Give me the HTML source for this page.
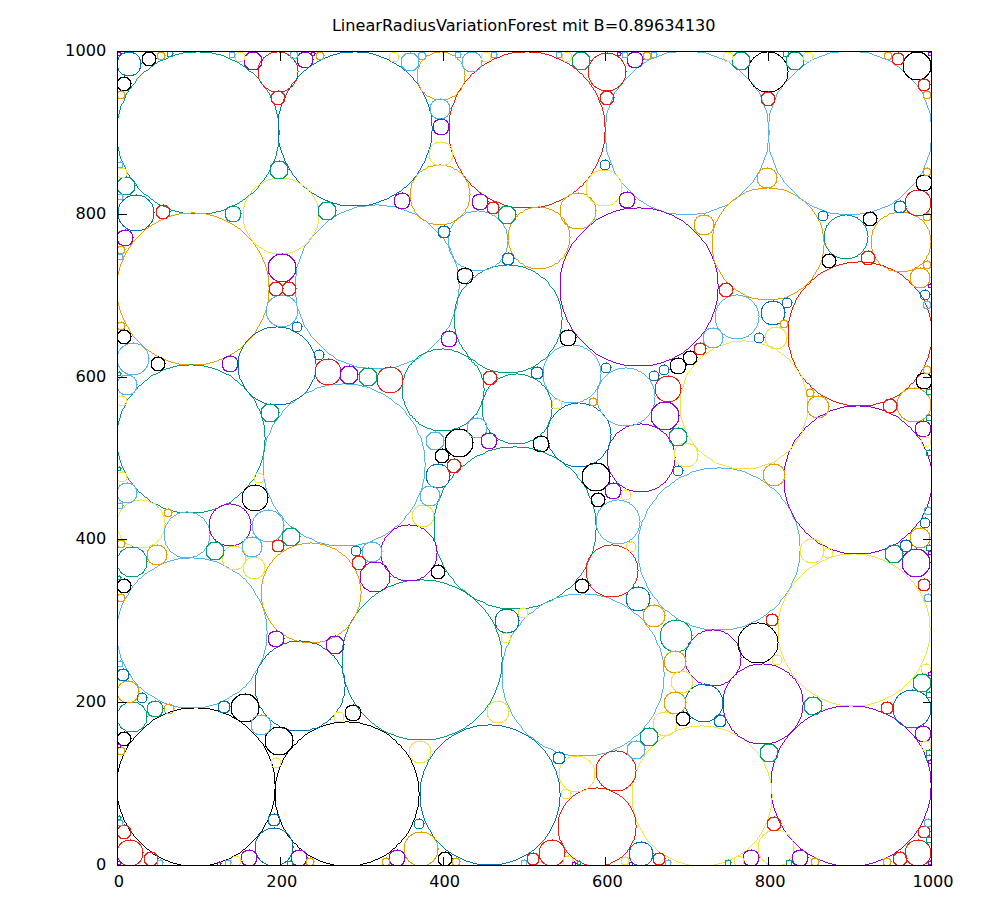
<!DOCTYPE html>
<html lang="de"><head><meta charset="utf-8"><title>LinearRadiusVariationForest</title>
<style>html,body{margin:0;padding:0;background:#fff}body{width:1000px;height:900px;overflow:hidden}svg{display:block}text{font-family:"DejaVu Sans","Liberation Sans",sans-serif;font-size:16.2px;fill:#000}.c{fill:none;stroke-width:1}</style></head><body>
<svg width="1000" height="900" viewBox="0 0 1000 900">
<rect width="1000" height="900" fill="#fff"/>
<g class="c" shape-rendering="crispEdges">
<path stroke="#56b4e9" d="m667 52.5h9m21 0h9m-42 1h3m39 0h3m-47 1h2m45 0h2m-52 1h3m49 0h3m-58 1h3m55 0h3m-63 1h2m61 0h2m-68 1h3m65 0h3m-73 1h2m71 0h3m-78 1h2m76 0h2m-80.5 0.5v1m80.5-0.5h2m0.5 0.5v1m-85.5-0.5h2m-2.5 0.5v1m87-1v1m1 0v1m-90.5-0.5h2m-4 1h2m91 0h2m-95.5 0.5v1m95.5-0.5h2m-98.5 0.5v1m99-1v1m-100 0v1m101-1v1m-102 0v1m103-1v1m-104 0v1m105-1v1m-106 0v1m107-1v1m-108 0v1m109-1v1m-110 0v1m111-1v1m-112 0v1m113-1v1m-114 0v1m115-1v1m-116 0v1m117-1v1m-118 0v1m119-1v1m-120 0v1m121-1v1m-122 0v1m123-1v1m-124 0v1m125-1v1m-126 0v1m127-1v1m-128 0v1m129-1v1m-130 0v1m131-1v1m-132 0v1m133-1v1m-134 0v2m135-2v2m-136 0v2m137-2v2m-138 0v1m139-1v1m-140 0v1m141-1v1m-142 0v1m143-1v1m-144 0v2m145-2v2m-146 0v3m147-3v3m-148 0v3m149-3v3m-150 0v2m151-2v2m-152 0v3m153-3v3m-154 0v3m155-3v3m-156 0v2m157-2v2m-158 0v3m159-3v3m-160 0v9m161-9v9m-162 0v21m163-21v8m1 0v5m-1 0v8m-162 0v9m161-9v9m-160 0v3m159-3v3m-158 0v2m157-2v2m-156 0v3m155-3v3m-154 0v3m153-3v3m-152 0v2m151-2v2m-150 0v3m149-3v3m-148 0v3m147-3v3m-146 0v2m145-2v2m-144 0v1m143-1v1m-142 0v1m141-1v1m-140 0v2m139-2v2m-138 0v1m137-1v1m-136 0v2m135-2v2m-134 0v2m133-2v2m-132 0v1m131-1v1m-130 0v1m129-1v1m-128 0v1m127-1v1m-126 0v1m125-1v1m-124 0v1m123-1v1m-122 0v1m121-1v1m-120 0v1m119-1v1m-118 0v1m117-1v1m-116 0v1m115-1v1m-114 0v1m113-1v1m-112 0v1m111-1v1m-110 0v1m109-1v1m-108 0v1m107-1v1m-106 0v1m105-1v1m-104 0v1m103-1v1m-102 0v1m101-1v1m-100 0v1m99-1v1m-98 0v1m95.5-0.5h2m-97 1h2m91 0h2m-2.5 0.5v1m-90.5-0.5h2m0.5 0.5v1m87-1v1m-1 0v1m-85.5-0.5h2m0.5 0.5v1m80.5-0.5h2m-82 1h2m76 0h2m-78 1h2m71 0h3m-74 1h3m65 0h3m-68 1h2m61 0h2m-63 1h3m55 0h3m-58 1h3m49 0h3m-52 1h2m45 0h2m-47 1h3m39 0h3m-42 1h9m21 0h9m-30 1h21"/>
<path stroke="#56b4e9" d="m830 52.5h9m21 0h9m-42 1h3m39 0h3m-47 1h2m45 0h2m-52 1h3m49 0h3m-58 1h3m55 0h3m-63 1h2m61 0h2m-68 1h3m65 0h3m-73 1h2m71 0h3m-78 1h2m76 0h2m-80.5 0.5v1m80.5-0.5h2m0.5 0.5v1m-85.5-0.5h2m-2.5 0.5v1m87-1v1m1 0v1m-90.5-0.5h2m-4 1h2m91 0h2m-95.5 0.5v1m95.5-0.5h2m-98.5 0.5v1m99-1v1m-100 0v1m101-1v1m-102 0v1m103-1v1m-104 0v1m105-1v1m-106 0v1m107-1v1m-108 0v1m109-1v1m-110 0v1m111-1v1m-112 0v1m113-1v1m-114 0v1m115-1v1m-116 0v1m117-1v1m-118 0v1m119-1v1m-120 0v1m121-1v1m-122 0v1m123-1v1m-124 0v1m125-1v1m-126 0v1m127-1v1m-128 0v1m129-1v1m-130 0v1m131-1v1m-132 0v1m133-1v1m-134 0v2m135-2v2m-136 0v2m137-2v2m-138 0v1m139-1v1m-140 0v1m141-1v1m-142 0v1m143-1v1m-144 0v2m145-2v2m-146 0v3m147-3v3m-148 0v3m149-3v3m-150 0v2m151-2v2m-152 0v3m153-3v3m-154 0v3m155-3v3m-156 0v2m157-2v2m-158 0v3m159-3v3m-160 0v9m161-9v9m-162 0v21m1 0v9m161-9v9m-160 0v3m159-3v3m-158 0v2m157-2v2m-156 0v3m155-3v3m-154 0v3m153-3v3m-152 0v2m151-2v2m-150 0v3m149-3v3m-148 0v3m147-3v3m-146 0v2m145-2v2m-144 0v1m143-1v1m-142 0v1m141-1v1m-140 0v2m139-2v2m-138 0v1m137-1v1m-136 0v2m135-2v2m-134 0v2m133-2v2m-132 0v1m131-1v1m-130 0v1m129-1v1m-128 0v1m127-1v1m-126 0v1m125-1v1m-124 0v1m123-1v1m-122 0v1m121-1v1m-120 0v1m119-1v1m-118 0v1m117-1v1m-116 0v1m115-1v1m-114 0v1m113-1v1m-112 0v1m111-1v1m-110 0v1m109-1v1m-108 0v1m107-1v1m-106 0v1m105-1v1m-104 0v1m103-1v1m-102 0v1m101-1v1m-100 0v1m99-1v1m-98 0v1m95.5-0.5h2m-97 1h2m91 0h2m-2.5 0.5v1m-90.5-0.5h2m0.5 0.5v1m87-1v1m-1 0v1m-85.5-0.5h2m0.5 0.5v1m80.5-0.5h2m-82 1h2m76 0h2m-78 1h2m71 0h3m-74 1h3m65 0h3m-68 1h2m61 0h2m-63 1h3m55 0h3m-58 1h3m49 0h3m-52 1h2m45 0h2m-47 1h3m39 0h3m-42 1h9m21 0h9m-30 1h21"/>
<path stroke="#56b4e9" d="m375 204.5h4m-13 1h9m4 0h8m-30 1h9m21 0h9m-42 1h3m39 0h3m-47 1h2m45 0h2m-52 1h3m49 0h3m-58 1h3m55 0h3m-63 1h2m61 0h2m-68 1h3m65 0h3m-73 1h2m71 0h3m-78 1h2m76 0h2m-80.5 0.5v1m80.5-0.5h2m0.5 0.5v1m-85.5-0.5h2m-2.5 0.5v1m87-1v1m1 0v1m-90.5-0.5h2m-4 1h2m91 0h2m-95.5 0.5v1m95.5-0.5h2m-98.5 0.5v1m99-1v1m-100 0v1m101-1v1m-102 0v1m103-1v1m-104 0v1m105-1v1m-106 0v1m107-1v1m-108 0v1m109-1v1m-110 0v1m111-1v1m-112 0v1m113-1v1m-114 0v1m115-1v1m-116 0v1m117-1v1m-118 0v1m119-1v1m-120 0v1m121-1v1m-122 0v1m123-1v1m-124 0v1m125-1v1m-126 0v1m127-1v1m-128 0v1m129-1v1m-130 0v1m131-1v1m-132 0v1m133-1v1m-134 0v2m135-2v2m-136 0v2m137-2v2m-138 0v1m139-1v1m-140 0v1m141-1v1m-142 0v1m143-1v1m-144 0v2m145-2v2m-146 0v3m147-3v3m-148 0v3m149-3v3m-150 0v2m151-2v2m-152 0v3m153-3v3m-154 0v3m155-3v3m-156 0v2m157-2v2m-158 0v3m159-3v3m-160 0v9m161-9v9m-162 0v21m163-21v8m1 0v5m-1 0v8m-162 0v9m161-9v9m-160 0v3m159-3v3m-158 0v2m157-2v2m-156 0v3m155-3v3m-154 0v3m153-3v3m-152 0v2m151-2v2m-150 0v3m149-3v3m-148 0v3m147-3v3m-146 0v2m145-2v2m-144 0v1m143-1v1m-142 0v1m141-1v1m-140 0v2m139-2v2m-138 0v1m137-1v1m-136 0v2m135-2v2m-134 0v2m133-2v2m-132 0v1m131-1v1m-130 0v1m129-1v1m-128 0v1m127-1v1m-126 0v1m125-1v1m-124 0v1m123-1v1m-122 0v1m121-1v1m-120 0v1m119-1v1m-118 0v1m117-1v1m-116 0v1m115-1v1m-114 0v1m113-1v1m-112 0v1m111-1v1m-110 0v1m109-1v1m-108 0v1m107-1v1m-106 0v1m105-1v1m-104 0v1m103-1v1m-102 0v1m101-1v1m-100 0v1m99-1v1m-98 0v1m95.5-0.5h2m-97 1h2m91 0h2m-2.5 0.5v1m-90.5-0.5h2m0.5 0.5v1m87-1v1m-86 0v1m85-1v1m-84 0v1m81.5-0.5h2m-83 1h2m77 0h2m-79 1h3m71 0h3m-74 1h3m65 0h3m-68 1h2m61 0h2m-63 1h3m55 0h3m-58 1h3m49 0h3m-52 1h2m45 0h2m-47 1h3m39 0h3m-42 1h9m21 0h9m-30 1h21"/>
<path stroke="#009e73" d="m513 446.5h4m-17 1h13m4 0h12m-33 1h4m29 0h4m-41 1h4m37 0h5m-50 1h4m46 0h3m-55 1h2m53 0h2m-57.5 0.5v1m57.5-0.5h2m-62 1h2m60 0h2m-67 1h3m64 0h2m-72 1h3m69 0h3m-77 1h2m75 0h2m-79.5 0.5v1m79.5-0.5h2m0.5 0.5v1m-84.5-0.5h2m-2.5 0.5v1m85.5-0.5h2m-88.5 0.5v1m89-1v1m-91.5 0.5h2m90 0h2m-94.5 0.5v1m95-1v1m-96 0v1m97-1v1m-98 0v1m99-1v1m1 0v1m-102.5-0.5h2m-4 1h2m103 0h2m-107.5 0.5v1m107.5-0.5h2m-110.5 0.5v1m111-1v1m-112 0v1m113-1v1m-114 0v1m115-1v1m-116 0v1m117-1v1m-118 0v1m119-1v1m-120 0v1m121-1v1m-122 0v2m123-2v2m-124 0v2m125-2v2m-126 0v1m127-1v1m-128 0v1m129-1v1m-130 0v1m131-1v1m-132 0v2m133-2v2m-134 0v1m135-1v1m-136 0v1m137-1v1m-138 0v2m139-2v2m-140 0v1m141-1v1m-142 0v2m143-2v2m-144 0v3m145-3v3m-146 0v3m147-3v3m-148 0v2m149-2v2m-150 0v1m151-1v1m-152 0v2m153-2v2m-154 0v4m155-4v4m-156 0v4m157-4v4m-158 0v4m159-4v4m-160 0v29m161-29v12m1 0v5m-1 0v12m-160 0v4m159-4v4m-158 0v5m157-5v5m-156 0v3m155-3v3m-154 0v2m153-2v2m-152 0v2m151-2v2m-150 0v2m149-2v2m-148 0v2m147-2v2m-146 0v3m145-3v3m-144 0v2m143-2v2m-142 0v2m141-2v2m-140 0v1m139-1v1m-138 0v2m137-2v2m-136 0v1m135-1v1m-134 0v2m133-2v2m-132 0v1m131-1v1m-130 0v1m129-1v1m-128 0v1m127-1v1m-126 0v1m125-1v1m-124 0v2m123-2v2m-122 0v2m121-2v2m-120 0v1m119-1v1m-118 0v1m117-1v1m-116 0v1m115-1v1m-114 0v1m113-1v1m-112 0v1m111-1v1m-110 0v1m107.5-0.5h2m-109 1h2m103 0h2m-2.5 0.5v1m-102.5-0.5h2m0.5 0.5v1m99-1v1m-98 0v1m97-1v1m-96 0v1m95-1v1m-94.5 0.5h2m90 0h2m-91.5 0.5v1m89-1v1m-88 0v1m85.5-0.5h2m-2.5 0.5v1m-84.5-0.5h2m0.5 0.5v1m79.5-0.5h2m-81 1h2m75 0h2m-77 1h3m69 0h3m-72 1h3m64 0h2m-66 1h2m60 0h2m-61.5 0.5v1m57.5-0.5h2m-59 1h2m53 0h2m-55 1h4m46 0h3m-49 1h4m37 0h5m-42 1h4m29 0h4m-33 1h29"/>
<path stroke="#009e73" d="m183 52.5h13m4 0h12m-33 1h4m29 0h4m-41 1h4m37 0h5m-50 1h4m46 0h3m-55 1h2m53 0h2m-57.5 0.5v1m57.5-0.5h2m-62 1h2m60 0h2m-67 1h3m64 0h2m-72 1h3m69 0h3m-77 1h2m75 0h2m-79.5 0.5v1m79.5-0.5h2m0.5 0.5v1m-84.5-0.5h2m-2.5 0.5v1m85.5-0.5h2m-88.5 0.5v1m89-1v1m-91.5 0.5h2m90 0h2m-94.5 0.5v1m95-1v1m-96 0v1m97-1v1m-98 0v1m99-1v1m1 0v1m-102.5-0.5h2m-4 1h2m103 0h2m-107.5 0.5v1m107.5-0.5h2m-110.5 0.5v1m111-1v1m-112 0v1m113-1v1m-114 0v1m115-1v1m-116 0v1m117-1v1m-118 0v1m119-1v1m-120 0v1m121-1v1m-122 0v2m123-2v2m-124 0v2m125-2v2m-126 0v1m127-1v1m-128 0v1m129-1v1m-130 0v1m131-1v1m-132 0v2m133-2v2m-134 0v1m135-1v1m-136 0v1m137-1v1m-138 0v2m139-2v2m-140 0v1m141-1v1m-142 0v2m143-2v2m-144 0v3m145-3v3m-146 0v3m147-3v3m-148 0v2m149-2v2m-150 0v1m151-1v1m-152 0v2m153-2v2m-154 0v4m155-4v4m-156 0v4m157-4v4m-158 0v4m159-4v4m1 0v12m1 0v5m-1 0v12m-160 0v4m159-4v4m-158 0v5m157-5v5m-156 0v3m155-3v3m-154 0v2m153-2v2m-152 0v2m151-2v2m-150 0v2m149-2v2m-148 0v2m147-2v2m-146 0v3m145-3v3m-144 0v2m143-2v2m-142 0v2m141-2v2m-140 0v1m139-1v1m-138 0v2m137-2v2m-136 0v1m135-1v1m-134 0v2m133-2v2m-132 0v1m131-1v1m-130 0v1m129-1v1m-128 0v1m127-1v1m-126 0v1m125-1v1m-124 0v2m123-2v2m-122 0v2m121-2v2m-120 0v1m119-1v1m-118 0v1m117-1v1m-116 0v1m115-1v1m-114 0v1m113-1v1m-112 0v1m111-1v1m-110 0v1m107.5-0.5h2m-109 1h2m103 0h2m-2.5 0.5v1m-102.5-0.5h2m0.5 0.5v1m99-1v1m-98 0v1m97-1v1m-96 0v1m95-1v1m-94.5 0.5h2m90 0h2m-91.5 0.5v1m89-1v1m-88 0v1m85.5-0.5h2m-2.5 0.5v1m-84.5-0.5h2m0.5 0.5v1m79.5-0.5h2m-81 1h2m75 0h2m-77 1h3m69 0h3m-72 1h3m64 0h2m-66 1h2m60 0h2m-61.5 0.5v1m57.5-0.5h2m-59 1h2m53 0h2m-55 1h4m46 0h3m-49 1h4m37 0h5m-42 1h4m29 0h4m-33 1h29"/>
<path stroke="#56b4e9" d="m717 467.5h4m-17 1h13m4 0h12m-33 1h4m29 0h4m-41 1h4m37 0h5m-50 1h4m46 0h3m-55 1h2m53 0h2m-57.5 0.5v1m57.5-0.5h2m-62 1h2m60 0h2m-67 1h3m64 0h2m-72 1h3m69 0h3m-77 1h2m75 0h2m-79.5 0.5v1m79.5-0.5h2m0.5 0.5v1m-84.5-0.5h2m-2.5 0.5v1m85.5-0.5h2m-88.5 0.5v1m89-1v1m-91.5 0.5h2m90 0h2m-94.5 0.5v1m95-1v1m-96 0v1m97-1v1m-98 0v1m99-1v1m1 0v1m-102.5-0.5h2m-4 1h2m103 0h2m-107.5 0.5v1m107.5-0.5h2m-110.5 0.5v1m111-1v1m-112 0v1m113-1v1m-114 0v1m115-1v1m-116 0v1m117-1v1m-118 0v1m119-1v1m-120 0v1m121-1v1m-122 0v2m123-2v2m-124 0v2m125-2v2m-126 0v1m127-1v1m-128 0v1m129-1v1m-130 0v1m131-1v1m-132 0v2m133-2v2m-134 0v1m135-1v1m-136 0v1m137-1v1m-138 0v2m139-2v2m-140 0v1m141-1v1m-142 0v2m143-2v2m-144 0v3m145-3v3m-146 0v3m147-3v3m-148 0v2m149-2v2m-150 0v1m151-1v1m-152 0v2m153-2v2m-154 0v4m155-4v4m-156 0v4m157-4v4m-158 0v4m159-4v4m-160 0v29m161-29v12m1 0v5m-1 0v12m-160 0v4m159-4v4m-158 0v5m157-5v5m-156 0v3m155-3v3m-154 0v2m153-2v2m-152 0v2m151-2v2m-150 0v2m149-2v2m-148 0v2m147-2v2m-146 0v3m145-3v3m-144 0v2m143-2v2m-142 0v2m141-2v2m-140 0v1m139-1v1m-138 0v2m137-2v2m-136 0v1m135-1v1m-134 0v2m133-2v2m-132 0v1m131-1v1m-130 0v1m129-1v1m-128 0v1m127-1v1m-126 0v1m125-1v1m-124 0v2m123-2v2m-122 0v2m121-2v2m-120 0v1m119-1v1m-118 0v1m117-1v1m-116 0v1m115-1v1m-114 0v1m113-1v1m-112 0v1m111-1v1m-110 0v1m107.5-0.5h2m-109 1h2m103 0h2m-2.5 0.5v1m-102.5-0.5h2m0.5 0.5v1m99-1v1m-98 0v1m97-1v1m-96 0v1m95-1v1m-94.5 0.5h2m90 0h2m-91.5 0.5v1m89-1v1m-88 0v1m85.5-0.5h2m-2.5 0.5v1m-84.5-0.5h2m0.5 0.5v1m79.5-0.5h2m-81 1h2m75 0h2m-77 1h3m69 0h3m-72 1h3m64 0h2m-66 1h2m60 0h2m-61.5 0.5v1m57.5-0.5h2m-59 1h2m53 0h2m-55 1h4m46 0h3m-49 1h4m37 0h5m-42 1h4m29 0h4m-33 1h29"/>
<path stroke="#56b4e9" d="m581 593.5h4m-17 1h13m4 0h12m-33 1h4m29 0h4m-41 1h4m37 0h5m-50 1h4m46 0h3m-55 1h2m53 0h2m-57.5 0.5v1m57.5-0.5h2m-62 1h2m60 0h2m-67 1h3m64 0h2m-72 1h3m69 0h3m-77 1h2m75 0h2m-79.5 0.5v1m79.5-0.5h2m0.5 0.5v1m-84.5-0.5h2m-2.5 0.5v1m85.5-0.5h2m-88.5 0.5v1m89-1v1m-91.5 0.5h2m90 0h2m-94.5 0.5v1m95-1v1m-96 0v1m97-1v1m-98 0v1m99-1v1m1 0v1m-102.5-0.5h2m-4 1h2m103 0h2m-107.5 0.5v1m107.5-0.5h2m-110.5 0.5v1m111-1v1m-112 0v1m113-1v1m-114 0v1m115-1v1m-116 0v1m117-1v1m-118 0v1m119-1v1m-120 0v1m121-1v1m-122 0v2m123-2v2m-124 0v2m125-2v2m-126 0v1m127-1v1m-128 0v1m129-1v1m-130 0v1m131-1v1m-132 0v2m133-2v2m-134 0v1m135-1v1m-136 0v1m137-1v1m-138 0v2m139-2v2m-140 0v1m141-1v1m-142 0v2m143-2v2m-144 0v3m145-3v3m-146 0v3m147-3v3m-148 0v2m149-2v2m-150 0v1m151-1v1m-152 0v2m153-2v2m-154 0v4m155-4v4m-156 0v4m157-4v4m-158 0v4m159-4v4m-160 0v29m161-29v12m1 0v5m-1 0v12m-160 0v4m159-4v4m-158 0v5m157-5v5m-156 0v3m155-3v3m-154 0v2m153-2v2m-152 0v2m151-2v2m-150 0v2m149-2v2m-148 0v2m147-2v2m-146 0v3m145-3v3m-144 0v2m143-2v2m-142 0v2m141-2v2m-140 0v1m139-1v1m-138 0v2m137-2v2m-136 0v1m135-1v1m-134 0v2m133-2v2m-132 0v1m131-1v1m-130 0v1m129-1v1m-128 0v1m127-1v1m-126 0v1m125-1v1m-124 0v2m123-2v2m-122 0v2m121-2v2m-120 0v1m119-1v1m-118 0v1m117-1v1m-116 0v1m115-1v1m-114 0v1m113-1v1m-112 0v1m111-1v1m-110 0v1m107.5-0.5h2m-109 1h2m103 0h2m-2.5 0.5v1m-102.5-0.5h2m0.5 0.5v1m99-1v1m-98 0v1m97-1v1m-96 0v1m95-1v1m-94.5 0.5h2m90 0h2m-91.5 0.5v1m89-1v1m-88 0v1m85.5-0.5h2m-2.5 0.5v1m-84.5-0.5h2m0.5 0.5v1m79.5-0.5h2m-81 1h2m75 0h2m-77 1h3m69 0h3m-72 1h3m64 0h2m-66 1h2m60 0h2m-61.5 0.5v1m57.5-0.5h2m-59 1h2m53 0h2m-55 1h4m46 0h3m-49 1h4m37 0h5m-42 1h4m29 0h4m-33 1h29"/>
<path stroke="#56b4e9" d="m342 383.5h4m-17 1h13m4 0h12m-33 1h4m29 0h4m-41 1h4m37 0h5m-50 1h4m46 0h3m-55 1h2m53 0h2m-57.5 0.5v1m57.5-0.5h2m-62 1h2m60 0h2m-67 1h3m64 0h2m-72 1h3m69 0h3m-77 1h2m75 0h2m-79.5 0.5v1m79.5-0.5h2m0.5 0.5v1m-84.5-0.5h2m-2.5 0.5v1m85.5-0.5h2m-88.5 0.5v1m89-1v1m-91.5 0.5h2m90 0h2m-94.5 0.5v1m95-1v1m-96 0v1m97-1v1m-98 0v1m99-1v1m1 0v1m-102.5-0.5h2m-4 1h2m103 0h2m-107.5 0.5v1m107.5-0.5h2m-110.5 0.5v1m111-1v1m-112 0v1m113-1v1m-114 0v1m115-1v1m-116 0v1m117-1v1m-118 0v1m119-1v1m-120 0v1m121-1v1m-122 0v2m123-2v2m-124 0v2m125-2v2m-126 0v1m127-1v1m-128 0v1m129-1v1m-130 0v1m131-1v1m-132 0v2m133-2v2m-134 0v1m135-1v1m-136 0v1m137-1v1m-138 0v2m139-2v2m-140 0v1m141-1v1m-142 0v2m143-2v2m-144 0v3m145-3v3m-146 0v3m147-3v3m-148 0v2m149-2v2m-150 0v1m151-1v1m-152 0v2m153-2v2m-154 0v4m155-4v4m-156 0v4m157-4v4m-158 0v4m159-4v4m-160 0v29m161-29v12m1 0v5m-1 0v12m-160 0v4m159-4v4m-158 0v5m157-5v5m-156 0v3m155-3v3m-154 0v2m153-2v2m-152 0v2m151-2v2m-150 0v2m149-2v2m-148 0v2m147-2v2m-146 0v3m145-3v3m-144 0v2m143-2v2m-142 0v2m141-2v2m-140 0v1m139-1v1m-138 0v2m137-2v2m-136 0v1m135-1v1m-134 0v2m133-2v2m-132 0v1m131-1v1m-130 0v1m129-1v1m-128 0v1m127-1v1m-126 0v1m125-1v1m-124 0v2m123-2v2m-122 0v2m121-2v2m-120 0v1m119-1v1m-118 0v1m117-1v1m-116 0v1m115-1v1m-114 0v1m113-1v1m-112 0v1m111-1v1m-110 0v1m107.5-0.5h2m-109 1h2m103 0h2m-2.5 0.5v1m-102.5-0.5h2m0.5 0.5v1m99-1v1m-98 0v1m97-1v1m-96 0v1m95-1v1m-94.5 0.5h2m90 0h2m-91.5 0.5v1m89-1v1m-88 0v1m85.5-0.5h2m-2.5 0.5v1m-84.5-0.5h2m0.5 0.5v1m79.5-0.5h2m-81 1h2m75 0h2m-77 1h3m69 0h3m-72 1h3m64 0h2m-66 1h2m60 0h2m-61.5 0.5v1m57.5-0.5h2m-59 1h2m53 0h2m-55 1h4m46 0h3m-49 1h4m37 0h5m-42 1h4m29 0h4m-33 1h29"/>
<path stroke="#9400d3" d="m849 705.5h4m-17 1h13m4 0h12m-33 1h4m29 0h4m-41 1h4m37 0h4m-48 1h3m45 0h3m-53 1h2m51 0h2m-58 1h3m55 0h3m-64 1h3m61 0h3m-69 1h2m67 0h2m-71.5 0.5v1m71.5-0.5h2m-76 1h2m74 0h2m-80 1h2m78 0h2m-84 1h2m82 0h2m-86.5 0.5v1m87-1v1m1 0v1m-90.5-0.5h2m-2.5 0.5v1m91.5-0.5h2m-94.5 0.5v1m95-1v1m-97.5 0.5h2m96 0h2m-100.5 0.5v1m101-1v1m-102 0v1m103-1v1m-104 0v1m105-1v1m-106 0v1m107-1v1m-108 0v1m109-1v1m-110 0v1m111-1v1m-112 0v1m113-1v1m-114 0v1m115-1v1m-116 0v1m117-1v1m-118 0v1m119-1v1m-120 0v1m121-1v1m-122 0v1m123-1v1m-124 0v1m125-1v1m-126 0v2m127-2v2m-128 0v1m129-1v1m-130 0v1m131-1v1m-132 0v2m133-2v2m-134 0v1m135-1v1m-136 0v2m137-2v2m-138 0v1m139-1v1m-140 0v2m141-2v2m-142 0v2m143-2v2m-144 0v2m145-2v2m-146 0v3m147-3v3m-148 0v3m149-3v3m-150 0v2m151-2v2m-152 0v3m153-3v3m-154 0v4m155-4v4m-156 0v4m157-4v4m-158 0v29m159-29v12m0 5v12m-158 0v4m157-4v4m-156 0v4m155-4v4m-154 0v3m153-3v3m-152 0v2m151-2v2m-150 0v3m149-3v3m-148 0v3m147-3v3m-146 0v2m145-2v2m-144 0v2m143-2v2m-142 0v2m141-2v2m-140 0v1m139-1v2m-138-1v2m137-1v2m-136-1v2m135-1v1m-134 0v1m133-1v1m-132 0v2m131-2v2m-130 0v1m129-1v1m-128 0v2m127-2v2m-126 0v1m125-1v1m-124 0v1m123-1v1m-122 0v1m121-1v1m-120 0v1m119-1v1m-118 0v1m117-1v1m-116 0v1m115-1v1m-114 0v1m113-1v1m-112 0v1m111-1v1m-110 0v1m109-1v1m-108 0v1m107-1v1m-106 0v1m105-1v1m-104 0v1m103-1v1m-102 0v1m101-1v1m-100.5 0.5h2m96 0h2m-97.5 0.5v1m95-1v1m-94 0v1m91.5-0.5h2m-2.5 0.5v1m-90.5-0.5h2m0.5 0.5v1m87-1v1m-86.5 0.5h2m82 0h2m-84 1h2m78 0h2m-80 1h2m74 0h2m-75.5 0.5v1m71.5-0.5h2m-73 1h2m67 0h2m-69 1h3m61 0h3m-64 1h3m55 0h3m-58 1h2m51 0h2m-53 1h3m45 0h3m-48 1h4m37 0h4m-41 1h4m29 0h4"/>
<path stroke="#009e73" d="m420 579.5h4m-17 1h13m4 0h12m-33 1h4m29 0h4m-41 1h4m37 0h4m-48 1h3m45 0h3m-53 1h2m51 0h2m-58 1h3m55 0h3m-64 1h3m61 0h3m-69 1h2m67 0h2m-71.5 0.5v1m71.5-0.5h2m-76 1h2m74 0h2m-80 1h2m78 0h2m-84 1h2m82 0h2m-86.5 0.5v1m87-1v1m1 0v1m-90.5-0.5h2m-2.5 0.5v1m91.5-0.5h2m-94.5 0.5v1m95-1v1m-97.5 0.5h2m96 0h2m-100.5 0.5v1m101-1v1m-102 0v1m103-1v1m-104 0v1m105-1v1m-106 0v1m107-1v1m-108 0v1m109-1v1m-110 0v1m111-1v1m-112 0v1m113-1v1m-114 0v1m115-1v1m-116 0v1m117-1v1m-118 0v1m119-1v1m-120 0v1m121-1v1m-122 0v1m123-1v1m-124 0v1m125-1v1m-126 0v2m127-2v2m-128 0v1m129-1v1m-130 0v1m131-1v1m-132 0v2m133-2v2m-134 0v1m135-1v1m-136 0v2m137-2v2m-138 0v1m139-1v1m-140 0v2m141-2v2m-142 0v2m143-2v2m-144 0v2m145-2v2m-146 0v3m147-3v3m-148 0v3m149-3v3m-150 0v2m151-2v2m-152 0v3m153-3v3m-154 0v4m155-4v4m-156 0v4m157-4v4m-158 0v29m159-29v12m1 0v5m-1 0v12m-158 0v4m157-4v4m-156 0v4m155-4v4m-154 0v3m153-3v3m-152 0v2m151-2v2m-150 0v3m149-3v3m-148 0v3m147-3v3m-146 0v2m145-2v2m-144 0v2m143-2v2m-142 0v2m141-2v2m-140 0v1m139-1v2m-138-1v2m137-1v2m-136-1v2m135-1v1m-134 0v1m133-1v1m-132 0v2m131-2v2m-130 0v1m129-1v1m-128 0v2m127-2v2m-126 0v1m125-1v1m-124 0v1m123-1v1m-122 0v1m121-1v1m-120 0v1m119-1v1m-118 0v1m117-1v1m-116 0v1m115-1v1m-114 0v1m113-1v1m-112 0v1m111-1v1m-110 0v1m109-1v1m-108 0v1m107-1v1m-106 0v1m105-1v1m-104 0v1m103-1v1m-102 0v1m101-1v1m-100.5 0.5h2m96 0h2m-97.5 0.5v1m95-1v1m-94 0v1m91.5-0.5h2m-2.5 0.5v1m-90.5-0.5h2m0.5 0.5v1m87-1v1m-86.5 0.5h2m82 0h2m-83.5 0.5v1m79.5-0.5h2m-81 1h2m75 0h2m-77 1h2m71 0h2m-73 1h2m67 0h2m-69 1h3m61 0h3m-64 1h3m55 0h3m-58 1h2m51 0h2m-53 1h3m45 0h3m-48 1h4m37 0h4m-41 1h4m29 0h4m-33 1h29"/>
<path stroke="#9400d3" d="m637 207.5h4m-17 1h13m4 0h12m-33 1h4m29 0h4m-41 1h4m37 0h4m-48 1h3m45 0h3m-53 1h2m51 0h2m-58 1h3m55 0h3m-63 1h2m61 0h3m-68 1h2m66 0h2m0.5 0.5v1m-72.5-0.5h2m-4 1h2m73 0h2m-79 1h2m77 0h2m-83 1h2m81 0h2m-85.5 0.5v1m85.5-0.5h2m-88.5 0.5v1m89-1v1m-90 0v1m91-1v1m-92 0v1m93-1v1m-95.5 0.5h2m94 0h2m-98.5 0.5v1m99-1v1m-100 0v1m101-1v1m-102 0v1m103-1v1m-104 0v1m105-1v1m-106 0v1m107-1v1m-108 0v1m109-1v1m-110 0v1m111-1v1m-112 0v1m113-1v1m-114 0v1m115-1v1m-116 0v1m117-1v1m-118 0v1m119-1v1m-120 0v1m121-1v1m-122 0v1m123-1v1m-124 0v2m125-2v2m-126 0v1m127-1v1m-128 0v1m129-1v1m-130 0v1m131-1v1m-132 0v1m133-1v1m-134 0v2m135-2v2m-136 0v2m137-2v2m-138 0v2m139-2v2m-140 0v2m141-2v2m-142 0v2m143-2v2m-144 0v2m145-2v2m-146 0v3m147-3v3m-148 0v2m149-2v2m-150 0v3m151-3v3m-152 0v4m153-4v4m-154 0v4m155-4v4m-156 0v29m157-29v12m1 0v5m-1 0v12m-156 0v4m155-4v4m-154 0v4m153-4v4m-152 0v3m151-3v3m-150 0v2m149-2v2m-148 0v3m147-3v3m-146 0v3m145-3v3m-144 0v2m143-2v2m-142 0v1m141-1v1m-140 0v2m139-2v2m-138 0v2m137-2v2m-136 0v2m135-2v2m-134 0v2m133-2v2m-132 0v1m131-1v1m-130 0v1m129-1v1m-128 0v1m127-1v1m-126 0v2m125-2v2m-124 0v1m123-1v1m-122 0v1m121-1v1m-120 0v1m119-1v1m-118 0v1m117-1v1m-116 0v1m115-1v1m-114 0v1m113-1v1m-112 0v1m111-1v1m-110 0v1m109-1v1m-108 0v1m107-1v1m-106 0v1m105-1v1m-104 0v1m103-1v1m-102 0v1m101-1v1m-100 0v1m99-1v1m-98.5 0.5h2m94 0h2m-95.5 0.5v1m93-1v1m-92 0v1m91-1v1m-90 0v1m89-1v1m-88 0v1m85.5-0.5h2m-87 1h2m81 0h2m-83 1h2m77 0h2m-79 1h2m73 0h2m-2.5 0.5v1m-72.5-0.5h2m0 1h2m66 0h2m-68 1h2m61 0h3m-64 1h3m55 0h3m-58 1h2m51 0h2m-53 1h3m45 0h3m-48 1h4m37 0h4m-41 1h4m29 0h4m-33 1h29"/>
<path stroke="#000000" d="m194 707.5h4m-17 1h13m4 0h12m-33 1h4m29 0h4m-41 1h4m37 0h4m-48 1h3m45 0h3m-53 1h2m51 0h2m-58 1h3m55 0h3m-63 1h2m61 0h3m-68 1h2m66 0h2m0.5 0.5v1m-72.5-0.5h2m-4 1h2m73 0h2m-79 1h2m77 0h2m-83 1h2m81 0h2m-85.5 0.5v1m85.5-0.5h2m-88.5 0.5v1m89-1v1m-90 0v1m91-1v1m-92 0v1m93-1v1m-95.5 0.5h2m94 0h2m-98.5 0.5v1m99-1v1m-100 0v1m101-1v1m-102 0v1m103-1v1m-104 0v1m105-1v1m-106 0v1m107-1v1m-108 0v1m109-1v1m-110 0v1m111-1v1m-112 0v1m113-1v1m-114 0v1m115-1v1m-116 0v1m117-1v1m-118 0v1m119-1v1m-120 0v1m121-1v1m-122 0v1m123-1v1m-124 0v2m125-2v2m-126 0v1m127-1v1m-128 0v1m129-1v1m-130 0v1m131-1v1m-132 0v1m133-1v1m-134 0v2m135-2v2m-136 0v2m137-2v2m-138 0v2m139-2v2m-140 0v2m141-2v2m-142 0v2m143-2v2m-144 0v2m145-2v2m-146 0v3m147-3v3m-148 0v2m149-2v2m-150 0v3m151-3v3m-152 0v4m153-4v4m-154 0v4m155-4v4m1 0v12m1 0v5m-1 0v12m-156 0v4m155-4v4m-154 0v4m153-4v4m-152 0v3m151-3v3m-150 0v2m149-2v2m-148 0v3m147-3v3m-146 0v3m145-3v3m-144 0v2m143-2v2m-142 0v1m141-1v1m-140 0v2m139-2v2m-138 0v2m137-2v2m-136 0v2m135-2v2m-134 0v2m133-2v2m-132 0v1m131-1v1m-130 0v1m129-1v1m-128 0v1m127-1v1m-126 0v2m125-2v2m-124 0v1m123-1v1m-122 0v1m121-1v1m-120 0v1m119-1v1m-118 0v1m117-1v1m-116 0v1m115-1v1m-114 0v1m113-1v1m-112 0v1m111-1v1m-110 0v1m109-1v1m-108 0v1m107-1v1m-106 0v1m105-1v1m-104 0v1m103-1v1m-102 0v1m101-1v1m-100 0v1m99-1v1m-98.5 0.5h2m94 0h2m-95.5 0.5v1m93-1v1m-92 0v1m91-1v1m-90 0v1m89-1v1m-88 0v1m85.5-0.5h2m-87 1h2m81 0h2m-83 1h2m77 0h2m-79 1h2m73 0h2m-2.5 0.5v1m-72.5-0.5h2m0 1h2m66 0h2m-68 1h2m61 0h3m-64 1h3m55 0h3m-58 1h2m51 0h2m-53 1h3m45 0h3m-48 1h4m37 0h4m-41 1h4m29 0h4"/>
<path stroke="#e51e10" d="m512 52.5h13m4 0h12m-33 1h4m29 0h4m-41 1h4m37 0h4m-47 1h2m45 0h3m-52 1h2m50 0h2m-57 1h3m54 0h2m-62 1h3m59 0h3m-67 1h2m65 0h2m-69.5 0.5v1m69.5-0.5h2m-74 1h2m72 0h2m-78 1h2m76 0h2m-82 1h2m80 0h2m-84.5 0.5v1m85-1v1m-87.5 0.5h2m86 0h2m-90.5 0.5v1m91-1v1m1 0v1m-94.5-0.5h2m-2.5 0.5v1m95.5-0.5h2m-98.5 0.5v1m99-1v1m-100 0v1m101-1v1m-102 0v1m103-1v1m-104 0v1m105-1v1m-107.5 0.5h2m106 0h2m-110.5 0.5v1m111-1v1m-112 0v2m113-2v2m-114 0v1m115-1v1m-116 0v1m117-1v1m-118 0v1m119-1v1m-120 0v1m121-1v1m-122 0v1m123-1v1m-124 0v2m125-2v2m-126 0v1m127-1v1m-128 0v2m129-2v2m-130 0v1m131-1v1m-132 0v2m133-2v2m-134 0v1m135-1v1m-136 0v2m137-2v2m-138 0v2m139-2v2m-140 0v2m141-2v2m-142 0v3m143-3v3m-144 0v3m145-3v3m-146 0v2m147-2v2m-148 0v2m149-2v2m-150 0v4m151-4v4m-152 0v4m153-4v4m-154 0v29m155-29v12m1 0v5m-1 0v12m-154 0v4m153-4v4m-152 0v4m151-4v4m-150 0v3m149-3v3m-148 0v2m147-2v2m-146 0v2m145-2v2m-144 0v3m143-3v3m-142 0v2m141-2v2m-140 0v2m139-2v2m-138 0v2m137-2v2m-136 0v1m135-1v1m-134 0v2m133-2v2m-132 0v2m131-2v2m-130 0v2m129-2v2m-128 0v1m127-1v1m-126 0v1m125-1v1m-124 0v2m123-2v2m-122 0v1m121-1v1m-120 0v1m119-1v1m-118 0v1m117-1v1m-116 0v1m115-1v1m-114 0v2m113-2v2m-112 0v1m111-1v1m-110.5 0.5h2m106 0h2m-107.5 0.5v1m105-1v1m-104 0v1m103-1v1m-102 0v1m101-1v1m-100 0v1m99-1v1m-98 0v1m95.5-0.5h2m-2.5 0.5v1m-94.5-0.5h2m0.5 0.5v1m91-1v1m-90.5 0.5h2m86 0h2m-87.5 0.5v1m85-1v1m-84.5 0.5h2m80 0h2m-81.5 0.5v1m77.5-0.5h2m-79 1h2m73 0h2m-75 1h2m69 0h2m-71 1h2m65 0h2m-67 1h3m59 0h3m-62 1h3m54 0h2m-56 1h2m50 0h2m-52 1h2m45 0h3m-48 1h4m37 0h4m-41 1h4m29 0h4m-33 1h29"/>
<path stroke="#0072b2" d="m340 52.5h13m4 0h12m-32 1h3m29 0h4m-40 1h4m36 0h3m-46 1h3m43 0h3m-51 1h2m49 0h2m-56 1h3m53 0h3m-61 1h2m59 0h3m-66 1h2m64 0h2m0.5 0.5v1m-70.5-0.5h2m-4 1h2m71 0h2m-75.5 0.5v1m75.5-0.5h2m-80 1h2m78 0h2m0.5 0.5v1m-84.5-0.5h2m-4 1h2m85 0h2m-89.5 0.5v1m89.5-0.5h2m-92.5 0.5v1m93-1v1m-94 0v1m95-1v1m-96 0v1m97-1v1m-99.5 0.5h2m98 0h2m-102.5 0.5v1m103-1v1m-104 0v1m105-1v1m-106 0v1m107-1v1m-108 0v1m109-1v1m-110 0v1m111-1v1m-112 0v1m113-1v1m-114 0v1m115-1v1m-116 0v2m117-2v2m-118 0v1m119-1v1m-120 0v1m121-1v1m-122 0v1m123-1v1m-124 0v1m125-1v1m-126 0v2m127-2v2m-128 0v2m129-2v2m-130 0v2m131-2v2m-132 0v1m133-1v1m-134 0v2m135-2v2m-136 0v2m137-2v2m-138 0v2m139-2v2m-140 0v2m141-2v2m-142 0v3m143-3v3m-144 0v2m145-2v2m-146 0v3m147-3v3m-148 0v4m149-4v4m-150 0v3m151-3v3m-152 0v29m153-29v12m1 0v5m-1 0v12m-152 0v4m151-4v4m-150 0v3m149-3v3m-148 0v3m147-3v3m-146 0v2m145-2v2m-144 0v3m143-3v3m-142 0v3m141-3v3m-140 0v2m139-2v2m-138 0v1m137-1v1m-136 0v2m135-2v2m-134 0v2m133-2v2m-132 0v2m131-2v2m-130 0v1m129-1v1m-128 0v2m127-2v2m-126 0v2m125-2v2m-124 0v1m123-1v1m-122 0v1m121-1v1m-120 0v1m119-1v1m-118 0v2m117-2v2m-116 0v1m115-1v1m-114 0v1m113-1v1m-112 0v1m111-1v1m-110 0v1m109-1v1m-108 0v1m107-1v1m-106 0v1m105-1v1m-104 0v1m103-1v1m-102.5 0.5h2m98 0h2m-99.5 0.5v1m97-1v1m-96 0v1m95-1v1m-94 0v1m93-1v1m-92 0v1m89.5-0.5h2m-91 1h2m85 0h2m-2.5 0.5v1m-84.5-0.5h2m0 1h2m78 0h2m-79.5 0.5v1m75.5-0.5h2m-77 1h2m71 0h2m-2.5 0.5v1m-70.5-0.5h2m0 1h2m64 0h2m-66 1h2m59 0h3m-62 1h3m53 0h3m-56 1h2m49 0h2m-51 1h3m43 0h3m-46 1h4m36 0h3m-39 1h3m29 0h4m-33 1h29"/>
<path stroke="#f0e442" d="m852 553.5h4m-16 1h12m4 0h11m-31 1h4m27 0h4m-39 1h4m35 0h4m-46 1h3m43 0h3m-51 1h2m49 0h2m-55 1h2m53 0h3m-61 1h3m58 0h2m-65 1h2m63 0h2m-67.5 0.5v1m67.5-0.5h2m-72 1h2m70 0h2m-76 1h2m74 0h2m-80 1h2m78 0h2m-82.5 0.5v1m83-1v1m-85.5 0.5h2m84 0h2m-88.5 0.5v1m89-1v1m-91.5 0.5h2m90 0h2m-94.5 0.5v1m95-1v1m-96 0v1m97-1v1m-98 0v1m99-1v1m-100 0v1m101-1v1m-102 0v1m103-1v1m-104 0v1m105-1v1m-106 0v1m107-1v1m-108 0v1m109-1v1m-110 0v1m111-1v1m-112 0v1m113-1v1m-114 0v1m115-1v1m-116 0v1m117-1v1m-118 0v1m119-1v1m-120 0v2m121-2v2m-122 0v1m123-1v1m-124 0v2m125-2v2m-126 0v1m127-1v1m-128 0v2m129-2v2m-130 0v1m131-1v1m-132 0v2m133-2v2m-134 0v2m135-2v2m-136 0v2m137-2v2m-138 0v3m139-3v3m-140 0v2m141-2v2m-142 0v2m143-2v2m-144 0v3m145-3v3m-146 0v4m147-4v4m-148 0v4m149-4v4m-150 0v27m151-27v12m1 0v3m-1 0v12m-150 0v4m149-4v4m-148 0v4m147-4v4m-146 0v3m145-3v3m-144 0v2m143-2v2m-142 0v3m141-3v3m-140 0v2m139-2v2m-138 0v2m137-2v2m-136 0v2m135-2v2m-134 0v2m133-2v2m-132 0v1m131-1v2m-130-1v2m129-1v2m-128-1v2m127-1v1m-126 0v2m125-2v2m-124 0v1m123-1v1m-122 0v2m121-2v2m-120 0v1m119-1v1m-118 0v1m117-1v1m-116 0v1m115-1v1m-114 0v1m113-1v1m-112 0v1m111-1v1m-110 0v1m109-1v1m-108 0v1m107-1v1m-106 0v1m105-1v1m-104 0v1m103-1v1m-102 0v1m101-1v1m-100 0v1m99-1v1m-98 0v1m97-1v1m-96 0v1m95-1v1m-94.5 0.5h2m90 0h2m-91.5 0.5v1m89-1v1m-88.5 0.5h2m84 0h2m-85.5 0.5v1m83-1v1m-82.5 0.5h2m78 0h2m-80 1h2m74 0h2m-76 1h2m70 0h2m-71.5 0.5v1m67.5-0.5h2m-69 1h2m63 0h2m-65 1h3m58 0h2m-60 1h2m53 0h3m-56 1h2m49 0h2m-51 1h3m43 0h3m-46 1h4m35 0h4m-39 1h4m27 0h4m-31 1h27"/>
<path stroke="#e69f00" d="m191 212.5h4m-16 1h12m4 0h11m-31 1h4m27 0h4m-39 1h4m35 0h4m-46 1h3m43 0h3m-51 1h2m49 0h2m-55 1h2m53 0h3m-61 1h3m58 0h2m-65 1h2m63 0h2m-67.5 0.5v1m67.5-0.5h2m-72 1h2m70 0h2m-76 1h2m74 0h2m-80 1h2m78 0h2m-82.5 0.5v1m83-1v1m-85.5 0.5h2m84 0h2m-88.5 0.5v1m89-1v1m-91.5 0.5h2m90 0h2m-94.5 0.5v1m95-1v1m-96 0v1m97-1v1m-98 0v1m99-1v1m-100 0v1m101-1v1m-102 0v1m103-1v1m-104 0v1m105-1v1m-106 0v1m107-1v1m-108 0v1m109-1v1m-110 0v1m111-1v1m-112 0v1m113-1v1m-114 0v1m115-1v1m-116 0v1m117-1v1m-118 0v1m119-1v1m-120 0v2m121-2v2m-122 0v1m123-1v1m-124 0v2m125-2v2m-126 0v1m127-1v1m-128 0v2m129-2v2m-130 0v1m131-1v1m-132 0v2m133-2v2m-134 0v2m135-2v2m-136 0v2m137-2v2m-138 0v3m139-3v3m-140 0v2m141-2v2m-142 0v2m143-2v2m-144 0v3m145-3v3m-146 0v4m147-4v4m-148 0v4m149-4v4m1 0v12m1 0v3m-1 0v12m-150 0v4m149-4v4m-148 0v4m147-4v4m-146 0v3m145-3v3m-144 0v2m143-2v2m-142 0v3m141-3v3m-140 0v2m139-2v2m-138 0v2m137-2v2m-136 0v2m135-2v2m-134 0v2m133-2v2m-132 0v1m131-1v1m-130 0v2m129-2v2m-128 0v2m127-2v2m-126 0v2m125-2v2m-124 0v1m123-1v1m-122 0v2m121-2v2m-120 0v1m119-1v1m-118 0v1m117-1v1m-116 0v1m115-1v1m-114 0v1m113-1v1m-112 0v1m111-1v1m-110 0v1m109-1v1m-108 0v1m107-1v1m-106 0v1m105-1v1m-104 0v1m103-1v1m-102 0v1m101-1v1m-100 0v1m99-1v1m-98 0v1m97-1v1m-96 0v1m95-1v1m-94.5 0.5h2m90 0h2m-91.5 0.5v1m89-1v1m-88.5 0.5h2m84 0h2m-85.5 0.5v1m83-1v1m-82.5 0.5h2m78 0h2m-79.5 0.5v1m75.5-0.5h2m-77 1h2m71 0h2m-73 1h2m67 0h2m-69 1h2m63 0h2m-65 1h3m58 0h2m-60 1h2m53 0h3m-56 1h2m49 0h2m-51 1h3m43 0h3m-46 1h4m35 0h4m-39 1h4m27 0h4m-31 1h27"/>
<path stroke="#56b4e9" d="m190 557.5h4m-16 1h12m4 0h11m-31 1h4m27 0h4m-39 1h4m35 0h4m-46 1h3m43 0h4m-53 1h3m50 0h2m-57 1h2m55 0h2m-61 1h2m59 0h2m-65 1h2m63 0h2m-67.5 0.5v1m67.5-0.5h2m-72 1h2m70 0h2m-74.5 0.5v1m75-1v1m-77.5 0.5h2m76 0h2m0.5 0.5v1m-82.5-0.5h2m-4 1h2m83 0h2m-87.5 0.5v1m87.5-0.5h2m-92 1h2m90 0h2m-94.5 0.5v1m95-1v1m-96 0v1m97-1v1m-98 0v1m99-1v1m-100 0v1m101-1v1m-103.5 0.5h2m102 0h2m-106.5 0.5v1m107-1v1m-108 0v2m109-2v2m-110 0v1m111-1v1m-112 0v1m113-1v1m-114 0v1m115-1v1m-116 0v1m117-1v1m-118 0v2m119-2v2m-120 0v1m121-1v1m-122 0v2m123-2v2m-124 0v2m125-2v2m-126 0v2m127-2v2m-128 0v1m129-1v1m-130 0v2m131-2v2m-132 0v1m133-1v1m-134 0v2m135-2v2m-136 0v2m137-2v2m-138 0v2m139-2v2m-140 0v3m141-3v3m-142 0v3m143-3v3m-144 0v4m145-4v4m-146 0v4m147-4v4m1 0v12m1 0v3m-1 0v12m-148 0v4m147-4v4m-146 0v4m145-4v4m-144 0v4m143-4v4m-142 0v2m141-2v2m-140 0v2m139-2v2m-138 0v2m137-2v2m-136 0v2m135-2v2m-134 0v2m133-2v2m-132 0v2m131-2v2m-130 0v1m129-1v1m-128 0v2m127-2v2m-126 0v1m125-1v1m-124 0v2m123-2v2m-122 0v2m121-2v2m-120 0v2m119-2v2m-118 0v1m117-1v1m-116 0v1m115-1v1m-114 0v1m113-1v1m-112 0v1m111-1v1m-110 0v2m109-2v2m-108 0v1m107-1v1m-106.5 0.5h2m102 0h2m-103.5 0.5v1m101-1v1m-100 0v1m99-1v1m-98 0v1m97-1v1m-96 0v1m95-1v1m-94.5 0.5h2m90 0h2m-91.5 0.5v1m87.5-0.5h2m-89 1h2m83 0h2m-2.5 0.5v1m-82.5-0.5h2m0 1h2m76 0h2m-77.5 0.5v1m75-1v1m-74.5 0.5h2m70 0h2m-71.5 0.5v1m67.5-0.5h2m-69 1h2m63 0h2m-65 1h2m59 0h2m-61 1h2m55 0h2m-57 1h3m50 0h2m-52 1h3m43 0h4m-47 1h4m35 0h4m-39 1h4m27 0h4m-31 1h27"/>
<path stroke="#009e73" d="m189 364.5h4m-16 1h12m4 0h11m-31 1h4m27 0h4m-38 1h3m35 0h4m-46 1h4m42 0h3m-52 1h3m49 0h3m-57 1h2m55 0h2m-59.5 0.5v1m59.5-0.5h2m-64 1h2m62 0h2m-68 1h2m66 0h2m-73 1h3m70 0h3m-78 1h2m76 0h2m-80.5 0.5v1m81-1v1m-82 0v1m83-1v1m-84 0v1m85-1v1m-86 0v1m87-1v1m-89.5 0.5h2m88 0h2m-92.5 0.5v1m93-1v1m-94 0v1m95-1v1m-96 0v1m97-1v1m-98 0v1m99-1v1m-101.5 0.5h2m100 0h2m-104.5 0.5v1m105-1v1m-106 0v2m107-2v2m-108 0v1m109-1v1m-110 0v1m111-1v1m-112 0v1m113-1v1m-114 0v1m115-1v1m-116 0v2m117-2v2m-118 0v1m119-1v1m-120 0v1m121-1v1m-122 0v1m123-1v1m-124 0v1m125-1v1m-126 0v2m127-2v2m-128 0v2m129-2v2m-130 0v3m131-3v3m-132 0v2m133-2v2m-134 0v1m135-1v1m-136 0v2m137-2v2m-138 0v3m139-3v3m-140 0v4m141-4v4m-142 0v3m143-3v3m-144 0v4m145-4v4m1 0v12m1 0v3m-1 0v12m-146 0v4m145-4v4m-144 0v4m143-4v4m-142 0v3m141-3v3m-140 0v3m139-3v3m-138 0v2m137-2v2m-136 0v2m135-2v2m-134 0v2m133-2v2m-132 0v2m131-2v2m-130 0v2m129-2v3m-128-1v2m127-1v2m-126-1v2m125-1v1m-124 0v1m123-1v1m-122 0v1m121-1v1m-120 0v1m119-1v1m-118 0v2m117-2v2m-116 0v1m115-1v1m-114 0v1m113-1v1m-112 0v1m111-1v1m-110 0v1m109-1v1m-108 0v2m107-2v2m-106 0v1m105-1v1m-104.5 0.5h2m100 0h2m-101.5 0.5v1m99-1v1m-98 0v1m97-1v1m-96 0v1m95-1v1m-94 0v1m93-1v1m-92.5 0.5h2m88 0h2m-89.5 0.5v1m87-1v1m-86 0v1m85-1v1m-84 0v1m83-1v1m-82 0v1m81-1v1m-80.5 0.5h2m76 0h2m-78 1h2m71 0h3m-74 1h3m66 0h2m-68 1h2m62 0h2m-63.5 0.5v1m59.5-0.5h2m-61 1h2m55 0h2m-57 1h3m49 0h3m-52 1h4m42 0h3m-45 1h3m35 0h4m-39 1h4m27 0h4m-31 1h27"/>
<path stroke="#9400d3" d="m856 405.5h4m-16 1h12m4 0h11m-31 1h4m27 0h4m-38 1h3m35 0h4m-46 1h4m42 0h3m-52 1h3m49 0h3m-57 1h2m55 0h2m-59.5 0.5v1m59.5-0.5h2m-64 1h2m62 0h2m-68 1h2m66 0h2m-73 1h3m70 0h3m-78 1h2m76 0h2m-80.5 0.5v1m81-1v1m-82 0v1m83-1v1m-84 0v1m85-1v1m-86 0v1m87-1v1m-89.5 0.5h2m88 0h2m-92.5 0.5v1m93-1v1m-94 0v1m95-1v1m-96 0v1m97-1v1m-98 0v1m99-1v1m-101.5 0.5h2m100 0h2m-104.5 0.5v1m105-1v1m-106 0v2m107-2v2m-108 0v1m109-1v1m-110 0v1m111-1v1m-112 0v1m113-1v1m-114 0v1m115-1v1m-116 0v2m117-2v2m-118 0v1m119-1v1m-120 0v1m121-1v1m-122 0v1m123-1v1m-124 0v1m125-1v1m-126 0v2m127-2v2m-128 0v2m129-2v2m-130 0v3m131-3v3m-132 0v2m133-2v2m-134 0v1m135-1v1m-136 0v2m137-2v2m-138 0v3m139-3v3m-140 0v4m141-4v4m-142 0v3m143-3v3m-144 0v4m145-4v4m-146 0v27m1 0v4m145-4v4m-144 0v4m143-4v4m-142 0v3m141-3v3m-140 0v3m139-3v3m-138 0v2m137-2v2m-136 0v2m135-2v2m-134 0v2m133-2v2m-132 0v2m131-2v2m-130 0v2m129-2v3m-128-1v2m127-1v2m-126-1v2m125-1v1m-124 0v1m123-1v1m-122 0v1m121-1v1m-120 0v1m119-1v1m-118 0v2m117-2v2m-116 0v1m115-1v1m-114 0v1m113-1v1m-112 0v1m111-1v1m-110 0v1m109-1v1m-108 0v2m107-2v2m-106 0v1m105-1v1m-104.5 0.5h2m100 0h2m-101.5 0.5v1m99-1v1m-98 0v1m97-1v1m-96 0v1m95-1v1m-94 0v1m93-1v1m-92.5 0.5h2m88 0h2m-89.5 0.5v1m87-1v1m-86 0v1m85-1v1m-84 0v1m83-1v1m-82 0v1m81-1v1m-80.5 0.5h2m76 0h2m-78 1h3m70 0h3m-73 1h2m66 0h2m-68 1h2m62 0h2m-63.5 0.5v1m59.5-0.5h2m-61 1h2m55 0h2m-57 1h3m49 0h3m-52 1h4m42 0h3m-45 1h3m35 0h4m-39 1h4m27 0h4m-31 1h27"/>
<path stroke="#e51e10" d="m858 261.5h4m-15 1h11m4 0h11m-30 1h4m26 0h3m-37 1h4m33 0h4m-44 1h3m41 0h4m-51 1h3m48 0h2m-55 1h2m53 0h2m-59 1h2m57 0h3m-64 1h2m62 0h2m-68 1h2m66 0h2m-72 1h2m70 0h2m-76 1h2m74 0h2m-78.5 0.5v1m79-1v1m-81.5 0.5h2m80 0h2m-84.5 0.5v1m85-1v1m-86 0v1m87-1v1m-88 0v1m89-1v1m-90 0v1m91-1v1m-93.5 0.5h2m92 0h2m-96.5 0.5v1m97-1v1m-98 0v2m99-2v2m-100 0v1m101-1v1m-103.5 0.5h2m102 0h2m-106.5 0.5v1m107-1v1m-108 0v2m109-2v2m-110 0v1m111-1v1m-112 0v1m113-1v1m-114 0v1m115-1v1m-116 0v1m117-1v1m-118 0v2m119-2v2m-120 0v1m121-1v1m-122 0v2m123-2v2m-124 0v1m125-1v1m-126 0v2m127-2v2m-128 0v3m129-3v3m-130 0v2m131-2v2m-132 0v2m133-2v2m-134 0v3m135-3v3m-136 0v3m137-3v3m-138 0v4m139-4v4m-140 0v4m141-4v4m-142 0v26m1 0v3m141-3v3m-140 0v4m139-4v4m-138 0v4m137-4v4m-136 0v2m135-2v2m-134 0v2m133-2v2m-132 0v3m131-3v3m-130 0v2m129-2v2m-128 0v2m127-2v2m-126 0v1m125-1v1m-124 0v2m123-2v2m-122 0v2m121-2v2m-120 0v2m119-2v2m-118 0v1m117-1v1m-116 0v1m115-1v1m-114 0v1m113-1v1m-112 0v1m111-1v1m-110 0v2m109-2v2m-108 0v1m107-1v1m-106.5 0.5h2m102 0h2m-103.5 0.5v1m101-1v1m-100 0v2m99-2v2m-98 0v1m97-1v1m-96.5 0.5h2m92 0h2m-93.5 0.5v1m91-1v1m-90 0v1m89-1v1m-88 0v1m87-1v1m-86 0v1m85-1v1m-84.5 0.5h2m80 0h2m-81.5 0.5v1m79-1v1m-78.5 0.5h2m74 0h2m-76 1h2m70 0h2m-72 1h2m66 0h2m-68 1h2m62 0h2m-64 1h2m57 0h3m-60 1h2m53 0h2m-55 1h3m48 0h2m-50 1h3m41 0h4m-45 1h4m33 0h4m-37 1h4m26 0h3m-29 1h26"/>
<path stroke="#000000" d="m345 721.5h4m-15 1h11m4 0h11m-30 1h4m26 0h3m-37 1h4m33 0h4m-44 1h3m41 0h4m-51 1h3m48 0h2m-55 1h2m53 0h2m-59 1h2m57 0h3m-64 1h2m62 0h2m-68 1h2m66 0h2m-72 1h2m70 0h2m-76 1h2m74 0h2m-78.5 0.5v1m79-1v1m-81.5 0.5h2m80 0h2m-84.5 0.5v1m85-1v1m-86 0v1m87-1v1m-88 0v1m89-1v1m-90 0v1m91-1v1m-93.5 0.5h2m92 0h2m-96.5 0.5v1m97-1v1m-98 0v2m99-2v2m-100 0v1m101-1v1m-103.5 0.5h2m102 0h2m-106.5 0.5v1m107-1v1m-108 0v2m109-2v2m-110 0v1m111-1v1m-112 0v1m113-1v1m-114 0v1m115-1v1m-116 0v1m117-1v1m-118 0v2m119-2v2m-120 0v1m121-1v1m-122 0v2m123-2v2m-124 0v1m125-1v1m-126 0v2m127-2v2m-128 0v3m129-3v3m-130 0v2m131-2v2m-132 0v2m133-2v2m-134 0v3m135-3v3m-136 0v3m137-3v3m-138 0v4m139-4v4m-140 0v4m141-4v4m-142 0v26m143-26v11m1 0v4m-1 0v11m-142 0v3m141-3v3m-140 0v4m139-4v4m-138 0v4m137-4v4m-136 0v2m135-2v2m-134 0v2m133-2v2m-132 0v3m131-3v3m-130 0v2m129-2v2m-128 0v2m127-2v2m-126 0v1m125-1v2m-124-1v2m123-1v2m-122-1v2m121-1v1m-120 0v2m119-2v2m-118 0v1m117-1v1m-116 0v1m115-1v1m-114 0v1m113-1v1m-112 0v1m111-1v1m-110 0v2m109-2v2m-108 0v1m107-1v1m-106.5 0.5h2m102 0h2m-103.5 0.5v1m101-1v1m-100 0v2m99-2v2m-98 0v1m97-1v1m-96.5 0.5h2m92 0h2m-93.5 0.5v1m91-1v1m-90 0v1m89-1v1m-88 0v1m87-1v1m-86 0v1m85-1v1m-84.5 0.5h2m80 0h2m-81.5 0.5v1m79-1v1m-78.5 0.5h2m74 0h2m-76 1h2m70 0h2m-72 1h2m66 0h2m-68 1h2m62 0h2m-64 1h2m57 0h3m-60 1h2m53 0h2m-55 1h3m48 0h2m-50 1h3m41 0h4m-45 1h4m33 0h4m-37 1h4m26 0h3"/>
<path stroke="#0072b2" d="m488 724.5h4m-15 1h11m4 0h10m-29 1h4m25 0h4m-36 1h3m33 0h4m-44 1h4m40 0h3m-49 1h2m47 0h3m-54 1h2m52 0h2m-58 1h2m56 0h2m-62 1h2m60 0h2m-66 1h2m64 0h2m-70 1h2m68 0h2m-74 1h2m72 0h2m-76.5 0.5v1m77-1v1m-79.5 0.5h2m78 0h2m-82.5 0.5v1m83-1v1m-85.5 0.5h2m84 0h2m-88.5 0.5v1m89-1v1m-90 0v1m91-1v1m-92 0v1m93-1v1m-94 0v1m95-1v1m-96 0v1m97-1v1m-98 0v1m99-1v1m-100 0v1m101-1v1m-102 0v1m103-1v1m-104 0v1m105-1v1m-106 0v1m107-1v1m-108 0v1m109-1v1m-110 0v2m111-2v2m-112 0v1m113-1v1m-114 0v2m115-2v2m-116 0v1m117-1v1m-118 0v2m119-2v2m-120 0v1m121-1v1m-122 0v2m123-2v2m-124 0v3m125-3v3m-126 0v2m127-2v2m-128 0v2m129-2v2m-130 0v2m131-2v2m-132 0v4m133-4v4m-134 0v3m135-3v3m-136 0v4m137-4v4m-138 0v25m139-25v11m1 0v4m-1 0v10m-138 0v4m137-4v4m-136 0v4m135-4v4m-134 0v3m133-3v3m-132 0v3m131-3v3m-130 0v2m129-2v2m-128 0v2m127-2v2m-126 0v2m125-2v2m-124 0v2m123-2v2m-122 0v1m121-1v2m-120-1v2m119-1v2m-118-1v2m117-1v1m-116 0v2m115-2v2m-114 0v1m113-1v1m-112 0v2m111-2v2m-110 0v1m109-1v1m-108 0v1m107-1v1m-106 0v1m105-1v1m-104 0v1m103-1v1m-102 0v1m101-1v1m-100 0v1m99-1v1m-98 0v1m97-1v1m-96 0v1m95-1v1m-94 0v1m93-1v1m-92 0v1m91-1v1m-90 0v1m89-1v1m-88.5 0.5h2m84 0h2m-85.5 0.5v1m83-1v1m-82.5 0.5h2m78 0h2m-79.5 0.5v1m77-1v1m-76.5 0.5h2m72 0h2m-74 1h2m68 0h2m-70 1h2m64 0h2m-66 1h2m60 0h2m-62 1h2m56 0h2m-58 1h2m52 0h2m-54 1h2m47 0h3m-50 1h4m40 0h3m-43 1h3m33 0h4m-37 1h4m25 0h4m-29 1h25"/>
<path stroke="#f0e442" d="m700 725.5h4m-15 1h11m4 0h10m-29 1h4m25 0h4m-36 1h3m33 0h4m-44 1h4m40 0h3m-49 1h2m47 0h3m-54 1h2m52 0h2m-58 1h2m56 0h2m-62 1h2m60 0h2m-66 1h2m64 0h2m-70 1h2m68 0h2m-74 1h2m72 0h2m-76.5 0.5v1m77-1v1m-79.5 0.5h2m78 0h2m-82.5 0.5v1m83-1v1m-85.5 0.5h2m84 0h2m-88.5 0.5v1m89-1v1m-90 0v1m91-1v1m-92 0v1m93-1v1m-94 0v1m95-1v1m-96 0v1m97-1v1m-98 0v1m99-1v1m-100 0v1m101-1v1m-102 0v1m103-1v1m-104 0v1m105-1v1m-106 0v1m107-1v1m-108 0v1m109-1v1m-110 0v2m111-2v2m-112 0v1m113-1v1m-114 0v2m115-2v2m-116 0v1m117-1v1m-118 0v2m119-2v2m-120 0v1m121-1v1m-122 0v2m123-2v2m-124 0v3m125-3v3m-126 0v2m127-2v2m-128 0v2m129-2v2m-130 0v2m131-2v2m-132 0v4m133-4v4m-134 0v3m135-3v3m-136 0v4m137-4v4m-138 0v25m139-25v11m1 0v4m-1 0v10m-138 0v4m137-4v4m-136 0v4m135-4v4m-134 0v3m133-3v3m-132 0v3m131-3v3m-130 0v2m129-2v2m-128 0v2m127-2v2m-126 0v2m125-2v2m-124 0v2m123-2v2m-122 0v1m121-1v2m-120-1v2m119-1v2m-118-1v2m117-1v1m-116 0v2m115-2v2m-114 0v1m113-1v1m-112 0v2m111-2v2m-110 0v1m109-1v1m-108 0v1m107-1v1m-106 0v1m105-1v1m-104 0v1m103-1v1m-102 0v1m101-1v1m-100 0v1m99-1v1m-98 0v1m97-1v1m-96 0v1m95-1v1m-94 0v1m93-1v1m-92 0v1m91-1v1m-90 0v1m89-1v1m-88.5 0.5h2m84 0h2m-85.5 0.5v1m83-1v1m-82.5 0.5h2m78 0h2m-79.5 0.5v1m77-1v1m-76.5 0.5h2m72 0h2m-74 1h2m68 0h2m-70 1h2m64 0h2m-66 1h2m60 0h2m-62 1h2m56 0h2m-58 1h2m52 0h2m-54 1h2m47 0h3m-50 1h4m40 0h3m-43 1h3m33 0h4m-37 1h4m25 0h4"/>
<path stroke="#f0e442" d="m742 340.5h4m-14 1h10m4 0h10m-27 1h3m24 0h3m-33 1h3m30 0h3m-39 1h3m36 0h3m-46 1h4m42 0h3m-52 1h3m49 0h4m-58 1h2m56 0h2m-60.5 0.5v1m60.5-0.5h2m-63.5 0.5v1m64-1v1m1 0v1m-67.5-0.5h2m-2.5 0.5v1m69-1v1m-71.5 0.5h2m70 0h2m-74.5 0.5v1m75-1v1m-77.5 0.5h2m76 0h2m-80.5 0.5v1m81-1v1m-82 0v1m83-1v1m-84 0v1m85-1v1m-87.5 0.5h2m86 0h2m-90.5 0.5v1m91-1v1m-92 0v2m93-2v2m-94 0v1m95-1v1m-96 0v1m97-1v1m-98 0v1m99-1v1m-100 0v2m101-2v2m-102 0v1m103-1v1m-104 0v2m105-2v2m-106 0v1m107-1v1m-108 0v1m109-1v1m-110 0v1m111-1v1m-112 0v2m113-2v2m-114 0v2m115-2v2m-116 0v3m117-3v3m-118 0v4m119-4v4m-120 0v3m121-3v3m-122 0v3m123-3v3m-124 0v3m125-3v3m-126 0v24m127-24v10m1 0v3m-1 0v11m-126 0v3m125-3v3m-124 0v3m123-3v3m-122 0v3m121-3v3m-120 0v3m119-3v3m-118 0v4m117-4v4m-116 0v2m115-2v2m-114 0v1m113-1v1m-112 0v1m111-1v1m-110 0v2m109-2v2m-108 0v1m107-1v1m-106 0v2m105-2v2m-104 0v1m103-1v1m-102 0v2m101-2v2m-100 0v1m99-1v1m-98 0v1m97-1v1m-96 0v1m95-1v1m-94 0v2m93-2v2m-92 0v1m91-1v1m-90.5 0.5h2m86 0h2m-87.5 0.5v1m85-1v1m-84 0v1m83-1v1m-82 0v1m81-1v1m-80.5 0.5h2m76 0h2m-77.5 0.5v1m75-1v1m-74.5 0.5h2m70 0h2m-71.5 0.5v1m69-1v1m-1 0v1m-67.5-0.5h2m0.5 0.5v1m64-1v1m-63 0v1m60.5-0.5h2m-62 1h2m56 0h2m-58 1h3m49 0h4m-53 1h4m42 0h3m-45 1h3m36 0h3m-39 1h3m30 0h3m-33 1h3m24 0h3m-27 1h24"/>
<path stroke="#e69f00" d="m767 187.5h2m-11 1h9m2 0h9m-26 1h6m20 0h6m-35 1h3m32 0h3m-41 1h3m38 0h2m-43.5 0.5v1m43.5-0.5h2m-48 1h2m46 0h2m-52 1h2m50 0h2m-54.5 0.5v1m54.5-0.5h2m0.5 0.5v1m-59.5-0.5h2m58.5 0.5v1m-62.5-0.5h2m-2.5 0.5v1m63.5-0.5h2m-68 1h2m66 0h2m-70.5 0.5v1m71-1v1m-72 0v1m73-1v1m-74 0v1m75-1v1m-76 0v1m77-1v1m-78 0v1m79-1v1m-80 0v1m81-1v1m-82 0v1m83-1v1m-84 0v1m85-1v1m-86 0v1m87-1v1m-88 0v2m89-2v2m-90 0v1m91-1v1m-92 0v2m93-2v2m-94 0v1m95-1v1m-96 0v2m97-2v2m-98 0v2m99-2v2m-100 0v2m101-2v2m-102 0v1m103-1v1m-104 0v3m105-3v3m-106 0v3m107-3v3m-108 0v6m109-6v6m-110 0v20m111-20v8m1 0v3m-1 0v9m-110 0v6m109-6v6m-108 0v3m107-3v3m-106 0v2m105-2v2m-104 0v2m103-2v2m-102 0v2m101-2v2m-100 0v1m99-1v1m-98 0v2m97-2v2m-96 0v2m95-2v2m-94 0v1m93-1v1m-92 0v2m91-2v2m-90 0v2m89-2v2m-88 0v1m87-1v1m-86 0v1m85-1v1m-84 0v1m83-1v1m-82 0v1m81-1v1m-80 0v1m79-1v1m-78 0v1m77-1v1m-76 0v1m75-1v1m-74 0v1m73-1v1m-72 0v1m71-1v1m-70.5 0.5h2m66 0h2m-67.5 0.5v1m63.5-0.5h2m-2.5 0.5v1m-62.5-0.5h2m59.5 0.5v1m-59.5-0.5h2m0.5 0.5v1m54.5-0.5h2m-56 1h2m50 0h2m-52 1h2m46 0h2m-47.5 0.5v1m43.5-0.5h2m-45 1h3m38 0h2m-40 1h3m32 0h3m-35 1h6m20 0h6m-26 1h20"/>
<path stroke="#009e73" d="m507 264.5h2m-11 1h9m2 0h9m-25 1h5m20 0h5m-33 1h3m30 0h3m-39 1h3m36 0h2m-43 1h2m41 0h3m-48 1h2m46 0h2m-50.5 0.5v1m50.5-0.5h2m0.5 0.5v1m-55.5-0.5h2m-4 1h2m56 0h2m-60.5 0.5v1m61-1v1m-62 0v1m63-1v1m-64 0v1m65-1v1m-67.5 0.5h2m66 0h2m-72 1h2m70 0h2m-74.5 0.5v1m75-1v1m-76 0v1m77-1v1m-78 0v1m79-1v1m-80 0v2m81-2v2m-82 0v2m83-2v2m-84 0v1m85-1v1m-86 0v1m87-1v1m-88 0v1m89-1v1m-90 0v1m91-1v1m-92 0v2m93-2v2m-94 0v2m95-2v2m-96 0v2m97-2v2m-98 0v2m99-2v2m-100 0v3m101-3v3m-102 0v3m103-3v3m-104 0v5m105-5v5m-106 0v20m107-20v8m1 0v3m-1 0v9m-106 0v5m105-5v5m-104 0v3m103-3v3m-102 0v2m101-2v2m-100 0v3m99-3v3m-98 0v2m97-2v2m-96 0v1m95-1v1m-94 0v2m93-2v2m-92 0v2m91-2v2m-90 0v1m89-1v1m-88 0v1m87-1v1m-86 0v1m85-1v1m-84 0v2m83-2v2m-82 0v2m81-2v2m-80 0v1m79-1v1m-78 0v1m77-1v1m-76 0v1m75-1v1m-74.5 0.5h2m70 0h2m-72 1h2m66 0h2m-67.5 0.5v1m65-1v1m-64 0v1m63-1v1m-62 0v1m61-1v1m-60.5 0.5h2m56 0h2m-2.5 0.5v1m-55.5-0.5h2m0.5 0.5v1m50.5-0.5h2m-52 1h2m46 0h2m-48 1h2m41 0h3m-44 1h3m36 0h2m-38 1h3m30 0h3m-33 1h5m20 0h5m-25 1h20"/>
<path stroke="#e69f00" d="m310 542.5h2m-10 1h8m2 0h8m-23 1h5m18 0h5m-31 1h3m28 0h2m-35 1h2m33 0h3m-41 1h3m38 0h2m-45 1h2m43 0h3m-48.5 0.5v1m48.5-0.5h2m0.5 0.5v1m-53.5-0.5h2m52.5 0.5v1m-56.5-0.5h2m-2.5 0.5v1m57.5-0.5h2m-60.5 0.5v1m61-1v1m1 0v1m-64.5-0.5h2m-2.5 0.5v1m65.5-0.5h2m-68.5 0.5v1m69-1v1m-70 0v1m71-1v1m-72 0v1m73-1v1m-74 0v1m75-1v1m-76 0v2m77-2v2m-78 0v1m79-1v1m-80 0v1m81-1v1m-82 0v2m83-2v2m-84 0v1m85-1v1m-86 0v2m87-2v2m-88 0v2m89-2v2m-90 0v3m91-3v3m-92 0v2m93-2v2m-94 0v3m95-3v3m-96 0v5m97-5v5m-98 0v18m99-18v7m1 0v3m-1 0v8m-98 0v5m97-5v5m-96 0v2m95-2v2m-94 0v3m93-3v3m-92 0v2m91-2v2m-90 0v2m89-2v2m-88 0v2m87-2v2m-86 0v2m85-2v2m-84 0v1m83-1v1m-82 0v2m81-2v2m-80 0v1m79-1v1m-78 0v1m77-1v1m-76 0v2m75-2v2m-74 0v1m73-1v1m-72 0v1m71-1v1m-70 0v1m69-1v1m-68 0v1m65.5-0.5h2m-2.5 0.5v1m-64.5-0.5h2m0.5 0.5v1m61-1v1m-60 0v1m57.5-0.5h2m-2.5 0.5v1m-56.5-0.5h2m53.5 0.5v1m-53.5-0.5h2m0.5 0.5v1m48.5-0.5h2m-50 1h2m43 0h3m-46 1h3m38 0h2m-40 1h2m33 0h3m-36 1h3m28 0h2m-30 1h5m18 0h5m-23 1h18"/>
<path stroke="#0072b2" d="m299 640.5h2m-12 1h10m2 0h9m-23 1h2m21 0h2m-30 1h5m25 0h5m-37 1h2m35 0h2m-39.5 0.5v1m39.5-0.5h2m-42.5 0.5v1m43-1v1m1 0v1m-46.5-0.5h2m-4 1h2m47 0h2m-51.5 0.5v1m51.5-0.5h2m-54.5 0.5v1m55-1v1m1 0v1m-58.5-0.5h2m-2.5 0.5v1m59.5-0.5h2m-62.5 0.5v1m63-1v2m-64.5-0.5h2m-2.5 0.5v1m65.5-0.5h2m-68.5 0.5v2m69-2v2m-70 0v1m71-1v1m-72 0v1m73-1v1m-74 0v2m75-2v2m-76 0v2m77-2v2m-78 0v1m79-1v1m-80 0v1m81-1v1m-82 0v2m83-2v2m-84 0v5m85-5v5m-86 0v2m87-2v2m-88 0v21m89-21v9m1 0v3m-1 0v9m-88 0v2m87-2v2m-86 0v5m85-5v5m-84 0v2m83-2v2m-82 0v2m81-2v2m-80 0v1m79-1v1m-78 0v1m77-1v1m-76 0v2m75-2v2m-74 0v2m73-2v2m-72 0v1m71-1v1m-70 0v1m69-1v1m-68 0v2m67-2v1m-1.5 0.5h2m-2.5 0.5v1m-64.5-0.5h2m0.5 0.5v2m61-2v1m-1.5 0.5h2m-2.5 0.5v1m-58.5-0.5h2m0.5 0.5v1m55-1v1m-54 0v1m51.5-0.5h2m-53 1h2m47 0h2m-2.5 0.5v1m-46.5-0.5h2m0.5 0.5v1m43-1v1m-42 0v1m39.5-0.5h2m-41 1h2m35 0h2m-37 1h5m25 0h5m-30 1h2m21 0h2m-23 1h21"/>
<path stroke="#009e73" d="m442 348.5h2m-11 1h9m2 0h8m-21 1h2m19 0h2m-27 1h4m23 0h4m-33 1h2m31 0h2m-37 1h2m35 0h2m-41 1h2m39 0h2m-45 1h2m43 0h2m-47.5 0.5v1m47.5-0.5h2m-50.5 0.5v1m51-1v2m-52.5-0.5h2m-2.5 0.5v1m53.5-0.5h2m-56.5 0.5v1m57-1v2m-58.5-0.5h2m-2.5 0.5v1m59.5-0.5h2m-62.5 0.5v1m63-1v2m-64.5-0.5h2m-2.5 0.5v1m65.5-0.5h2m-68.5 0.5v2m69-2v2m-70 0v2m71-2v2m-72 0v2m73-2v2m-74 0v2m75-2v2m-76 0v4m77-4v4m-78 0v2m79-2v2m-80 0v19m81-19v8m1 0v3m-1 0v8m-80 0v2m79-2v2m-78 0v4m77-4v4m-76 0v2m75-2v2m-74 0v2m73-2v2m-72 0v2m71-2v2m-70 0v2m69-2v2m-68 0v2m67-2v1m-1.5 0.5h2m-2.5 0.5v1m-64.5-0.5h2m0.5 0.5v2m61-2v1m-1.5 0.5h2m-2.5 0.5v1m-58.5-0.5h2m0.5 0.5v2m55-2v1m-1.5 0.5h2m-2.5 0.5v1m-52.5-0.5h2m0.5 0.5v2m49-2v1m-1.5 0.5h2m-49 1h2m43 0h2m-45 1h2m39 0h2m-41 1h2m35 0h2m-37 1h2m31 0h2m-33 1h4m23 0h4m-27 1h2m19 0h2m-21 1h19"/>
<path stroke="#9400d3" d="m762 663.5h2m-11 1h9m2 0h8m-23 1h4m19 0h4m-29 1h2m27 0h2m-33 1h2m31 0h2m-35.5 0.5v1m35.5-0.5h2m-40 1h2m38 0h2m0.5 0.5v1m-44.5-0.5h2m-4 1h2m45 0h2m-49.5 0.5v1m49.5-0.5h2m-52.5 0.5v1m53-1v2m-54.5-0.5h2m-2.5 0.5v1m55.5-0.5h2m-58.5 0.5v1m59-1v2m-60.5-0.5h2m-2.5 0.5v1m61.5-0.5h2m-64.5 0.5v2m65-2v2m-66 0v2m67-2v2m-68 0v1m69-1v1m-70 0v2m71-2v2m-72 0v2m73-2v2m-74 0v2m75-2v2m-76 0v4m77-4v4m-78 0v19m79-19v8m1 0v3m-1 0v8m-78 0v4m77-4v4m-76 0v2m75-2v2m-74 0v2m73-2v2m-72 0v2m71-2v2m-70 0v1m69-1v2m-68-1v2m67-1v1m-66 0v2m65-2v2m-64 0v2m63-2v1m-1.5 0.5h2m-2.5 0.5v1m-60.5-0.5h2m0.5 0.5v2m57-2v1m-1.5 0.5h2m-2.5 0.5v1m-54.5-0.5h2m0.5 0.5v2m51-2v1m-1.5 0.5h2m-51 1h2m45 0h2m-2.5 0.5v1m-44.5-0.5h2m0 1h2m38 0h2m-39.5 0.5v1m35.5-0.5h2m-37 1h2m31 0h2m-33 1h2m27 0h2m-29 1h4m19 0h4m-23 1h19"/>
<path stroke="#e51e10" d="m596 787.5h2m-11 1h9m2 0h8m-22 1h3m19 0h4m0.5 0.5v1m-28.5-0.5h2m-4 1h2m29 0h2m-35 1h2m33 0h2m-39 1h2m37 0h2m-41.5 0.5v1m41.5-0.5h2m0.5 0.5v1m-46.5-0.5h2m-2.5 0.5v1m47.5-0.5h2m-50.5 0.5v1m51-1v1m-52 0v1m53-1v1m-54 0v1m55-1v1m-56 0v1m57-1v1m-58 0v1m59-1v1m-60 0v1m61-1v1m-62 0v2m63-2v2m-64 0v1m65-1v1m-66 0v2m67-2v2m-68 0v2m69-2v2m-70 0v2m71-2v2m-72 0v2m73-2v2m-74 0v3m75-3v3m-76 0v19m77-19v8m1 0v3m-1 0v8m-76 0v4m75-4v4m-74 0v1m73-1v1m-72 0v2m71-2v2m-70 0v2m69-2v2m-68 0v2m67-2v2m-66 0v2m65-2v2m-64 0v1m63-1v1m-62 0v2m61-2v2m-60 0v1m59-1v1m-58 0v1m57-1v1m-56 0v1m55-1v1m-54 0v1m53-1v1m-52 0v1m51-1v1m-50 0v1m47.5-0.5h2m-2.5 0.5v1m-46.5-0.5h2m0.5 0.5v1m41.5-0.5h2m-43 1h2m37 0h2m-39 1h2m33 0h2m-35 1h2m29 0h2m-2.5 0.5v1m-28.5-0.5h2m0 1h3m19 0h4"/>
<path stroke="#0072b2" d="m276 326.5h2m-11 1h9m2 0h8m-22 1h3m19 0h4m0.5 0.5v1m-28.5-0.5h2m-4 1h2m29 0h2m-35 1h2m33 0h2m-39 1h2m37 0h2m-41.5 0.5v1m41.5-0.5h2m0.5 0.5v1m-46.5-0.5h2m-2.5 0.5v1m47.5-0.5h2m-50.5 0.5v1m51-1v1m-52 0v1m53-1v1m-54 0v1m55-1v1m-56 0v1m57-1v1m-58 0v1m59-1v1m-60 0v1m61-1v1m-62 0v2m63-2v2m-64 0v1m65-1v1m-66 0v2m67-2v2m-68 0v2m69-2v2m-70 0v2m71-2v2m-72 0v2m73-2v2m-74 0v3m75-3v3m-76 0v19m77-19v8m1 0v3m-1 0v8m-76 0v4m75-4v4m-74 0v1m73-1v1m-72 0v2m71-2v2m-70 0v2m69-2v2m-68 0v2m67-2v2m-66 0v2m65-2v2m-64 0v1m63-1v1m-62 0v2m61-2v2m-60 0v1m59-1v1m-58 0v1m57-1v1m-56 0v1m55-1v1m-54 0v1m53-1v1m-52 0v1m51-1v1m-50 0v1m47.5-0.5h2m-2.5 0.5v1m-46.5-0.5h2m0.5 0.5v1m41.5-0.5h2m-43 1h2m37 0h2m-39 1h2m33 0h2m-35 1h2m29 0h2m-2.5 0.5v1m-28.5-0.5h2m0 1h3m19 0h4m-23 1h19"/>
<path stroke="#f0e442" d="m280 177.5h2m-10 1h8m2 0h7m-21 1h4m17 0h4m-27 1h2m25 0h2m-31 1h2m29 0h2m-33.5 0.5v1m33.5-0.5h2m-38 1h2m36 0h2m0.5 0.5v1m-42.5-0.5h2m-2.5 0.5v1m43.5-0.5h2m0.5 0.5v1m-48.5-0.5h2m-2.5 0.5v1m49.5-0.5h2m-52.5 0.5v1m53-1v2m-54.5-0.5h2m-2.5 0.5v1m55.5-0.5h2m-58.5 0.5v2m59-2v2m-60 0v1m61-1v1m-62 0v2m63-2v2m-64 0v1m65-1v1m-66 0v2m67-2v2m-68 0v2m69-2v2m-70 0v2m71-2v2m-72 0v4m73-4v4m-74 0v17m75-17v8m1 0v1m-1 0v8m-74 0v4m73-4v4m-72 0v2m71-2v2m-70 0v2m69-2v2m-68 0v2m67-2v2m-66 0v1m65-1v1m-64 0v2m63-2v2m-62 0v2m61-2v2m-60 0v1m59-1v1m-58 0v2m57-2v1m-1.5 0.5h2m-2.5 0.5v1m-54.5-0.5h2m0.5 0.5v2m51-2v1m-1.5 0.5h2m-2.5 0.5v1m-48.5-0.5h2m0.5 0.5v1m43.5-0.5h2m-2.5 0.5v1m-42.5-0.5h2m0 1h2m36 0h2m-37.5 0.5v1m33.5-0.5h2m-35 1h2m29 0h2m-31 1h2m25 0h2m-27 1h4m17 0h4m-21 1h17"/>
<path stroke="#009e73" d="m516 373.5h2m-10 1h8m2 0h7m-20 1h3m17 0h3m-25 1h2m23 0h2m-30 1h3m27 0h3m-35 1h2m33 0h2m-37.5 0.5v1m37.5-0.5h2m0.5 0.5v1m-42.5-0.5h2m-2.5 0.5v1m43.5-0.5h2m-46.5 0.5v1m47-1v1m-48 0v1m49-1v2m-50.5-0.5h2m-2.5 0.5v1m51.5-0.5h2m-54.5 0.5v1m55-1v1m-56 0v2m57-2v2m-58 0v1m59-1v1m-60 0v2m61-2v2m-62 0v3m63-3v3m-64 0v2m65-2v2m-66 0v3m67-3v3m-68 0v17m69-17v8m1 0v1m-1 0v8m-68 0v3m67-3v3m-66 0v2m65-2v2m-64 0v3m63-3v3m-62 0v2m61-2v2m-60 0v2m59-2v2m-58 0v1m57-1v1m-56 0v2m55-2v2m-54 0v1m51.5-0.5h2m-2.5 0.5v1m-50.5-0.5h2m0.5 0.5v2m47-2v2m-46 0v1m43.5-0.5h2m-2.5 0.5v1m-42.5-0.5h2m0.5 0.5v1m37.5-0.5h2m-39 1h2m33 0h2m-35 1h3m27 0h3m-30 1h2m23 0h2m-25 1h3m17 0h3m-20 1h17"/>
<path stroke="#9400d3" d="m640 423.5h2m-9 1h7m2 0h7m-20 1h4m16 0h3m-26 1h3m23 0h3m-29.5 0.5v1m29.5-0.5h2m-34 1h2m32 0h2m-36.5 0.5v1m37-1v1m1 0v1m-40.5-0.5h2m-2.5 0.5v1m41.5-0.5h2m0.5 0.5v1m-46.5-0.5h2m-2.5 0.5v1m47.5-0.5h2m-50.5 0.5v2m51-2v2m-52 0v1m53-1v1m-54 0v2m55-2v2m-56 0v1m57-1v1m-58 0v1m59-1v1m-60 0v2m61-2v2m-62 0v3m63-3v3m-64 0v4m65-4v4m-66 0v16m67-16v7m1 0v1m-1 0v8m-66 0v3m65-3v3m-64 0v3m63-3v3m-62 0v2m61-2v2m-60 0v1m59-1v1m-58 0v2m57-2v2m-56 0v1m55-1v1m-54 0v2m53-2v2m-52 0v1m51-1v1m-50 0v2m49-2v1m-1.5 0.5h2m-2.5 0.5v1m-46.5-0.5h2m0.5 0.5v1m41.5-0.5h2m-2.5 0.5v1m-40.5-0.5h2m0.5 0.5v1m37-1v1m-36.5 0.5h2m32 0h2m-33.5 0.5v1m29.5-0.5h2m-31 1h3m23 0h3m-26 1h4m16 0h3m-19 1h16"/>
<path stroke="#0072b2" d="m578 402.5h2m-9 1h7m2 0h6m-18 1h3m15 0h3m-24 1h3m21 0h4m-28.5 0.5v1m29-1v1m-31.5 0.5h2m30 0h2m-34.5 0.5v1m35-1v1m1 0v1m-38.5-0.5h2m-2.5 0.5v1m39.5-0.5h2m-42.5 0.5v1m43-1v1m-44 0v1m45-1v1m-46 0v1m47-1v1m-48 0v1m49-1v1m-50 0v2m51-2v2m-52 0v1m53-1v1m-54 0v1m55-1v1m-56 0v2m57-2v2m-58 0v3m59-3v3m-60 0v3m61-3v3m-62 0v15m63-15v7m1 0v1m-1 0v7m-62 0v3m61-3v3m-60 0v4m59-4v4m-58 0v1m57-1v1m-56 0v1m55-1v1m-54 0v2m53-2v2m-52 0v1m51-1v1m-50 0v2m49-2v2m-48 0v1m47-1v1m-46 0v1m45-1v1m-44 0v1m43-1v1m-42 0v1m39.5-0.5h2m-2.5 0.5v1m-38.5-0.5h2m0.5 0.5v1m35-1v1m-34.5 0.5h2m30 0h2m-31.5 0.5v1m29-1v1m-28.5 0.5h3m21 0h4m-25 1h3m15 0h3m-18 1h15"/>
<path stroke="#e69f00" d="m538 206.5h2m-9 1h7m2 0h6m-18 1h3m15 0h3m-24 1h3m21 0h3m-27.5 0.5v1m27.5-0.5h2m-30.5 0.5v1m31-1v1m-34.5 0.5h3m32 0h3m-38.5 0.5v1m39-1v1m-40 0v1m41-1v1m-42 0v1m43-1v2m-44.5-0.5h2m-2.5 0.5v1m45.5-0.5h2m-48.5 0.5v1m49-1v1m-50 0v3m51-3v3m-52 0v1m53-1v1m-54 0v1m55-1v1m-56 0v3m57-3v3m-58 0v3m59-3v3m-60 0v15m61-15v7m1 0v1m-1 0v7m-60 0v3m59-3v3m-58 0v3m57-3v3m-56 0v2m55-2v2m-54 0v1m53-1v1m-52 0v3m51-3v3m-50 0v1m49-1v1m-48 0v1m45.5-0.5h2m-2.5 0.5v1m-44.5-0.5h2m0.5 0.5v2m41-2v2m-40 0v1m39-1v1m-38.5 0.5h3m32 0h3m-34.5 0.5v1m31-1v1m-30 0v1m27.5-0.5h2m-29 1h3m21 0h3m-24 1h3m15 0h3m-18 1h15"/>
<path stroke="#56b4e9" d="m477 210.5h2m-8 1h6m2 0h6m-19 1h5m14 0h4m-23.5 0.5v1m23.5-0.5h2m-26.5 0.5v1m27-1v1m-30.5 0.5h3m28 0h3m-34.5 0.5v1m35-1v1m1 0v1m-38.5-0.5h2m-2.5 0.5v1m39.5-0.5h2m-42.5 0.5v1m43-1v1m-44 0v1m45-1v1m-46 0v2m47-2v2m-48 0v1m49-1v1m-50 0v2m51-2v2m-52 0v2m53-2v2m-54 0v1m55-1v1m-56 0v5m57-5v5m-58 0v14m59-14v6m1 0v1m-1 0v7m-58 0v4m57-4v4m-56 0v2m55-2v2m-54 0v1m53-1v1m-52 0v3m51-3v3m-50 0v1m49-1v1m-48 0v1m47-1v1m-46 0v2m45-2v2m-44 0v1m43-1v1m-42 0v1m39.5-0.5h2m-2.5 0.5v1m-38.5-0.5h2m0.5 0.5v1m35-1v1m-34.5 0.5h3m28 0h3m-30.5 0.5v1m27-1v1m-26 0v1m23.5-0.5h2m-25 1h5m14 0h4m-18 1h14"/>
<path stroke="#e69f00" d="m900 211.5h2m-8 1h6m2 0h6m-19 1h5m14 0h4m-23.5 0.5v1m23.5-0.5h2m-26.5 0.5v1m27-1v1m-30.5 0.5h3m28 0h3m-34.5 0.5v1m35-1v1m1 0v1m-38.5-0.5h2m-2.5 0.5v1m39.5-0.5h2m-42.5 0.5v1m43-1v1m-44 0v1m45-1v1m-46 0v2m47-2v2m-48 0v1m49-1v1m-50 0v2m51-2v2m-52 0v2m53-2v2m-54 0v1m55-1v1m-56 0v5m57-5v5m-58 0v14m59-14v6m0 1v7m-58 0v4m57-4v4m-56 0v2m55-2v2m-54 0v1m53-1v1m-52 0v3m51-3v3m-50 0v1m49-1v1m-48 0v1m47-1v1m-46 0v2m45-2v2m-44 0v1m43-1v1m-42 0v1m39.5-0.5h2m-2.5 0.5v1m-38.5-0.5h2m0.5 0.5v1m35-1v1m-34.5 0.5h3m28 0h3m-30.5 0.5v1m27-1v1m-26 0v1m23.5-0.5h2m-25 1h5m14 0h4m-18 1h14"/>
<path stroke="#e69f00" d="m439 164.5h2m-8 1h6m2 0h6m-19 1h5m14 0h4m-23.5 0.5v1m23.5-0.5h2m-26.5 0.5v1m27-1v1m-30.5 0.5h3m28 0h3m-34.5 0.5v1m35-1v1m1 0v1m-38.5-0.5h2m-2.5 0.5v1m39.5-0.5h2m-42.5 0.5v1m43-1v1m-44 0v1m45-1v1m-46 0v2m47-2v2m-48 0v1m49-1v1m-50 0v2m51-2v2m-52 0v2m53-2v2m-54 0v1m55-1v1m-56 0v5m57-5v5m-58 0v14m59-14v6m1 0v1m-1 0v7m-58 0v4m57-4v4m-56 0v2m55-2v2m-54 0v1m53-1v1m-52 0v3m51-3v3m-50 0v1m49-1v1m-48 0v1m47-1v1m-46 0v2m45-2v2m-44 0v1m43-1v1m-42 0v1m39.5-0.5h2m-2.5 0.5v1m-38.5-0.5h2m0.5 0.5v1m35-1v1m-34.5 0.5h3m28 0h3m-30.5 0.5v1m27-1v1m-26 0v1m23.5-0.5h2m-25 1h5m14 0h4m-18 1h14"/>
<path stroke="#56b4e9" d="m625 367.5h2m-9 1h7m2 0h7m-19 1h3m16 0h3m0.5 0.5v1m-24.5-0.5h2m-4 1h2m25 0h3m0.5 0.5v1m-32.5-0.5h2m-2.5 0.5v1m33.5-0.5h2m-36.5 0.5v1m37-1v1m-38 0v1m39-1v1m-40 0v1m41-1v1m-42 0v1m43-1v1m-44 0v1m45-1v1m-46 0v1m47-1v1m-48 0v2m49-2v2m-50 0v2m51-2v2m-52 0v2m53-2v2m-54 0v3m55-3v3m-56 0v16m57-16v7m1 0v1m-1 0v8m-56 0v3m55-3v3m-54 0v1m53-1v1m-52 0v3m51-3v3m-50 0v1m49-1v1m-48 0v2m47-2v2m-46 0v1m45-1v1m-44 0v1m43-1v1m-42 0v1m41-1v1m-40 0v1m39-1v1m-38 0v1m37-1v1m-36 0v1m33.5-0.5h2m-2.5 0.5v1m-32.5-0.5h2m0 1h2m25 0h3m-3.5 0.5v1m-24.5-0.5h2m0 1h3m16 0h3m-19 1h16"/>
<path stroke="#56b4e9" d="m571 344.5h2m-9 1h7m2 0h7m-19 1h3m16 0h3m0.5 0.5v1m-24.5-0.5h2m-4 1h2m25 0h3m0.5 0.5v1m-32.5-0.5h2m-2.5 0.5v1m33.5-0.5h2m-36.5 0.5v1m37-1v1m-38 0v1m39-1v1m-40 0v1m41-1v1m-42 0v1m43-1v1m-44 0v1m45-1v1m-46 0v1m47-1v1m-48 0v2m49-2v2m-50 0v2m51-2v2m-52 0v2m53-2v2m-54 0v3m55-3v3m-56 0v16m57-16v7m1 0v1m-1 0v8m-56 0v3m55-3v3m-54 0v1m53-1v1m-52 0v3m51-3v3m-50 0v1m49-1v1m-48 0v2m47-2v2m-46 0v1m45-1v1m-44 0v1m43-1v1m-42 0v1m41-1v1m-40 0v1m39-1v1m-38 0v1m37-1v1m-36 0v1m33.5-0.5h2m-2.5 0.5v1m-32.5-0.5h2m0 1h2m25 0h3m-3.5 0.5v1m-24.5-0.5h2m0 1h3m16 0h3m-19 1h16"/>
<path stroke="#9400d3" d="m712 629.5h2m-9 1h7m2 0h7m-19 1h3m16 0h3m-22.5 0.5v1m23-1v1m-26.5 0.5h3m24 0h3m-30.5 0.5v1m31-1v1m-32 0v1m33-1v1m-34 0v1m35-1v1m-36 0v1m37-1v1m-38 0v1m39-1v1m-40 0v1m41-1v1m-42 0v1m43-1v1m-44 0v1m45-1v1m-46 0v1m47-1v1m-48 0v3m49-3v3m-50 0v1m51-1v1m-52 0v3m53-3v3m-54 0v16m55-16v7m1 0v1m-1 0v8m-54 0v3m53-3v3m-52 0v1m51-1v1m-50 0v2m49-2v2m-48 0v2m47-2v2m-46 0v1m45-1v1m-44 0v1m43-1v1m-42 0v1m41-1v1m-40 0v1m39-1v1m-38 0v1m37-1v1m-36 0v1m35-1v1m-34 0v1m33-1v1m-32 0v1m31-1v1m-30.5 0.5h3m24 0h3m-26.5 0.5v1m23-1v1m-22.5 0.5h3m16 0h3m-19 1h16"/>
<path stroke="#9400d3" d="m408 524.5h2m-9 1h7m2 0h7m-19 1h3m16 0h3m-22.5 0.5v1m23-1v1m-26.5 0.5h3m24 0h3m-30.5 0.5v1m31-1v1m-32 0v1m33-1v1m-34 0v1m35-1v1m-36 0v1m37-1v1m-38 0v1m39-1v1m-40 0v1m41-1v1m-42 0v1m43-1v1m-44 0v1m45-1v1m-46 0v1m47-1v1m-48 0v3m49-3v3m-50 0v1m51-1v1m-52 0v3m53-3v3m-54 0v16m55-16v7m1 0v1m-1 0v8m-54 0v3m53-3v3m-52 0v1m51-1v1m-50 0v2m49-2v2m-48 0v2m47-2v2m-46 0v1m45-1v1m-44 0v1m43-1v1m-42 0v1m41-1v1m-40 0v1m39-1v1m-38 0v1m37-1v1m-36 0v1m35-1v1m-34 0v1m33-1v1m-32 0v1m31-1v1m-30.5 0.5h3m24 0h3m-26.5 0.5v1m23-1v1m-22.5 0.5h3m16 0h3m-19 1h16"/>
<path stroke="#e51e10" d="m611 544.5h2m-9 1h7m2 0h6m-17 1h2m15 0h3m-22 1h2m20 0h2m-26 1h2m24 0h2m-30 1h2m28 0h2m-32.5 0.5v1m33-1v1m-34 0v1m35-1v1m-36 0v1m37-1v1m-38 0v1m39-1v1m-40 0v1m41-1v1m-42 0v2m43-2v2m-44 0v1m45-1v1m-46 0v3m47-3v3m-48 0v2m49-2v2m-50 0v15m51-15v7m1 0v1m-1 0v7m-50 0v3m49-3v3m-48 0v2m47-2v2m-46 0v1m45-1v1m-44 0v3m43-3v3m-42 0v1m41-1v1m-40 0v1m39-1v1m-38 0v1m37-1v1m-36 0v1m35-1v1m-34 0v1m33-1v1m-32.5 0.5h2m28 0h2m-30 1h2m24 0h2m-26 1h2m20 0h2m-22 1h2m15 0h3m-18 1h15"/>
<path stroke="#e69f00" d="m434 52.5h6m2 0h6m-16 1h2m14 0h2m-20 1h2m18 0h2m-25 1h3m22 0h3m-28.5 0.5v1m29-1v1m-30 0v1m31-1v1m-32 0v1m33-1v1m-34.5 0.5h2m32 0h2m-36.5 0.5v1m37-1v1m-38 0v1m39-1v1m-40 0v2m41-2v2m-42 0v3m43-3v3m-44 0v2m45-2v2m-46 0v14m47-14v6m1 0v1m-1 0v7m-46 0v2m45-2v2m-44 0v2m43-2v2m-42 0v3m41-3v3m-40 0v1m39-1v1m-38 0v1m37-1v1m-36.5 0.5h2m32 0h2m-34.5 0.5v1m33-1v1m-32 0v1m31-1v1m-30 0v1m29-1v1m-28.5 0.5h3m22 0h3m-25 1h2m18 0h2m-20 1h2m14 0h2m-16 1h14"/>
<path stroke="#f0e442" d="m140 499.5h2m-8 1h6m2 0h6m-16 1h2m14 0h2m-20 1h2m18 0h2m-25 1h3m22 0h3m-28.5 0.5v1m29-1v1m-30 0v1m31-1v1m-32 0v1m33-1v1m-34.5 0.5h2m32 0h2m-36.5 0.5v1m37-1v1m-38 0v1m39-1v1m-40 0v2m41-2v2m-42 0v3m43-3v3m-44 0v2m45-2v2m1 0v6m1 0v1m-1 0v7m-46 0v2m45-2v2m-44 0v2m43-2v2m-42 0v3m41-3v3m-40 0v1m39-1v1m-38 0v1m37-1v1m-36.5 0.5h2m32 0h2m-34.5 0.5v1m33-1v1m-32 0v1m31-1v1m-30 0v1m29-1v1m-28.5 0.5h3m22 0h3m-25 1h2m18 0h2m-20 1h2m14 0h2m-16 1h14"/>
<path stroke="#56b4e9" d="m186 511.5h2m-8 1h6m2 0h5m-16 1h3m13 0h4m-20.5 0.5v1m21-1v1m-23.5 0.5h2m22 0h2m-26.5 0.5v1m27-1v1m-29.5 0.5h2m28 0h2m-32.5 0.5v1m33-1v1m-34 0v2m35-2v2m-36 0v1m37-1v1m-38 0v2m39-2v2m-40 0v1m41-1v1m-42 0v3m43-3v3m-44 0v13m45-13v6m1 0v1m-1 0v6m-44 0v4m43-4v4m-42 0v1m41-1v1m-40 0v2m39-2v2m-38 0v1m37-1v1m-36 0v2m35-2v2m-34 0v1m33-1v1m-32.5 0.5h2m28 0h2m-29.5 0.5v1m27-1v1m-26.5 0.5h2m22 0h2m-23.5 0.5v1m21-1v1m-20.5 0.5h3m13 0h4m-17 1h13"/>
<path stroke="#56b4e9" d="m617 499.5h2m-7 1h5m2 0h5m-15 1h3m12 0h3m-20 1h2m18 0h3m-23.5 0.5v1m23-1v1m-25.5 0.5h2m24 0h2m-28.5 0.5v1m29-1v1m-30 0v1m31-1v1m-32 0v1m33-1v1m-34 0v2m35-2v2m-37.5 0.5h2m36 0h2m-39.5 0.5v2m39-2v2m-40 0v3m41-3v3m-42 0v12m43-12v5m1 0v1m-1 0v6m-42 0v3m41-3v3m-40 0v2m39-2v2m-38 0v1m37-1v1m-36 0v2m35-2v2m-34 0v1m33-1v1m-32 0v1m31-1v1m-30 0v1m29-1v1m-28.5 0.5h2m24 0h2m-25.5 0.5v1m23-1v1m-22.5 0.5h2m18 0h3m-21 1h3m12 0h3m-15 1h12"/>
<path stroke="#009e73" d="m845 214.5h2m-7 1h5m2 0h5m-15 1h3m12 0h3m-20 1h2m18 0h3m-23.5 0.5v1m23-1v1m-25.5 0.5h2m24 0h2m-28.5 0.5v1m29-1v1m-30 0v1m31-1v1m-32 0v1m33-1v1m-34 0v2m35-2v2m-37.5 0.5h2m36 0h2m-39.5 0.5v2m39-2v2m-40 0v3m41-3v3m-42 0v12m43-12v5m1 0v1m-1 0v6m-42 0v3m41-3v3m-40 0v2m39-2v2m-38 0v1m37-1v1m-36 0v2m35-2v2m-34 0v1m33-1v1m-32 0v1m31-1v1m-30 0v1m29-1v1m-28.5 0.5h2m24 0h2m-25.5 0.5v1m23-1v1m-22.5 0.5h2m18 0h3m-21 1h3m12 0h3m-15 1h12"/>
<path stroke="#56b4e9" d="m736 294.5h2m-7 1h5m2 0h5m-15 1h3m12 0h3m-20 1h2m18 0h3m-23.5 0.5v1m23-1v1m-25.5 0.5h2m24 0h2m-28.5 0.5v1m29-1v1m-30 0v1m31-1v1m-32 0v1m33-1v1m-34 0v2m35-2v2m-37.5 0.5h2m36 0h2m-39.5 0.5v2m39-2v2m-40 0v3m41-3v3m-42 0v12m43-12v5m1 0v1m-1 0v6m-42 0v3m41-3v3m-40 0v2m39-2v2m-38 0v1m37-1v1m-36 0v2m35-2v2m-34 0v1m33-1v1m-32 0v1m31-1v1m-30 0v1m29-1v1m-28.5 0.5h2m24 0h2m-25.5 0.5v1m23-1v1m-22.5 0.5h2m18 0h3m-21 1h3m12 0h3m-15 1h12"/>
<path stroke="#9400d3" d="m229 503.5h2m-7 1h5m2 0h5m-15 1h3m12 0h3m-20 1h2m18 0h2m-22.5 0.5v1m23-1v1m-25.5 0.5h2m24 0h2m-28.5 0.5v1m29-1v1m-30.5 0.5h2m28 0h2m-32.5 0.5v2m33-2v2m-34 0v1m35-1v1m-36 0v2m37-2v2m-38 0v3m39-3v3m-40 0v12m41-12v5m1 0v1m-1 0v6m-40 0v3m39-3v3m-38 0v2m37-2v2m-36 0v1m35-1v1m-34 0v2m33-2v2m-32.5 0.5h2m28 0h2m-30.5 0.5v1m29-1v1m-28.5 0.5h2m24 0h2m-25.5 0.5v1m23-1v1m-22.5 0.5h2m18 0h2m-20 1h3m12 0h3m-15 1h12"/>
<path stroke="#000000" d="m757 622.5h2m-8 1h6m2 0h6m-16 1h2m14 0h2m-18.5 0.5v1m18.5-0.5h2m-23 1h2m20 0h2m-24.5 0.5v1m25-1v1m-27.5 0.5h2m26 0h2m-29.5 0.5v1m29-1v1m-30 0v1m31-1v1m-32 0v1m33-1v1m-34.5 0.5h2m32 0h2m-35.5 0.5v1m35-1v1m-36 0v2m37-2v2m-38 0v14m39-14v6m1 0v1m-1 0v7m-38 0v2m37-2v2m-36 0v1m35-1v1m-34 0v2m33-2v2m-32 0v1m31-1v1m-30 0v1m29-1v1m-29.5 0.5h2m26 0h2m-27.5 0.5v1m25-1v1m-24.5 0.5h2m20 0h2m-21.5 0.5v1m18.5-0.5h2m-20 1h2m14 0h2m-16 1h14"/>
<path stroke="#e51e10" d="m615 750.5h2m-8 1h6m2 0h6m-16 1h2m14 0h2m-18.5 0.5v1m18.5-0.5h2m-23 1h2m20 0h2m-24.5 0.5v1m25-1v1m-27.5 0.5h2m26 0h2m-29.5 0.5v1m29-1v1m-30 0v1m31-1v1m-32 0v1m33-1v1m-34.5 0.5h2m32 0h2m-35.5 0.5v1m35-1v1m-36 0v2m37-2v2m-38 0v14m39-14v6m1 0v1m-1 0v7m-38 0v2m37-2v2m-36 0v1m35-1v1m-34 0v2m32.5-1.5h2m-1.5 0.5v1m-32 0v1m31-1v1m-30 0v1m29-1v1m-29.5 0.5h2m26 0h2m-27.5 0.5v1m25-1v1m-24.5 0.5h2m20 0h2m-21.5 0.5v1m18.5-0.5h2m-20 1h2m14 0h2m-16 1h14"/>
<path stroke="#000000" d="m761 52.5h6m2 0h6m-16 1h2m14 0h2m-18.5 0.5v1m18.5-0.5h2m-23 1h2m20 0h2m-24.5 0.5v1m25-1v1m-27.5 0.5h2m26 0h2m-29.5 0.5v1m29-1v1m-30 0v1m31-1v1m-32 0v1m33-1v1m-34.5 0.5h2m32 0h2m-35.5 0.5v1m35-1v1m-36 0v2m37-2v2m-38 0v14m39-14v6m1 0v1m-1 0v7m-38 0v2m37-2v2m-36 0v1m35-1v1m-34 0v2m33-2v2m-32 0v1m31-1v1m-30 0v1m29-1v1m-29.5 0.5h2m26 0h2m-27.5 0.5v1m25-1v1m-24.5 0.5h2m20 0h2m-21.5 0.5v1m18.5-0.5h2m-20 1h2m14 0h2m-16 1h14"/>
<path stroke="#e51e10" d="m271 52.5h6m2 0h6m-16 1h2m14 0h2m-18.5 0.5v1m18.5-0.5h2m-23 1h2m20 0h2m-24.5 0.5v1m25-1v1m-27.5 0.5h2m26 0h2m-29.5 0.5v1m29-1v1m-30 0v1m31-1v1m-32 0v1m33-1v1m-34.5 0.5h2m32 0h2m-35.5 0.5v1m35-1v1m-36 0v2m37-2v2m-38 0v14m39-14v6m1 0v1m-1 0v7m-38 0v2m37-2v2m-36 0v1m35-1v1m-34 0v2m33-2v2m-32 0v1m31-1v1m-30 0v1m29-1v1m-29.5 0.5h2m26 0h2m-27.5 0.5v1m25-1v1m-24.5 0.5h2m20 0h2m-21.5 0.5v1m18.5-0.5h2m-20 1h2m14 0h2m-16 1h14"/>
<path stroke="#e51e10" d="m607.5 52v1m-6.5 0.5h12m-14 1h2m12 0h2m-18 1h2m16 0h2m-22 1h2m20 0h2m-25 1h2m22 0h2m-26.5 0.5v1m27-1v1m-28 0v1m29-1v1m-30.5 0.5h2m28 0h2m-31.5 0.5v1m31-1v1m-32 0v2m33-2v2m-34 0v2m35-2v2m-36 0v12m37-12v5m-0.5 0.5h2m-1.5 0.5v6m-36 0v2m35-2v2m-34 0v2m33-2v2m-32 0v1m31-1v1m-31.5 0.5h2m28 0h2m-30.5 0.5v1m29-1v1m-28 0v1m27-1v1m-26.5 0.5h2m22 0h2m-25 1h2m20 0h2m-22 1h2m16 0h2m-18 1h2m12 0h2m-14 1h12"/>
<path stroke="#0072b2" d="m704.5 683v1m-6.5 0.5h12m-14 1h2m12 0h2m-18 1h2m16 0h2m-22 1h2m20 0h2m-25 1h2m22 0h2m-26.5 0.5v1m27-1v1m-28 0v1m29-1v1m-30.5 0.5h2m28 0h2m-31.5 0.5v1m31-1v1m-32 0v2m33-2v2m-34 0v2m35-2v2m-36 0v12m37-12v5m-0.5 0.5h2m-1.5 0.5v6m-36 0v2m35-2v2m-34 0v2m33-2v2m-32 0v1m31-1v1m-31.5 0.5h2m28 0h2m-30.5 0.5v1m29-1v1m-28 0v1m27-1v1m-26.5 0.5h2m22 0h2m-25 1h2m20 0h2m-22 1h2m16 0h2m-18 1h2m12 0h2m-14 1h12"/>
<path stroke="#0072b2" d="m912.5 689v1m-6.5 0.5h12m-14 1h2m12 0h2m-18 1h2m16 0h2m-22 1h2m20 0h2m-25 1h2m22 0h2m-26.5 0.5v1m27-1v1m-28 0v1m29-1v1m-30.5 0.5h2m28 0h2m-31.5 0.5v1m31-1v1m-32 0v2m33-2v2m-34 0v2m35-2v2m-36 0v12m37-12v12m-36 0v2m35-2v2m-34 0v2m33-2v2m-32 0v1m31-1v1m-31.5 0.5h2m28 0h2m-30.5 0.5v1m29-1v1m-28 0v1m27-1v1m-26.5 0.5h2m22 0h2m-25 1h2m20 0h2m-22 1h2m16 0h2m-18 1h2m12 0h2m-14 1h12"/>
<path stroke="#0072b2" d="m274.5 827v1m-6.5 0.5h12m-14 1h2m12 0h2m-18 1h2m16 0h2m-22 1h2m20 0h2m-25 1h2m22 0h2m-26.5 0.5v1m27-1v1m-28 0v1m29-1v1m-30.5 0.5h2m28 0h2m-31.5 0.5v1m31-1v1m-32 0v2m33-2v2m-34 0v2m35-2v2m-36 0v12m37-12v5m-0.5 0.5h2m-2 1h2m-1.5 0.5v5m-36 0v2m35-2v2m-34 0v2m33-2v2m-32 0v1m31-1v1m-31.5 0.5h2m28 0h2m-30.5 0.5v1m29-1v1m-28 0v1m27-1v1m-26.5 0.5h2m22 0h2m-25 1h2m20 0h2m-22 1h2m16 0h2m-18 1h2m12 0h2"/>
<path stroke="#0072b2" d="m136.5 194v1m-6.5 0.5h12m-15 1h3m12 0h3m0.5 0.5v1m-19.5-0.5h2m-2.5 0.5v1m21-1v1m-23.5 0.5h2m22 0h2m-27 1h2m24 0h2m-27.5 0.5v1m27-1v1m-28 0v1m29-1v1m-30 0v1m31-1v1m-32 0v3m33-3v3m-34 0v12m35-12v5m-0.5 0.5h2m-1.5 0.5v6m-34 0v2m33-2v2m-33.5 0.5h2m30 0h2m-32.5 0.5v1m31-1v1m-30 0v1m29-1v1m-28 0v1m27-1v1m-27.5 0.5h2m24 0h2m-27 1h2m22 0h2m-23.5 0.5v1m21-1v1m-1 0v1m-19.5-0.5h2m-1 1h3m12 0h3m-15 1h12"/>
<path stroke="#f0e442" d="m577.5 755v1m-6.5 0.5h12m-15 1h3m12 0h3m0.5 0.5v1m-19.5-0.5h2m-2.5 0.5v1m21-1v1m-23.5 0.5h2m22 0h2m-27 1h2m24 0h2m-27.5 0.5v1m27-1v1m-28 0v1m29-1v1m-30 0v1m31-1v1m-32 0v3m33-3v3m-34 0v12m35-12v5m-0.5 0.5h2m-1.5 0.5v6m-34 0v2m33-2v2m-33.5 0.5h2m30 0h2m-32.5 0.5v1m31-1v1m-30 0v1m29-1v1m-28 0v1m27-1v1m-27.5 0.5h2m24 0h2m-27 1h2m22 0h2m-23.5 0.5v1m21-1v1m-1 0v1m-19.5-0.5h2m-1 1h3m12 0h3m-15 1h12"/>
<path stroke="#e69f00" d="m578.5 192v1m-6.5 0.5h12m-15 1h3m12 0h3m0.5 0.5v1m-19.5-0.5h2m-2.5 0.5v1m21-1v1m-23.5 0.5h2m22 0h2m-27 1h2m24 0h2m-27.5 0.5v1m27-1v1m-28 0v1m29-1v1m-30 0v1m31-1v1m-32 0v3m33-3v3m-34 0v12m35-12v5m-0.5 0.5h2m-1.5 0.5v6m-34 0v2m33-2v2m-33.5 0.5h2m30 0h2m-32.5 0.5v1m31-1v1m-30 0v1m29-1v1m-28 0v1m27-1v1m-27.5 0.5h2m24 0h2m-27 1h2m22 0h2m-23.5 0.5v1m21-1v1m-1 0v1m-19.5-0.5h2m-1 1h3m12 0h3m-15 1h12"/>
<path stroke="#f0e442" d="m776.5 829v1m-6.5 0.5h12m-15 1h3m12 0h3m0.5 0.5v1m-19.5-0.5h2m-2.5 0.5v1m21-1v1m-23.5 0.5h2m22 0h2m-27 1h2m24 0h2m-27.5 0.5v1m27-1v1m-28 0v1m29-1v1m-30 0v1m31-1v1m-32 0v3m33-3v3m-34 0v12m35-12v5m-0.5 0.5h2m-2 1h2m-1.5 0.5v5m-34 0v2m33-2v3m-33.5-0.5h2m-0.5 0.5v1m31-1v1m-30 0v1m29-1v1m-28 0v1m27-1v1m-27.5 0.5h2m24 0h2m-27 1h2m22 0h2m-23.5 0.5v1m21-1v1m-1 0v1m-19.5-0.5h2m-1 1h3m12 0h3"/>
<path stroke="#f0e442" d="m604.5 169v1m-6.5 0.5h12m-15 1h3m12 0h3m0.5 0.5v1m-19.5-0.5h2m-2.5 0.5v1m21-1v1m-23.5 0.5h2m22 0h2m-27 1h2m24 0h2m-27.5 0.5v1m27-1v1m-28 0v1m29-1v1m-30 0v1m31-1v1m-32 0v3m33-3v3m-34 0v12m35-12v5m-0.5 0.5h2m-1.5 0.5v6m-34 0v2m33-2v2m-33.5 0.5h2m30 0h2m-32.5 0.5v1m31-1v1m-30 0v1m29-1v1m-28 0v1m27-1v1m-27.5 0.5h2m24 0h2m-27 1h2m22 0h2m-23.5 0.5v1m21-1v1m-1 0v1m-19.5-0.5h2m-1 1h3m12 0h3m-15 1h12"/>
<path stroke="#e69f00" d="m914.5 387v1m-6.5 0.5h12m-14 1h2m12 0h2m-18 1h2m16 0h2m-21 1h2m18 0h2m-24 1h2m22 0h2m-25.5 0.5v1m25-1v1m-26 0v1m27-1v1m-28.5 0.5h2m26 0h2m-29.5 0.5v1m29-1v1m-30 0v2m31-2v2m-32 0v12m33-12v12m-32 0v2m31-2v2m-30 0v1m29-1v1m-29.5 0.5h2m26 0h2m-28.5 0.5v1m27-1v1m-26 0v1m25-1v1m-25.5 0.5h2m22 0h2m-24 1h2m18 0h2m-21 1h2m16 0h2m-18 1h2m12 0h2m-14 1h12"/>
<path stroke="#e69f00" d="m421.5 831v1m-6.5 0.5h12m-14 1h2m12 0h2m-18 1h2m16 0h2m-21 1h2m18 0h2m-24 1h2m22 0h2m-25.5 0.5v1m25-1v1m-26 0v1m27-1v1m-28.5 0.5h2m26 0h2m-29.5 0.5v1m29-1v1m-30 0v2m31-2v2m-32 0v12m33-12v5m-0.5 0.5h2m-2 1h2m-1.5 0.5v5m-32 0v2m31-2v2m-30 0v1m29-1v1m-29.5 0.5h2m26 0h2m-28.5 0.5v1m27-1v1m-26 0v1m25-1v1m-25.5 0.5h2m22 0h2m-24 1h2m18 0h2m-21 1h2m16 0h2m-18 1h2m12 0h2"/>
<path stroke="#56b4e9" d="m282.5 294v1m-5.5 0.5h10m-13 1h3m10 0h3m0.5 0.5v1m-17.5-0.5h2m-4 1h2m18 0h2m-23 1h2m20 0h2m-25 1h2m22 0h2m-25.5 0.5v1m25-1v1m-26 0v1m27-1v1m-28 0v3m29-3v3m-30 0v10m31-10v4m-0.5 0.5h2m-1.5 0.5v5m-30 0v2m29-2v2m-29.5 0.5h2m26 0h2m-28.5 0.5v1m27-1v1m-26 0v1m25-1v1m-25.5 0.5h2m22 0h2m-25 1h2m20 0h2m-23 1h2m18 0h2m-2.5 0.5v1m-17.5-0.5h2m-1 1h3m10 0h3m-13 1h10"/>
<path stroke="#56b4e9" d="m268.5 509v1m-5.5 0.5h10m-13 1h3m10 0h3m0.5 0.5v1m-17.5-0.5h2m-4 1h2m18 0h2m-23 1h2m20 0h2m-25 1h2m22 0h2m-25.5 0.5v1m25-1v1m-26 0v1m27-1v1m-28 0v3m29-3v3m-30 0v10m31-10v4m-0.5 0.5h2m-1.5 0.5v5m-30 0v2m29-2v2m-29.5 0.5h2m26 0h2m-28.5 0.5v1m27-1v1m-26 0v1m25-1v1m-25.5 0.5h2m22 0h2m-25 1h2m20 0h2m-23 1h2m18 0h2m-2.5 0.5v1m-17.5-0.5h2m-1 1h3m10 0h3m-13 1h10"/>
<path stroke="#009e73" d="m676.5 619v1m-5.5 0.5h10m-13 1h3m10 0h3m0.5 0.5v1m-17.5-0.5h2m-4 1h2m18 0h2m-23 1h2m20 0h2m-25 1h2m22 0h2m-25.5 0.5v1m25-1v1m-26 0v1m27-1v1m-28 0v3m29-3v3m-30 0v10m31-10v4m-0.5 0.5h2m-1.5 0.5v5m-30 0v2m29-2v2m-29.5 0.5h2m26 0h2m-28.5 0.5v1m27-1v1m-26 0v1m25-1v1m-25.5 0.5h2m22 0h2m-25 1h2m20 0h2m-23 1h2m18 0h2m-2.5 0.5v1m-17.5-0.5h2m-1 1h3m10 0h3m-13 1h10"/>
<path stroke="#56b4e9" d="m133.5 342v1m-5.5 0.5h10m-13 1h3m10 0h3m0.5 0.5v1m-17.5-0.5h2m-4 1h2m18 0h2m-23 1h2m20 0h2m-25 1h2m22 0h2m-25.5 0.5v1m25-1v1m-26 0v1m27-1v1m-28 0v3m29-3v3m1 0v4m-0.5 0.5h2m-1.5 0.5v5m-30 0v2m29-2v2m-29.5 0.5h2m26 0h2m-28.5 0.5v1m27-1v1m-26 0v1m25-1v1m-25.5 0.5h2m22 0h2m-25 1h2m20 0h2m-23 1h2m18 0h2m-2.5 0.5v1m-17.5-0.5h2m-1 1h3m10 0h3m-13 1h10"/>
<path stroke="#9400d3" d="m375.5 561v1m-6.5 0.5h12m-12.5 0.5v1m13-1v1m-15.5 0.5h2m14 0h2m-20 1h2m18 0h2m-23 1h2m20 0h2m-23.5 0.5v1m23-1v1m-24 0v2m25-2v2m-26 0v1m27-1v1m-28 0v12m29-12v5m-0.5 0.5h2m-1.5 0.5v6m-28 0v1m27-1v1m-26 0v2m25-2v2m-24 0v1m23-1v1m-23.5 0.5h2m20 0h2m-23 1h2m18 0h2m-20 1h2m14 0h2m-15.5 0.5v1m13-1v1m-12.5 0.5h12"/>
<path stroke="#009e73" d="m132.5 546v1m-6.5 0.5h12m-12.5 0.5v1m13-1v1m-15.5 0.5h2m14 0h2m-20 1h2m18 0h2m-23 1h2m20 0h2m-23.5 0.5v1m23-1v1m-24 0v2m25-2v2m-26 0v1m27-1v1m1 0v5m-0.5 0.5h2m-1.5 0.5v6m-28 0v1m27-1v1m-26 0v2m25-2v2m-24 0v1m23-1v1m-23.5 0.5h2m20 0h2m-23 1h2m18 0h2m-20 1h2m14 0h2m-15.5 0.5v1m13-1v1m-12.5 0.5h12"/>
<path stroke="#009e73" d="m132.5 701v1m-6.5 0.5h12m-12.5 0.5v1m13-1v1m-15.5 0.5h2m14 0h2m-20 1h2m18 0h2m-23 1h2m20 0h2m-23.5 0.5v1m23-1v1m-24 0v2m25-2v2m-26 0v1m27-1v1m1 0v5m-0.5 0.5h2m-1.5 0.5v6m-28 0v1m27-1v1m-26 0v2m25-2v2m-24 0v1m23-1v1m-23.5 0.5h2m20 0h2m-23 1h2m18 0h2m-20 1h2m14 0h2m-15.5 0.5v1m13-1v1m-12.5 0.5h12"/>
<path stroke="#9400d3" d="m282.5 253v1m-6.5 0.5h12m-13 1h2m10 0h3m-17 1h2m14 0h2m-19 1h2m16 0h2m-21 1h2m18 0h2m-23 1h2m20 0h2m-25 1h2m22 0h2m-25.5 0.5v1m25-1v1m-26.5 0.5h2m24 0h2m-27.5 0.5v10m27-10v4m-0.5 0.5h2m-1.5 0.5v5m-27.5 0.5h2m24 0h2m-26.5 0.5v1m25-1v1m-24 0v1m23-1v1m-23.5 0.5h2m20 0h2m-23 1h2m18 0h2m-21 1h2m16 0h2m-19 1h2m14 0h2m-16 1h2m10 0h3m-14 1h12"/>
<path stroke="#9400d3" d="m665.5 401v1m-6.5 0.5h12m-13 1h2m10 0h3m-17 1h2m14 0h2m-19 1h2m16 0h2m-21 1h2m18 0h2m-23 1h2m20 0h2m-25 1h2m22 0h2m-25.5 0.5v1m25-1v1m-26.5 0.5h2m24 0h2m-27.5 0.5v10m27-10v4m-0.5 0.5h2m-1.5 0.5v5m-27.5 0.5h2m24 0h2m-26.5 0.5v1m25-1v1m-24 0v1m23-1v1m-23.5 0.5h2m20 0h2m-23 1h2m18 0h2m-21 1h2m16 0h2m-19 1h2m14 0h2m-16 1h2m10 0h3m-14 1h12"/>
<path stroke="#9400d3" d="m916.5 548v1m-6.5 0.5h12m-13 1h2m10 0h3m-17 1h2m14 0h2m-19 1h2m16 0h2m-21 1h2m18 0h2m-23 1h2m20 0h2m-25 1h2m22 0h2m-25.5 0.5v1m25-1v1m-26.5 0.5h2m24 0h2m-27.5 0.5v10m27-10v4m-0.5 0.5h2m-1.5 0.5v5m-27.5 0.5h2m24 0h2m-26.5 0.5v1m25-1v1m-24 0v1m23-1v1m-23.5 0.5h2m20 0h2m-23 1h2m18 0h2m-21 1h2m16 0h2m-19 1h2m14 0h2m-16 1h2m10 0h3m-14 1h12"/>
<path stroke="#000000" d="m459.5 428v1m-6.5 0.5h12m-13 1h2m10 0h3m-17 1h2m14 0h2m-19 1h2m16 0h2m-21 1h2m18 0h2m-23 1h2m20 0h2m-25 1h2m22 0h2m-25.5 0.5v1m25-1v1m-26.5 0.5h2m24 0h2m-27.5 0.5v10m27-10v4m-0.5 0.5h2m-1.5 0.5v5m-27.5 0.5h2m24 0h2m-26.5 0.5v1m25-1v1m-24 0v1m23-1v1m-23.5 0.5h2m20 0h2m-23 1h2m18 0h2m-21 1h2m16 0h2m-19 1h2m14 0h2m-16 1h2m10 0h3m-14 1h12"/>
<path stroke="#000000" d="m911 52.5h12m-13 1h2m10 0h3m-17 1h2m14 0h2m-19 1h2m16 0h2m-21 1h2m18 0h2m-23 1h2m20 0h2m-25 1h2m22 0h2m-25.5 0.5v1m25-1v1m-26.5 0.5h2m24 0h2m-27.5 0.5v10m27-10v10m-27.5 0.5h2m24 0h2m-26.5 0.5v1m25-1v1m-24 0v1m23-1v1m-23.5 0.5h2m20 0h2m-23 1h2m18 0h2m-21 1h2m16 0h2m-19 1h2m14 0h2m-16 1h2m10 0h3m-14 1h12"/>
<path stroke="#000000" d="m596.5 462v1m-6.5 0.5h12m-13 1h2m10 0h3m-17 1h2m14 0h2m-19 1h2m16 0h2m-21 1h2m18 0h2m-23 1h2m20 0h2m-25 1h2m22 0h2m-25.5 0.5v1m25-1v1m-26.5 0.5h2m24 0h2m-27.5 0.5v10m27-10v4m-0.5 0.5h2m-1.5 0.5v5m-27.5 0.5h2m24 0h2m-26.5 0.5v1m25-1v1m-24 0v1m23-1v1m-23.5 0.5h2m20 0h2m-23 1h2m18 0h2m-21 1h2m16 0h2m-19 1h2m14 0h2m-16 1h2m10 0h3m-14 1h12"/>
<path stroke="#000000" d="m245.5 693v1m-6.5 0.5h12m-13 1h2m10 0h3m-17 1h2m14 0h2m-19 1h2m16 0h2m-21 1h2m18 0h2m-23 1h2m20 0h2m-25 1h2m22 0h2m-25.5 0.5v1m25-1v1m-26.5 0.5h2m24 0h2m-27.5 0.5v10m27-10v4m-0.5 0.5h2m-1.5 0.5v5m-27.5 0.5h2m24 0h2m-26.5 0.5v1m25-1v1m-24 0v1m23-1v1m-23.5 0.5h2m20 0h2m-23 1h2m18 0h2m-21 1h2m16 0h2m-19 1h2m14 0h2m-16 1h2m10 0h3m-14 1h12"/>
<path stroke="#000000" d="m279.5 726v1m-6.5 0.5h12m-13 1h2m10 0h3m-17 1h2m14 0h2m-19 1h2m16 0h2m-21 1h2m18 0h2m-23 1h2m20 0h2m-25 1h2m22 0h2m-25.5 0.5v1m25-1v1m-26.5 0.5h2m24 0h2m-27.5 0.5v10m27-10v4m-0.5 0.5h2m-1.5 0.5v5m-27.5 0.5h2m24 0h2m-26.5 0.5v1m25-1v1m-24 0v1m23-1v1m-23.5 0.5h2m20 0h2m-23 1h2m18 0h2m-21 1h2m16 0h2m-19 1h2m14 0h2m-16 1h2m10 0h3m-14 1h12"/>
<path stroke="#e51e10" d="m390.5 366v1m-5.5 0.5h10m-12 1h2m10 0h2m-16 1h2m14 0h2m-19 1h2m16 0h2m-21 1h2m18 0h2m-21.5 0.5v1m21-1v1m-22 0v2m23-2v2m-24 0v10m25-10v4m-0.5 0.5h2m-1.5 0.5v5m-24 0v2m23-2v2m-22 0v1m21-1v1m-21.5 0.5h2m18 0h2m-21 1h2m16 0h2m-19 1h2m14 0h2m-16 1h2m10 0h2m-12 1h10"/>
<path stroke="#000000" d="m255.5 484v1m-5.5 0.5h10m-12 1h2m10 0h2m-16 1h2m14 0h2m-19 1h2m16 0h2m-21 1h2m18 0h2m-21.5 0.5v1m21-1v1m-22 0v2m23-2v2m-24 0v10m25-10v4m-0.5 0.5h2m-1.5 0.5v5m-24 0v2m23-2v2m-22 0v1m21-1v1m-21.5 0.5h2m18 0h2m-21 1h2m16 0h2m-19 1h2m14 0h2m-16 1h2m10 0h2m-12 1h10"/>
<path stroke="#e51e10" d="m328.5 358v1m-5.5 0.5h10m-12 1h2m10 0h2m-16 1h2m14 0h2m-19 1h2m16 0h2m-21 1h2m18 0h2m-21.5 0.5v1m21-1v1m-22 0v2m23-2v2m-24 0v10m25-10v4m-0.5 0.5h2m-1.5 0.5v5m-24 0v2m23-2v2m-22 0v1m21-1v1m-21.5 0.5h2m18 0h2m-21 1h2m16 0h2m-19 1h2m14 0h2m-16 1h2m10 0h2m-12 1h10"/>
<path stroke="#e51e10" d="m668.5 375v1m-5.5 0.5h10m-12 1h2m10 0h2m-16 1h2m14 0h2m-19 1h2m16 0h2m-21 1h2m18 0h2m-21.5 0.5v1m21-1v1m-22 0v2m23-2v2m-24 0v10m25-10v4m-0.5 0.5h2m-1.5 0.5v5m-24 0v2m23-2v2m-22 0v1m21-1v1m-21.5 0.5h2m18 0h2m-21 1h2m16 0h2m-19 1h2m14 0h2m-16 1h2m10 0h2m-12 1h10"/>
<path stroke="#e51e10" d="m918.5 189v1m-5.5 0.5h10m-12 1h2m10 0h2m-16 1h2m14 0h2m-19 1h2m16 0h2m-21 1h2m18 0h2m-21.5 0.5v1m21-1v1m-22 0v2m23-2v2m-24 0v10m25-10v10m-24 0v2m23-2v2m-22 0v1m21-1v1m-21.5 0.5h2m18 0h2m-21 1h2m16 0h2m-19 1h2m14 0h2m-16 1h2m10 0h2m-12 1h10"/>
<path stroke="#e51e10" d="m552.5 839v1m-5.5 0.5h10m-12 1h2m10 0h2m-16 1h2m14 0h2m-19 1h2m16 0h2m-21 1h2m18 0h2m-21.5 0.5v1m21-1v1m-22 0v2m23-2v2m-24 0v10m25-10v4m-0.5 0.5h2m-1.5 0.5v5m-24 0v2m23-2v2m-22 0v1m21-1v1m-21.5 0.5h2m18 0h2m-21 1h2m16 0h2m-19 1h2m14 0h2m-16 1h2m10 0h2"/>
<path stroke="#e51e10" d="m918.5 839v1m-5.5 0.5h10m-12 1h2m10 0h2m-16 1h2m14 0h2m-19 1h2m16 0h2m-21 1h2m18 0h2m-21.5 0.5v1m21-1v1m-22 0v2m23-2v2m-24 0v10m25-10v10m-24 0v2m23-2v2m-22 0v1m21-1v1m-21.5 0.5h2m18 0h2m-21 1h2m16 0h2m-19 1h2m14 0h2m-16 1h2m10 0h2"/>
<path stroke="#e51e10" d="m130.5 839v1m-5.5 0.5h10m-12 1h2m10 0h2m-16 1h2m14 0h2m-19 1h2m16 0h2m-21 1h2m18 0h2m-21.5 0.5v1m21-1v1m-22 0v2m23-2v2m1 0v4m-0.5 0.5h2m-1.5 0.5v5m-24 0v2m23-2v2m-22 0v1m21-1v1m-21.5 0.5h2m18 0h2m-21 1h2m16 0h2m-19 1h2m14 0h2m-16 1h2m10 0h2"/>
<path stroke="#f0e442" d="m665.5 711v1m-5.5 0.5h10m-12 1h3m8 0h3m-14.5 0.5v1m15-1v1m-16 0v1m17-1v1m-18 0v1m19-1v1m-20 0v2m21-2v2m-22.5 0.5h2m20 0h2m-23.5 0.5v8m23-8v3m-0.5 0.5h2m-1.5 0.5v4m-23.5 0.5h2m20 0h2m-22.5 0.5v2m21-2v2m-20 0v1m19-1v1m-18 0v1m17-1v1m-16 0v1m15-1v1m-14.5 0.5h3m8 0h3m-12 1h10"/>
<path stroke="#f0e442" d="m686.5 442v1m-5.5 0.5h10m-12 1h3m8 0h3m-14.5 0.5v1m15-1v1m-16 0v1m17-1v1m-18 0v1m19-1v1m-20 0v2m21-2v2m-22.5 0.5h2m20 0h2m-23.5 0.5v8m23-8v3m-0.5 0.5h2m-1.5 0.5v4m-23.5 0.5h2m20 0h2m-22.5 0.5v2m21-2v2m-20 0v1m19-1v1m-18 0v1m17-1v1m-16 0v1m15-1v1m-14.5 0.5h3m8 0h3m-12 1h10"/>
<path stroke="#f0e442" d="m812.5 538v1m-5.5 0.5h10m-12 1h3m8 0h3m-14.5 0.5v1m15-1v1m-16 0v1m17-1v1m-18 0v1m19-1v1m-20 0v2m21-2v2m-22.5 0.5h2m20 0h2m-23.5 0.5v8m23-8v3m-0.5 0.5h2m-1.5 0.5v4m-23.5 0.5h2m20 0h2m-22.5 0.5v2m21-2v2m-20 0v1m19-1v1m-18 0v1m17-1v1m-16 0v1m15-1v1m-14.5 0.5h3m8 0h3m-12 1h10"/>
<path stroke="#0072b2" d="m638.5 586v1m-5.5 0.5h10m-12 1h3m8 0h3m-14.5 0.5v1m15-1v1m-16 0v1m17-1v1m-18 0v1m19-1v1m-20 0v2m21-2v2m-22.5 0.5h2m20 0h2m-23.5 0.5v8m23-8v3m-0.5 0.5h2m-1.5 0.5v4m-23.5 0.5h2m20 0h2m-22.5 0.5v2m21-2v2m-20 0v1m19-1v1m-18 0v1m17-1v1m-16 0v1m15-1v1m-14.5 0.5h3m8 0h3m-12 1h10"/>
<path stroke="#0072b2" d="m507.5 608v1m-5.5 0.5h10m-12 1h3m8 0h3m-14.5 0.5v1m15-1v1m-16 0v1m17-1v1m-18 0v1m19-1v1m-20 0v2m21-2v2m-22.5 0.5h2m20 0h2m-23.5 0.5v8m23-8v3m-0.5 0.5h2m-1.5 0.5v4m-23.5 0.5h2m20 0h2m-22.5 0.5v2m21-2v2m-20 0v1m19-1v1m-18 0v1m17-1v1m-16 0v1m15-1v1m-14.5 0.5h3m8 0h3m-12 1h10"/>
<path stroke="#f0e442" d="m441.5 141v1m-5.5 0.5h10m-12 1h3m8 0h3m-14.5 0.5v1m15-1v1m-16 0v1m17-1v1m-18 0v1m19-1v1m-20 0v2m21-2v2m-22.5 0.5h2m20 0h2m-23.5 0.5v8m23-8v3m-0.5 0.5h2m-1.5 0.5v4m-23.5 0.5h2m20 0h2m-22.5 0.5v2m21-2v2m-20 0v1m19-1v1m-18 0v1m17-1v1m-16 0v1m15-1v1m-14.5 0.5h3m8 0h3m-12 1h10"/>
<path stroke="#0072b2" d="m773.5 300v1m-5.5 0.5h10m-12 1h3m8 0h3m-14.5 0.5v1m15-1v1m-16 0v1m17-1v1m-18 0v1m19-1v1m-20 0v2m21-2v2m-22.5 0.5h2m20 0h2m-23.5 0.5v8m23-8v3m-0.5 0.5h2m-1.5 0.5v4m-23.5 0.5h2m20 0h2m-22.5 0.5v2m21-2v2m-20 0v1m19-1v1m-18 0v1m17-1v1m-16 0v1m15-1v1m-14.5 0.5h3m8 0h3m-12 1h10"/>
<path stroke="#0072b2" d="m438.5 463v1m-5.5 0.5h10m-12 1h3m8 0h3m-14.5 0.5v1m15-1v1m-16 0v1m17-1v1m-18 0v1m19-1v1m-20 0v2m21-2v2m-22.5 0.5h2m20 0h2m-23.5 0.5v8m23-8v3m-0.5 0.5h2m-1.5 0.5v4m-23.5 0.5h2m20 0h2m-22.5 0.5v2m21-2v2m-20 0v1m19-1v1m-18 0v1m17-1v1m-16 0v1m15-1v1m-14.5 0.5h3m8 0h3m-12 1h10"/>
<path stroke="#f0e442" d="m234.5 545v1m-5.5 0.5h10m-12 1h3m8 0h3m-14.5 0.5v1m15-1v1m-16 0v1m17-1v1m-18 0v1m19-1v1m-20 0v2m21-2v2m-22.5 0.5h2m20 0h2m-23.5 0.5v8m23-8v3m-0.5 0.5h2m-1.5 0.5v4m-23.5 0.5h2m20 0h2m-22.5 0.5v2m21-2v2m-20 0v1m19-1v1m-18 0v1m17-1v1m-16 0v1m15-1v1m-14.5 0.5h3m8 0h3m-12 1h10"/>
<path stroke="#0072b2" d="m641.5 841v1m-5.5 0.5h10m-12 1h3m8 0h3m-14.5 0.5v1m15-1v1m-16 0v1m17-1v1m-18 0v1m19-1v1m-20 0v2m21-2v2m-22.5 0.5h2m20 0h2m-23.5 0.5v8m23-8v3m-0.5 0.5h2m-1.5 0.5v4m-23.5 0.5h2m20 0h2m-22.5 0.5v2m21-2v2m-20 0v1m19-1v1m-18 0v1m17-1v1m-16 0v1m15-1v1m-14.5 0.5h3m8 0h3"/>
<path stroke="#0072b2" d="m124 52.5h10m-12 1h3m8 0h3m-14.5 0.5v1m15-1v1m-16 0v1m17-1v1m-18 0v1m19-1v1m-20 0v3m21-3v2m-0.5 0.5h2m-0.5 0.5v3m-0.5 0.5h2m-1.5 0.5v4m-22 0v3m20.5-2.5h2m-1.5 0.5v2m-20 0v1m19-1v1m-18 0v1m17-1v1m-16 0v1m15-1v1m-14.5 0.5h3m8 0h3m-12 1h10"/>
<path stroke="#f0e442" d="m423.5 504v1m-5.5 0.5h10m-11 1h2m8 0h2m-14 1h2m12 0h2m-17 1h2m14 0h2m-17.5 0.5v1m17-1v1m-18 0v1m19-1v1m-20.5 0.5h2m18 0h2m-21.5 0.5v8m21-8v3m-0.5 0.5h2m-1.5 0.5v4m-21.5 0.5h2m18 0h2m-20.5 0.5v1m19-1v1m-18 0v1m17-1v1m-17.5 0.5h2m14 0h2m-17 1h2m12 0h2m-14 1h2m8 0h2m-11 1h10"/>
<path stroke="#e69f00" d="m774.5 463v1m-5.5 0.5h10m-11 1h2m8 0h2m-14 1h2m12 0h2m-17 1h2m14 0h2m-17.5 0.5v1m17-1v1m-18 0v1m19-1v1m-20.5 0.5h2m18 0h2m-21.5 0.5v8m21-8v3m-0.5 0.5h2m-1.5 0.5v4m-21.5 0.5h2m18 0h2m-20.5 0.5v1m19-1v1m-18 0v1m17-1v1m-17.5 0.5h2m14 0h2m-17 1h2m12 0h2m-14 1h2m8 0h2m-11 1h10"/>
<path stroke="#f0e442" d="m254.5 556v1m-5.5 0.5h10m-11 1h2m8 0h2m-14 1h2m12 0h2m-17 1h2m14 0h2m-17.5 0.5v1m17-1v1m-18 0v1m19-1v1m-20.5 0.5h2m18 0h2m-21.5 0.5v8m21-8v3m-0.5 0.5h2m-1.5 0.5v4m-21.5 0.5h2m18 0h2m-20.5 0.5v1m19-1v1m-18 0v1m17-1v1m-17.5 0.5h2m14 0h2m-17 1h2m12 0h2m-14 1h2m8 0h2m-11 1h10"/>
<path stroke="#f0e442" d="m498.5 700v1m-5.5 0.5h10m-11 1h2m8 0h2m-14 1h2m12 0h2m-17 1h2m14 0h2m-17.5 0.5v1m17-1v1m-18 0v1m19-1v1m-20.5 0.5h2m18 0h2m-21.5 0.5v8m21-8v3m-0.5 0.5h2m-1.5 0.5v4m-21.5 0.5h2m18 0h2m-20.5 0.5v1m19-1v1m-18 0v1m17-1v1m-17.5 0.5h2m14 0h2m-17 1h2m12 0h2m-14 1h2m8 0h2m-11 1h10"/>
<path stroke="#e69f00" d="m654.5 604v1m-5.5 0.5h10m-11 1h2m8 0h2m-14 1h2m12 0h2m-17 1h2m14 0h2m-17.5 0.5v1m17-1v1m-18 0v1m19-1v1m-20.5 0.5h2m18 0h2m-21.5 0.5v8m21-8v3m-0.5 0.5h2m-1.5 0.5v4m-21.5 0.5h2m18 0h2m-20.5 0.5v1m19-1v1m-18 0v1m17-1v1m-17.5 0.5h2m14 0h2m-17 1h2m12 0h2m-14 1h2m8 0h2m-11 1h10"/>
<path stroke="#f0e442" d="m420.5 740v1m-5.5 0.5h10m-11 1h2m8 0h2m-14 1h2m12 0h2m-17 1h2m14 0h2m-17.5 0.5v1m17-1v1m-18 0v1m19-1v1m-20.5 0.5h2m18 0h2m-21.5 0.5v8m21-8v3m-0.5 0.5h2m-1.5 0.5v4m-21.5 0.5h2m18 0h2m-20.5 0.5v1m19-1v1m-18 0v1m17-1v1m-17.5 0.5h2m14 0h2m-17 1h2m12 0h2m-14 1h2m8 0h2m-11 1h10"/>
<path stroke="#e69f00" d="m818.5 395v1m-5.5 0.5h10m-11 1h2m8 0h2m-14 1h2m12 0h2m-17 1h2m14 0h2m-17.5 0.5v1m17-1v1m-18 0v1m19-1v1m-20.5 0.5h2m18 0h2m-21.5 0.5v8m21-8v3m-0.5 0.5h2m-1.5 0.5v4m-21.5 0.5h2m18 0h2m-20.5 0.5v1m19-1v1m-18 0v1m17-1v1m-17.5 0.5h2m14 0h2m-17 1h2m12 0h2m-14 1h2m8 0h2m-11 1h10"/>
<path stroke="#e69f00" d="m675.5 650v1m-5.5 0.5h10m-11 1h2m8 0h2m-14 1h2m12 0h2m-17 1h2m14 0h2m-17.5 0.5v1m17-1v1m-18 0v1m19-1v1m-20.5 0.5h2m18 0h2m-21.5 0.5v8m21-8v3m-0.5 0.5h2m-1.5 0.5v4m-21.5 0.5h2m18 0h2m-20.5 0.5v1m19-1v1m-18 0v1m17-1v1m-17.5 0.5h2m14 0h2m-17 1h2m12 0h2m-14 1h2m8 0h2m-11 1h10"/>
<path stroke="#f0e442" d="m682.5 670v1m-5.5 0.5h10m-11 1h2m8 0h2m-14 1h2m12 0h2m-17 1h2m14 0h2m-17.5 0.5v1m17-1v1m-18 0v1m19-1v1m-20.5 0.5h2m18 0h2m-21.5 0.5v8m21-8v3m-0.5 0.5h2m-1.5 0.5v4m-21.5 0.5h2m18 0h2m-20.5 0.5v1m19-1v1m-18 0v1m17-1v1m-17.5 0.5h2m14 0h2m-17 1h2m12 0h2m-14 1h2m8 0h2m-11 1h10"/>
<path stroke="#e69f00" d="m675.5 691v1m-5.5 0.5h10m-11 1h2m8 0h2m-14 1h2m12 0h2m-17 1h2m14 0h2m-17.5 0.5v1m17-1v1m-18 0v1m19-1v1m-20.5 0.5h2m18 0h2m-21.5 0.5v8m21-8v3m-0.5 0.5h2m-1.5 0.5v4m-21.5 0.5h2m18 0h2m-20.5 0.5v1m19-1v1m-18 0v1m17-1v1m-17.5 0.5h2m14 0h2m-17 1h2m12 0h2m-14 1h2m8 0h2m-11 1h10"/>
<path stroke="#f0e442" d="m776.5 326v1m-5.5 0.5h10m-11 1h2m8 0h2m-14 1h2m12 0h2m-17 1h2m14 0h2m-17.5 0.5v1m17-1v1m-18 0v1m19-1v1m-20.5 0.5h2m18 0h2m-21.5 0.5v8m21-8v3m-0.5 0.5h2m-1.5 0.5v4m-21.5 0.5h2m18 0h2m-20.5 0.5v1m19-1v1m-18 0v1m17-1v1m-17.5 0.5h2m14 0h2m-17 1h2m12 0h2m-14 1h2m8 0h2m-11 1h10"/>
<path stroke="#e69f00" d="m128.5 680v1m-5.5 0.5h10m-11 1h2m8 0h2m-14 1h2m12 0h2m-17 1h2m14 0h2m-17.5 0.5v1m17-1v1m-18 0v2m19-2v1m-0.5 0.5h2m-0.5 0.5v3m-0.5 0.5h2m-1.5 0.5v4m-20 0v2m18.5-1.5h2m-1.5 0.5v1m-18 0v1m17-1v1m-17.5 0.5h2m14 0h2m-17 1h2m12 0h2m-14 1h2m8 0h2m-11 1h10"/>
<path stroke="#e69f00" d="m767.5 167v1m-5.5 0.5h10m-11 1h2m8 0h2m-14 1h2m12 0h2m-15.5 0.5v1m15-1v1m-16 0v1m17-1v1m-18.5 0.5h2m16 0h2m-19.5 0.5v8m19-8v3m-0.5 0.5h2m-1.5 0.5v4m-19.5 0.5h2m16 0h2m-18.5 0.5v1m17-1v1m-16 0v1m15-1v1m-15.5 0.5h2m12 0h2m-14 1h2m8 0h2m-11 1h10"/>
<path stroke="#e69f00" d="m704.5 214v1m-5.5 0.5h10m-11 1h2m8 0h2m-14 1h2m12 0h2m-15.5 0.5v1m15-1v1m-16 0v1m17-1v1m-18.5 0.5h2m16 0h2m-19.5 0.5v8m19-8v3m-0.5 0.5h2m-1.5 0.5v4m-19.5 0.5h2m16 0h2m-18.5 0.5v1m17-1v1m-16 0v1m15-1v1m-15.5 0.5h2m12 0h2m-14 1h2m8 0h2m-11 1h10"/>
<path stroke="#e69f00" d="m920.5 267v1m-5.5 0.5h10m-11 1h2m8 0h2m-14 1h2m12 0h2m-15.5 0.5v1m15-1v1m-16 0v1m17-1v1m-18.5 0.5h2m16 0h2m-19.5 0.5v8m19-8v3m-0.5 0.5h2m-1.5 0.5v4m-19.5 0.5h2m16 0h2m-18.5 0.5v1m17-1v1m-16 0v1m15-1v1m-15.5 0.5h2m12 0h2m-14 1h2m8 0h2m-11 1h10"/>
<path stroke="#e69f00" d="m157.5 544v1m-5.5 0.5h10m-11 1h2m8 0h2m-14 1h2m12 0h2m-15.5 0.5v1m15-1v1m-16 0v1m17-1v1m-18.5 0.5h2m16 0h2m-19.5 0.5v8m19-8v3m-0.5 0.5h2m-1.5 0.5v4m-19.5 0.5h2m16 0h2m-18.5 0.5v1m17-1v1m-16 0v1m15-1v1m-15.5 0.5h2m12 0h2m-14 1h2m8 0h2m-11 1h10"/>
<path stroke="#56b4e9" d="m372.5 541v1m-5.5 0.5h10m-11 1h2m8 0h2m-14 1h2m12 0h2m-15.5 0.5v1m15-1v1m-16 0v1m17-1v1m-18.5 0.5h2m16 0h2m-19.5 0.5v8m19-8v3m-0.5 0.5h2m-1.5 0.5v4m-19.5 0.5h2m16 0h2m-18.5 0.5v1m17-1v1m-16 0v1m15-1v1m-15.5 0.5h2m12 0h2m-14 1h2m8 0h2m-11 1h10"/>
<path stroke="#56b4e9" d="m713.5 327v1m-5.5 0.5h10m-11 1h2m8 0h2m-14 1h2m12 0h2m-15.5 0.5v1m15-1v1m-16 0v1m17-1v1m-18.5 0.5h2m16 0h2m-19.5 0.5v8m19-8v3m-0.5 0.5h2m-1.5 0.5v4m-19.5 0.5h2m16 0h2m-18.5 0.5v1m17-1v1m-16 0v1m15-1v1m-15.5 0.5h2m12 0h2m-14 1h2m8 0h2m-11 1h10"/>
<path stroke="#56b4e9" d="m467 52.5h10m-11 1h2m8 0h2m-14 1h2m12 0h2m-15.5 0.5v1m15-1v1m-16 0v1m17-1v1m-18.5 0.5h2m16 0h2m-19.5 0.5v8m19-8v3m-0.5 0.5h2m-1.5 0.5v4m-19.5 0.5h2m16 0h2m-18.5 0.5v1m17-1v1m-16 0v1m15-1v1m-15.5 0.5h2m12 0h2m-14 1h2m8 0h2m-11 1h10"/>
<path stroke="#56b4e9" d="m440.5 98v1m-5.5 0.5h10m-11 1h2m8 0h2m-14 1h2m12 0h2m-15.5 0.5v1m15-1v1m-16 0v1m17-1v1m-18.5 0.5h2m16 0h2m-19.5 0.5v8m19-8v3m-0.5 0.5h2m-1.5 0.5v4m-19.5 0.5h2m16 0h2m-18.5 0.5v1m17-1v1m-16 0v1m15-1v1m-15.5 0.5h2m12 0h2m-14 1h2m8 0h2m-11 1h10"/>
<path stroke="#56b4e9" d="m252.5 536v1m-5.5 0.5h10m-11 1h2m8 0h2m-14 1h2m12 0h2m-15.5 0.5v1m15-1v1m-16 0v1m17-1v1m-18.5 0.5h2m16 0h2m-19.5 0.5v8m19-8v3m-0.5 0.5h2m-1.5 0.5v4m-19.5 0.5h2m16 0h2m-18.5 0.5v1m17-1v1m-16 0v1m15-1v1m-15.5 0.5h2m12 0h2m-14 1h2m8 0h2m-11 1h10"/>
<path stroke="#56b4e9" d="m430.5 485v1m-5.5 0.5h10m-11 1h2m8 0h2m-14 1h2m12 0h2m-15.5 0.5v1m15-1v1m-16 0v1m17-1v1m-18.5 0.5h2m16 0h2m-19.5 0.5v8m19-8v3m-0.5 0.5h2m-1.5 0.5v4m-19.5 0.5h2m16 0h2m-18.5 0.5v1m17-1v1m-16 0v1m15-1v1m-15.5 0.5h2m12 0h2m-14 1h2m8 0h2m-11 1h10"/>
<path stroke="#56b4e9" d="m477.5 417v1m-5.5 0.5h10m-11 1h2m8 0h2m-14 1h2m12 0h2m-15.5 0.5v1m15-1v1m-16 0v1m17-1v1m-18.5 0.5h2m16 0h2m-19.5 0.5v8m19-8v3m-0.5 0.5h2m-1.5 0.5v4m-19.5 0.5h2m16 0h2m-18.5 0.5v1m17-1v1m-16 0v1m15-1v1m-15.5 0.5h2m12 0h2m-14 1h2m8 0h2m-11 1h10"/>
<path stroke="#e69f00" d="m920.5 527v1m-5.5 0.5h10m-11 1h2m8 0h2m-14 1h2m12 0h2m-15.5 0.5v1m15-1v1m-16 0v1m17-1v1m-18.5 0.5h2m16 0h2m-19.5 0.5v8m19-8v3m-0.5 0.5h2m-1.5 0.5v4m-19.5 0.5h2m16 0h2m-18.5 0.5v1m17-1v1m-16 0v1m15-1v1m-15.5 0.5h2m12 0h2m-14 1h2m8 0h2m-11 1h10"/>
<path stroke="#56b4e9" d="m127.5 482v1m-5.5 0.5h10m-11 1h2m8 0h2m-14 1h2m12 0h2m-15.5 0.5v1m15-1v1m-16 0v2m17-2v1m-0.5 0.5h2m-0.5 0.5v3m-0.5 0.5h2m-1.5 0.5v4m-18 0v2m16.5-1.5h2m-1.5 0.5v1m-16 0v1m15-1v1m-15.5 0.5h2m12 0h2m-14 1h2m8 0h2m-11 1h10"/>
<path stroke="#56b4e9" d="m261.5 714v1m-5.5 0.5h10m-11 1h2m8 0h2m-14 1h2m12 0h2m-15.5 0.5v1m15-1v1m-16 0v1m17-1v1m-18.5 0.5h2m16 0h2m-19.5 0.5v8m19-8v3m-0.5 0.5h2m-1.5 0.5v4m-19.5 0.5h2m16 0h2m-18.5 0.5v1m17-1v1m-16 0v1m15-1v1m-15.5 0.5h2m12 0h2m-14 1h2m8 0h2m-11 1h10"/>
<path stroke="#56b4e9" d="m127.5 374v1m-5.5 0.5h10m-11 1h2m8 0h2m-14 1h2m12 0h2m-15.5 0.5v1m15-1v1m-16 0v2m17-2v1m-0.5 0.5h2m-0.5 0.5v3m-0.5 0.5h2m-1.5 0.5v4m-18 0v2m16.5-1.5h2m-1.5 0.5v1m-16 0v1m15-1v1m-15.5 0.5h2m12 0h2m-14 1h2m8 0h2m-11 1h10"/>
<path stroke="#56b4e9" d="m410.5 52v1m-5.5 0.5h10m-11 1h2m8 0h2m-13 1h2m10 0h2m-15 1h2m12 0h2m-17 1h2m14 0h2m-17.5 0.5v8m17-8v3m-0.5 0.5h2m-1.5 0.5v4m-17.5 0.5h2m14 0h2m-17 1h2m12 0h2m-15 1h2m10 0h2m-13 1h2m8 0h2m-11 1h10"/>
<path stroke="#009e73" d="m215.5 541v1m-5.5 0.5h10m-11 1h2m8 0h2m-13 1h2m10 0h2m-15 1h2m12 0h2m-17 1h2m14 0h2m-17.5 0.5v8m17-8v3m-0.5 0.5h2m-1.5 0.5v4m-17.5 0.5h2m14 0h2m-17 1h2m12 0h2m-15 1h2m10 0h2m-13 1h2m8 0h2m-11 1h10"/>
<path stroke="#009e73" d="m894.5 544v1m-5.5 0.5h10m-11 1h2m8 0h2m-13 1h2m10 0h2m-15 1h2m12 0h2m-17 1h2m14 0h2m-17.5 0.5v8m17-8v3m-0.5 0.5h2m-1.5 0.5v4m-17.5 0.5h2m14 0h2m-17 1h2m12 0h2m-15 1h2m10 0h2m-13 1h2m8 0h2m-11 1h10"/>
<path stroke="#9400d3" d="m335.5 635v1m-5.5 0.5h10m-11 1h2m8 0h2m-13 1h2m10 0h2m-15 1h2m12 0h2m-17 1h2m14 0h2m-17.5 0.5v8m17-8v3m-0.5 0.5h2m-1.5 0.5v4m-17.5 0.5h2m14 0h2m-17 1h2m12 0h2m-15 1h2m10 0h2m-13 1h2m8 0h2m-11 1h10"/>
<path stroke="#009e73" d="m279.5 160v1m-5.5 0.5h10m-11 1h2m8 0h2m-13 1h2m10 0h2m-15 1h2m12 0h2m-17 1h2m14 0h2m-17.5 0.5v8m17-8v3m-0.5 0.5h2m-1.5 0.5v4m-17.5 0.5h2m14 0h2m-17 1h2m12 0h2m-15 1h2m10 0h2m-13 1h2m8 0h2m-11 1h10"/>
<path stroke="#009e73" d="m368.5 367v1m-5.5 0.5h10m-11 1h2m8 0h2m-13 1h2m10 0h2m-15 1h2m12 0h2m-17 1h2m14 0h2m-17.5 0.5v8m17-8v3m-0.5 0.5h2m-1.5 0.5v4m-17.5 0.5h2m14 0h2m-17 1h2m12 0h2m-15 1h2m10 0h2m-13 1h2m8 0h2m-11 1h10"/>
<path stroke="#009e73" d="m291.5 527v1m-5.5 0.5h10m-11 1h2m8 0h2m-13 1h2m10 0h2m-15 1h2m12 0h2m-17 1h2m14 0h2m-17.5 0.5v8m17-8v3m-0.5 0.5h2m-1.5 0.5v4m-17.5 0.5h2m14 0h2m-17 1h2m12 0h2m-15 1h2m10 0h2m-13 1h2m8 0h2m-11 1h10"/>
<path stroke="#009e73" d="m678.5 427v1m-5.5 0.5h10m-11 1h2m8 0h2m-13 1h2m10 0h2m-15 1h2m12 0h2m-17 1h2m14 0h2m-17.5 0.5v8m17-8v3m-0.5 0.5h2m-1.5 0.5v4m-17.5 0.5h2m14 0h2m-17 1h2m12 0h2m-15 1h2m10 0h2m-13 1h2m8 0h2m-11 1h10"/>
<path stroke="#009e73" d="m813.5 696v1m-5.5 0.5h10m-11 1h2m8 0h2m-13 1h2m10 0h2m-15 1h2m12 0h2m-17 1h2m14 0h2m-17.5 0.5v8m17-8v3m-0.5 0.5h2m-1.5 0.5v4m-17.5 0.5h2m14 0h2m-17 1h2m12 0h2m-15 1h2m10 0h2m-13 1h2m8 0h2m-11 1h10"/>
<path stroke="#56b4e9" d="m636.5 740v1m-5.5 0.5h10m-11 1h2m8 0h2m-13 1h2m10 0h2m-15 1h2m12 0h2m-17 1h2m14 0h2m-17.5 0.5v8m17-8v3m-0.5 0.5h2m-1.5 0.5v4m-17.5 0.5h2m14 0h2m-17 1h2m12 0h2m-15 1h2m10 0h2m-13 1h2m8 0h2m-11 1h10"/>
<path stroke="#009e73" d="m769.5 743v1m-5.5 0.5h10m-11 1h2m8 0h2m-13 1h2m10 0h2m-15 1h2m12 0h2m-17 1h2m14 0h2m-17.5 0.5v8m17-8v3m-0.5 0.5h2m-1.5 0.5v4m-17.5 0.5h2m14 0h2m-17 1h2m12 0h2m-15 1h2m10 0h2m-13 1h2m8 0h2m-11 1h10"/>
<path stroke="#009e73" d="m327.5 201v1m-5.5 0.5h10m-11 1h2m8 0h2m-13 1h2m10 0h2m-15 1h2m12 0h2m-17 1h2m14 0h2m-17.5 0.5v8m17-8v3m-0.5 0.5h2m-1.5 0.5v4m-17.5 0.5h2m14 0h2m-17 1h2m12 0h2m-15 1h2m10 0h2m-13 1h2m8 0h2m-11 1h10"/>
<path stroke="#009e73" d="m507.5 205v1m-5.5 0.5h10m-11 1h2m8 0h2m-13 1h2m10 0h2m-15 1h2m12 0h2m-17 1h2m14 0h2m-17.5 0.5v8m17-8v3m-0.5 0.5h2m-1.5 0.5v4m-17.5 0.5h2m14 0h2m-17 1h2m12 0h2m-15 1h2m10 0h2m-13 1h2m8 0h2m-11 1h10"/>
<path stroke="#9400d3" d="m349.5 365v1m-5.5 0.5h10m-11 1h2m8 0h2m-13 1h2m10 0h2m-15 1h2m12 0h2m-17 1h2m14 0h2m-17.5 0.5v8m17-8v3m-0.5 0.5h2m-1.5 0.5v4m-17.5 0.5h2m14 0h2m-17 1h2m12 0h2m-15 1h2m10 0h2m-13 1h2m8 0h2m-11 1h10"/>
<path stroke="#009e73" d="m270.5 403v1m-5.5 0.5h10m-11 1h2m8 0h2m-13 1h2m10 0h2m-15 1h2m12 0h2m-17 1h2m14 0h2m-17.5 0.5v8m17-8v3m-0.5 0.5h2m-1.5 0.5v4m-17.5 0.5h2m14 0h2m-17 1h2m12 0h2m-15 1h2m10 0h2m-13 1h2m8 0h2m-11 1h10"/>
<path stroke="#56b4e9" d="m435.5 431v1m-5.5 0.5h10m-11 1h2m8 0h2m-13 1h2m10 0h2m-15 1h2m12 0h2m-17 1h2m14 0h2m-17.5 0.5v8m17-8v3m-0.5 0.5h2m-1.5 0.5v4m-17.5 0.5h2m14 0h2m-17 1h2m12 0h2m-15 1h2m10 0h2m-13 1h2m8 0h2m-11 1h10"/>
<path stroke="#009e73" d="m922.5 673v1m-5.5 0.5h10m-11 1h2m8 0h2m-13 1h2m10 0h2m-15 1h2m12 0h2m-17 1h2m14 0h2m-17.5 0.5v8m17-8v8m-17.5 0.5h2m14 0h2m-17 1h2m12 0h2m-15 1h2m10 0h2m-13 1h2m8 0h2m-11 1h10"/>
<path stroke="#009e73" d="m649.5 727v1m-5.5 0.5h10m-11 1h2m8 0h2m-13 1h2m10 0h2m-15 1h2m12 0h2m-17 1h2m14 0h2m-17.5 0.5v8m17-8v3m-0.5 0.5h2m-1.5 0.5v4m-17.5 0.5h2m14 0h2m-17 1h2m12 0h2m-15 1h2m10 0h2m-13 1h2m8 0h2m-11 1h10"/>
<path stroke="#9400d3" d="m248 52.5h10m-11 1h2m8 0h2m-13 1h2m10 0h2m-15 1h2m12 0h2m-17 1h2m14 0h2m-17.5 0.5v8m17-8v3m-0.5 0.5h2m-1.5 0.5v4m-17.5 0.5h2m14 0h2m-17 1h2m12 0h2m-15 1h2m10 0h2m-13 1h2m8 0h2m-11 1h10"/>
<path stroke="#009e73" d="m126.5 176v1m-5.5 0.5h10m-11 1h2m8 0h2m-13 1h2m10 0h2m-15 1h2m12 0h2m-15.5 0.5v1m14.5-0.5h2m-0.5 0.5v3m-0.5 0.5h2m-1.5 0.5v4m-16 0v1m14.5-0.5h2m-17 1h2m12 0h2m-15 1h2m10 0h2m-13 1h2m8 0h2m-11 1h10"/>
<path stroke="#009e73" d="m576 52.5h10m-11 1h2m8 0h2m-13 1h2m10 0h2m-15 1h2m12 0h2m-17 1h2m14 0h2m-17.5 0.5v8m17-8v3m-0.5 0.5h2m-1.5 0.5v4m-17.5 0.5h2m14 0h2m-17 1h2m12 0h2m-15 1h2m10 0h2m-13 1h2m8 0h2m-11 1h10"/>
<path stroke="#009e73" d="m736 52.5h10m-11 1h2m8 0h2m-13 1h2m10 0h2m-15 1h2m12 0h2m-17 1h2m14 0h2m-17.5 0.5v8m17-8v3m-0.5 0.5h2m-1.5 0.5v4m-17.5 0.5h2m14 0h2m-17 1h2m12 0h2m-15 1h2m10 0h2m-13 1h2m8 0h2m-11 1h10"/>
<path stroke="#009e73" d="m790 52.5h10m-11 1h2m8 0h2m-13 1h2m10 0h2m-15 1h2m12 0h2m-17 1h2m14 0h2m-17.5 0.5v8m17-8v3m-0.5 0.5h2m-1.5 0.5v4m-17.5 0.5h2m14 0h2m-17 1h2m12 0h2m-15 1h2m10 0h2m-13 1h2m8 0h2m-11 1h10"/>
<path stroke="#009e73" d="m233.5 205v1m-4.5 0.5h8m-10 1h3m7 0h2m-13 1h2m10 0h2m-13.5 0.5v1m13-1v1m-14 0v7m15-7v3m-0.5 0.5h2m-1.5 0.5v3m-15.5 0.5h2m12 0h2m-14.5 0.5v1m13-1v1m-13.5 0.5h2m10 0h2m-13 1h3m7 0h2m-10 1h8"/>
<path stroke="#000000" d="m568.5 329v1m-4.5 0.5h8m-10 1h3m7 0h2m-13 1h2m10 0h2m-13.5 0.5v1m13-1v1m-14 0v7m15-7v3m-0.5 0.5h2m-1.5 0.5v3m-15.5 0.5h2m12 0h2m-14.5 0.5v1m13-1v1m-13.5 0.5h2m10 0h2m-13 1h3m7 0h2m-10 1h8"/>
<path stroke="#9400d3" d="m489.5 432v1m-4.5 0.5h8m-10 1h3m7 0h2m-13 1h2m10 0h2m-13.5 0.5v1m13-1v1m-14 0v7m15-7v3m-0.5 0.5h2m-1.5 0.5v3m-15.5 0.5h2m12 0h2m-14.5 0.5v1m13-1v1m-13.5 0.5h2m10 0h2m-13 1h3m7 0h2m-10 1h8"/>
<path stroke="#000000" d="m541.5 435v1m-4.5 0.5h8m-10 1h3m7 0h2m-13 1h2m10 0h2m-13.5 0.5v1m13-1v1m-14 0v7m15-7v3m-0.5 0.5h2m-1.5 0.5v3m-15.5 0.5h2m12 0h2m-14.5 0.5v1m13-1v1m-13.5 0.5h2m10 0h2m-13 1h3m7 0h2m-10 1h8"/>
<path stroke="#009e73" d="m155.5 700v1m-4.5 0.5h8m-10 1h3m7 0h2m-13 1h2m10 0h2m-13.5 0.5v1m13-1v1m-14 0v7m15-7v3m-0.5 0.5h2m-1.5 0.5v3m-15.5 0.5h2m12 0h2m-14.5 0.5v1m13-1v1m-13.5 0.5h2m10 0h2m-13 1h3m7 0h2m-10 1h8"/>
<path stroke="#9400d3" d="m441.5 118v1m-4.5 0.5h8m-10 1h3m7 0h2m-13 1h2m10 0h2m-13.5 0.5v1m13-1v1m-14 0v7m15-7v3m-0.5 0.5h2m-1.5 0.5v3m-15.5 0.5h2m12 0h2m-14.5 0.5v1m13-1v1m-13.5 0.5h2m10 0h2m-13 1h3m7 0h2m-10 1h8"/>
<path stroke="#9400d3" d="m449.5 330v1m-4.5 0.5h8m-10 1h3m7 0h2m-13 1h2m10 0h2m-13.5 0.5v1m13-1v1m-14 0v7m15-7v3m-0.5 0.5h2m-1.5 0.5v3m-15.5 0.5h2m12 0h2m-14.5 0.5v1m13-1v1m-13.5 0.5h2m10 0h2m-13 1h3m7 0h2m-10 1h8"/>
<path stroke="#9400d3" d="m613.5 482v1m-4.5 0.5h8m-10 1h3m7 0h2m-13 1h2m10 0h2m-13.5 0.5v1m13-1v1m-14 0v7m15-7v3m-0.5 0.5h2m-1.5 0.5v3m-15.5 0.5h2m12 0h2m-14.5 0.5v1m13-1v1m-13.5 0.5h2m10 0h2m-13 1h3m7 0h2m-10 1h8"/>
<path stroke="#9400d3" d="m276.5 630v1m-4.5 0.5h8m-10 1h3m7 0h2m-13 1h2m10 0h2m-13.5 0.5v1m13-1v1m-14 0v7m15-7v3m-0.5 0.5h2m-1.5 0.5v3m-15.5 0.5h2m12 0h2m-14.5 0.5v1m13-1v1m-13.5 0.5h2m10 0h2m-13 1h3m7 0h2m-10 1h8"/>
<path stroke="#9400d3" d="m402.5 192v1m-4.5 0.5h8m-10 1h3m7 0h2m-13 1h2m10 0h2m-13.5 0.5v1m13-1v1m-14 0v7m15-7v3m-0.5 0.5h2m-1.5 0.5v3m-15.5 0.5h2m12 0h2m-14.5 0.5v1m13-1v1m-13.5 0.5h2m10 0h2m-13 1h3m7 0h2m-10 1h8"/>
<path stroke="#9400d3" d="m480.5 193v1m-4.5 0.5h8m-10 1h3m7 0h2m-13 1h2m10 0h2m-13.5 0.5v1m13-1v1m-14 0v7m15-7v3m-0.5 0.5h2m-1.5 0.5v3m-15.5 0.5h2m12 0h2m-14.5 0.5v1m13-1v1m-13.5 0.5h2m10 0h2m-13 1h3m7 0h2m-10 1h8"/>
<path stroke="#000000" d="m465.5 267v1m-4.5 0.5h8m-10 1h3m7 0h2m-13 1h2m10 0h2m-13.5 0.5v1m13-1v1m-14 0v7m15-7v3m-0.5 0.5h2m-1.5 0.5v3m-15.5 0.5h2m12 0h2m-14.5 0.5v1m13-1v1m-13.5 0.5h2m10 0h2m-13 1h3m7 0h2m-10 1h8"/>
<path stroke="#000000" d="m678.5 357v1m-4.5 0.5h8m-10 1h3m7 0h2m-13 1h2m10 0h2m-13.5 0.5v1m13-1v1m-14 0v7m15-7v3m-0.5 0.5h2m-1.5 0.5v3m-15.5 0.5h2m12 0h2m-14.5 0.5v1m13-1v1m-13.5 0.5h2m10 0h2m-13 1h3m7 0h2m-10 1h8"/>
<path stroke="#9400d3" d="m923.5 420v1m-4.5 0.5h8m-10 1h3m7 0h2m-13 1h2m10 0h2m-13.5 0.5v1m13-1v1m-14 0v7m15-7v7m-15.5 0.5h2m12 0h2m-14.5 0.5v1m13-1v1m-13.5 0.5h2m10 0h2m-13 1h3m7 0h2m-10 1h8"/>
<path stroke="#000000" d="m353.5 704v1m-4.5 0.5h8m-10 1h3m7 0h2m-13 1h2m10 0h2m-13.5 0.5v1m13-1v1m-14 0v7m15-7v3m-0.5 0.5h2m-1.5 0.5v3m-15.5 0.5h2m12 0h2m-14.5 0.5v1m13-1v1m-13.5 0.5h2m10 0h2m-13 1h3m7 0h2m-10 1h8"/>
<path stroke="#9400d3" d="m249.5 849v1m-4.5 0.5h8m-10 1h3m7 0h2m-13 1h2m10 0h2m-13.5 0.5v1m13-1v1m-14 0v7m15-7v3m-0.5 0.5h2m-1.5 0.5v3m-15.5 0.5h2m12 0h2m-14.5 0.5v1m13-1v1m-13.5 0.5h2m10 0h2m-13 1h3m7 0h2"/>
<path stroke="#9400d3" d="m299.5 849v1m-4.5 0.5h8m-10 1h3m7 0h2m-13 1h2m10 0h2m-13.5 0.5v1m13-1v1m-14 0v7m15-7v3m-0.5 0.5h2m-1.5 0.5v3m-15.5 0.5h2m12 0h2m-14.5 0.5v1m13-1v1m-13.5 0.5h2m10 0h2m-13 1h3m7 0h2"/>
<path stroke="#9400d3" d="m397.5 849v1m-4.5 0.5h8m-10 1h3m7 0h2m-13 1h2m10 0h2m-13.5 0.5v1m13-1v1m-14 0v7m15-7v3m-0.5 0.5h2m-1.5 0.5v3m-15.5 0.5h2m12 0h2m-14.5 0.5v1m13-1v1m-13.5 0.5h2m10 0h2m-13 1h3m7 0h2"/>
<path stroke="#9400d3" d="m800.5 849v1m-4.5 0.5h8m-10 1h3m7 0h2m-13 1h2m10 0h2m-13.5 0.5v1m13-1v1m-14 0v7m15-7v3m-0.5 0.5h2m-1.5 0.5v3m-15.5 0.5h2m12 0h2m-14.5 0.5v1m13-1v1m-13.5 0.5h2m10 0h2m-13 1h3m7 0h2"/>
<path stroke="#9400d3" d="m923.5 725v1m-4.5 0.5h8m-10 1h3m7 0h2m-13 1h2m10 0h2m-13.5 0.5v1m13-1v1m-14 0v7m15-7v7m-15.5 0.5h2m12 0h2m-14.5 0.5v1m13-1v1m-13.5 0.5h2m10 0h2m-13 1h3m7 0h2m-10 1h8"/>
<path stroke="#9400d3" d="m627.5 191v1m-4.5 0.5h8m-10 1h3m7 0h2m-13 1h2m10 0h2m-13.5 0.5v1m13-1v1m-14 0v7m15-7v3m-0.5 0.5h2m-1.5 0.5v3m-15.5 0.5h2m12 0h2m-14.5 0.5v1m13-1v1m-13.5 0.5h2m10 0h2m-13 1h3m7 0h2m-10 1h8"/>
<path stroke="#9400d3" d="m125.5 229v1m-4.5 0.5h8m-10 1h3m7 0h2m-13 1h2m10 0h2m-13.5 0.5v1m13-1v1m1 0v3m-0.5 0.5h2m-1.5 0.5v3m-14 0v2m12.5-1.5h2m-1.5 0.5v1m-13.5 0.5h2m10 0h2m-13 1h3m7 0h2m-10 1h8"/>
<path stroke="#9400d3" d="m230.5 355v1m-4.5 0.5h8m-10 1h3m7 0h2m-13 1h2m10 0h2m-13.5 0.5v1m13-1v1m-14 0v7m15-7v3m-0.5 0.5h2m-1.5 0.5v3m-15.5 0.5h2m12 0h2m-14.5 0.5v1m13-1v1m-13.5 0.5h2m10 0h2m-13 1h3m7 0h2m-10 1h8"/>
<path stroke="#000000" d="m924.5 372v1m-4.5 0.5h8m-10 1h3m7 0h2m-13 1h2m10 0h2m-13.5 0.5v1m13-1v1m-14 0v7m14 0v2m-14.5-1.5h2m-0.5 0.5v1m-0.5 0.5h2m10 0h2m-13 1h3m7 0h2m-10 1h8"/>
<path stroke="#9400d3" d="m751.5 849v1m-4.5 0.5h8m-10 1h3m7 0h2m-13 1h2m10 0h2m-13.5 0.5v1m13-1v1m-14 0v7m15-7v3m-0.5 0.5h2m-1.5 0.5v3m-15.5 0.5h2m12 0h2m-14.5 0.5v1m13-1v1m-13.5 0.5h2m10 0h2m-13 1h3m7 0h2"/>
<path stroke="#9400d3" d="m301 52.5h8m-10 1h3m7 0h2m-13 1h2m10 0h2m-13.5 0.5v1m13-1v1m-14 0v7m15-7v3m-0.5 0.5h2m-1.5 0.5v3m-15.5 0.5h2m12 0h2m-14.5 0.5v1m13-1v1m-13.5 0.5h2m10 0h2m-13 1h3m7 0h2m-10 1h8"/>
<path stroke="#9400d3" d="m631 52.5h8m-10 1h3m7 0h2m-13 1h2m10 0h2m-13.5 0.5v1m13-1v1m-14 0v7m15-7v3m-0.5 0.5h2m-1.5 0.5v3m-15.5 0.5h2m12 0h2m-14.5 0.5v1m13-1v1m-13.5 0.5h2m10 0h2m-13 1h3m7 0h2m-10 1h8"/>
<path stroke="#000000" d="m924.5 174v1m-4.5 0.5h8m-10 1h3m7 0h2m-13 1h2m10 0h2m-13.5 0.5v1m13-1v1m-14 0v7m14 0v2m-14.5-1.5h2m-0.5 0.5v1m-0.5 0.5h2m10 0h2m-13 1h3m7 0h2m-10 1h8"/>
<path stroke="#e51e10" d="m278.5 90v1m-4.5 0.5h8m-9 1h2m6 0h2m-11 1h2m8 0h2m-13 1h2m10 0h2m-13.5 0.5v6m13-6v2m-0.5 0.5h2m-1.5 0.5v3m-13.5 0.5h2m10 0h2m-13 1h2m8 0h2m-11 1h2m6 0h2m-9 1h8"/>
<path stroke="#e51e10" d="m890.5 398v1m-4.5 0.5h8m-9 1h2m6 0h2m-11 1h2m8 0h2m-13 1h2m10 0h2m-13.5 0.5v6m13-6v2m-0.5 0.5h2m-1.5 0.5v3m-13.5 0.5h2m10 0h2m-13 1h2m8 0h2m-11 1h2m6 0h2m-9 1h8"/>
<path stroke="#e51e10" d="m359.5 555v1m-4.5 0.5h8m-9 1h2m6 0h2m-11 1h2m8 0h2m-13 1h2m10 0h2m-13.5 0.5v6m13-6v2m-0.5 0.5h2m-1.5 0.5v3m-13.5 0.5h2m10 0h2m-13 1h2m8 0h2m-11 1h2m6 0h2m-9 1h8"/>
<path stroke="#000000" d="m582.5 578v1m-4.5 0.5h8m-9 1h2m6 0h2m-11 1h2m8 0h2m-13 1h2m10 0h2m-13.5 0.5v6m13-6v2m-0.5 0.5h2m-1.5 0.5v3m-13.5 0.5h2m10 0h2m-13 1h2m8 0h2m-11 1h2m6 0h2m-9 1h8"/>
<path stroke="#000000" d="m683.5 711v1m-4.5 0.5h8m-9 1h2m6 0h2m-11 1h2m8 0h2m-13 1h2m10 0h2m-13.5 0.5v6m13-6v2m-0.5 0.5h2m-1.5 0.5v3m-13.5 0.5h2m10 0h2m-13 1h2m8 0h2m-11 1h2m6 0h2m-9 1h8"/>
<path stroke="#e51e10" d="m163.5 204v1m-4.5 0.5h8m-9 1h2m6 0h2m-11 1h2m8 0h2m-13 1h2m10 0h2m-13.5 0.5v6m13-6v2m-0.5 0.5h2m-1.5 0.5v3m-13.5 0.5h2m10 0h2m-13 1h2m8 0h2m-11 1h2m6 0h2m-9 1h8"/>
<path stroke="#e51e10" d="m607.5 90v1m-4.5 0.5h8m-9 1h2m6 0h2m-11 1h2m8 0h2m-13 1h2m10 0h2m-13.5 0.5v6m13-6v2m-0.5 0.5h2m-1.5 0.5v3m-13.5 0.5h2m10 0h2m-13 1h2m8 0h2m-11 1h2m6 0h2m-9 1h8"/>
<path stroke="#e51e10" d="m768.5 91v1m-4.5 0.5h8m-9 1h2m6 0h2m-11 1h2m8 0h2m-13 1h2m10 0h2m-13.5 0.5v6m13-6v2m-0.5 0.5h2m-1.5 0.5v3m-13.5 0.5h2m10 0h2m-13 1h2m8 0h2m-11 1h2m6 0h2m-9 1h8"/>
<path stroke="#e51e10" d="m490.5 370v1m-4.5 0.5h8m-9 1h2m6 0h2m-11 1h2m8 0h2m-13 1h2m10 0h2m-13.5 0.5v6m13-6v2m-0.5 0.5h2m-1.5 0.5v3m-13.5 0.5h2m10 0h2m-13 1h2m8 0h2m-11 1h2m6 0h2m-9 1h8"/>
<path stroke="#e51e10" d="m726.5 282v1m-4.5 0.5h8m-9 1h2m6 0h2m-11 1h2m8 0h2m-13 1h2m10 0h2m-13.5 0.5v6m13-6v2m-0.5 0.5h2m-1.5 0.5v3m-13.5 0.5h2m10 0h2m-13 1h2m8 0h2m-11 1h2m6 0h2m-9 1h8"/>
<path stroke="#000000" d="m690.5 350v1m-4.5 0.5h8m-9 1h2m6 0h2m-11 1h2m8 0h2m-13 1h2m10 0h2m-13.5 0.5v6m13-6v2m-0.5 0.5h2m-1.5 0.5v3m-13.5 0.5h2m10 0h2m-13 1h2m8 0h2m-11 1h2m6 0h2m-9 1h8"/>
<path stroke="#000000" d="m829.5 253v1m-4.5 0.5h8m-9 1h2m6 0h2m-11 1h2m8 0h2m-13 1h2m10 0h2m-13.5 0.5v6m13-6v2m-0.5 0.5h2m-1.5 0.5v3m-13.5 0.5h2m10 0h2m-13 1h2m8 0h2m-11 1h2m6 0h2m-9 1h8"/>
<path stroke="#e51e10" d="m454.5 458v1m-4.5 0.5h8m-9 1h2m6 0h2m-11 1h2m8 0h2m-13 1h2m10 0h2m-13.5 0.5v6m13-6v2m-0.5 0.5h2m-1.5 0.5v3m-13.5 0.5h2m10 0h2m-13 1h2m8 0h2m-11 1h2m6 0h2m-9 1h8"/>
<path stroke="#000000" d="m598.5 492v1m-4.5 0.5h8m-9 1h2m6 0h2m-11 1h2m8 0h2m-13 1h2m10 0h2m-13.5 0.5v6m13-6v2m-0.5 0.5h2m-1.5 0.5v3m-13.5 0.5h2m10 0h2m-13 1h2m8 0h2m-11 1h2m6 0h2m-9 1h8"/>
<path stroke="#000000" d="m438.5 564v1m-4.5 0.5h8m-9 1h2m6 0h2m-11 1h2m8 0h2m-13 1h2m10 0h2m-13.5 0.5v6m13-6v2m-0.5 0.5h2m-1.5 0.5v3m-13.5 0.5h2m10 0h2m-13 1h2m8 0h2m-11 1h2m6 0h2m-9 1h8"/>
<path stroke="#e51e10" d="m774.5 816v1m-4.5 0.5h8m-9 1h2m6 0h2m-11 1h2m8 0h2m-13 1h2m10 0h2m-13.5 0.5v6m13-6v2m-0.5 0.5h2m-1.5 0.5v3m-13.5 0.5h2m10 0h2m-13 1h2m8 0h2m-11 1h2m6 0h2m-9 1h8"/>
<path stroke="#e51e10" d="m868.5 250v1m-4.5 0.5h8m-9 1h2m6 0h2m-11 1h2m8 0h2m-13 1h2m10 0h2m-13.5 0.5v6m13-6v2m-0.5 0.5h2m-1.5 0.5v3m-13.5 0.5h2m10 0h2m-13 1h2m8 0h2m-11 1h2m6 0h2m-9 1h8"/>
<path stroke="#000000" d="m445.5 851v1m-4.5 0.5h8m-9 1h2m6 0h2m-11 1h2m8 0h2m-13 1h2m10 0h2m-13.5 0.5v6m13-6v2m-0.5 0.5h2m-1.5 0.5v3m-13.5 0.5h2m10 0h2m-13 1h2m8 0h2m-11 1h2m6 0h2"/>
<path stroke="#e51e10" d="m900.5 851v1m-4.5 0.5h8m-9 1h2m6 0h2m-11 1h2m8 0h2m-13 1h2m10 0h2m-13.5 0.5v6m13-6v2m-0.5 0.5h2m-1.5 0.5v3m-13.5 0.5h2m10 0h2m-13 1h2m8 0h2m-11 1h2m6 0h2"/>
<path stroke="#000000" d="m870.5 211v1m-4.5 0.5h8m-9 1h2m6 0h2m-11 1h2m8 0h2m-13 1h2m10 0h2m-13.5 0.5v6m13-6v2m-0.5 0.5h2m-1.5 0.5v3m-13.5 0.5h2m10 0h2m-13 1h2m8 0h2m-11 1h2m6 0h2m-9 1h8"/>
<path stroke="#000000" d="m158.5 356v1m-4.5 0.5h8m-9 1h2m6 0h2m-11 1h2m8 0h2m-13 1h2m10 0h2m-13.5 0.5v6m13-6v2m-0.5 0.5h2m-1.5 0.5v3m-13.5 0.5h2m10 0h2m-13 1h2m8 0h2m-11 1h2m6 0h2m-9 1h8"/>
<path stroke="#e51e10" d="m289.5 281v1m-4.5 0.5h8m-9 1h2m6 0h2m-11 1h2m8 0h2m-13 1h2m10 0h2m-13.5 0.5v6m13-6v2m-0.5 0.5h2m-1.5 0.5v3m-13.5 0.5h2m10 0h2m-13 1h2m8 0h2m-11 1h2m6 0h2m-9 1h8"/>
<path stroke="#000000" d="m442.5 448v1m-4.5 0.5h8m-9 1h2m6 0h2m-11 1h2m8 0h2m-13 1h2m10 0h2m-13.5 0.5v6m13-6v2m-0.5 0.5h2m-1.5 0.5v3m-13.5 0.5h2m10 0h2m-13 1h2m8 0h2m-11 1h2m6 0h2m-9 1h8"/>
<path stroke="#000000" d="m124.5 578v1m-4.5 0.5h8m-9 1h2m6 0h2m-11 1h2m8 0h2m-11.5 0.5v1m10.5-0.5h2m-0.5 0.5v2m-0.5 0.5h2m-1.5 0.5v3m-12 0v1m10.5-0.5h2m-13 1h2m8 0h2m-11 1h2m6 0h2m-9 1h8"/>
<path stroke="#e51e10" d="m151.5 851v1m-4.5 0.5h8m-9 1h2m6 0h2m-11 1h2m8 0h2m-13 1h2m10 0h2m-13.5 0.5v6m13-6v2m-0.5 0.5h2m-1.5 0.5v3m-13.5 0.5h2m10 0h2m-13 1h2m8 0h2m-11 1h2m6 0h2"/>
<path stroke="#000000" d="m145 52.5h8m-9 1h2m6 0h2m-11 1h2m8 0h2m-13 1h2m10 0h2m-13.5 0.5v6m13-6v2m-0.5 0.5h2m-1.5 0.5v3m-13.5 0.5h2m10 0h2m-13 1h2m8 0h2m-11 1h2m6 0h2m-9 1h8"/>
<path stroke="#000000" d="m124.5 329v1m-4.5 0.5h8m-9 1h2m6 0h2m-11 1h2m8 0h2m-11.5 0.5v1m10.5-0.5h2m-0.5 0.5v2m-0.5 0.5h2m-1.5 0.5v3m-12 0v1m10.5-0.5h2m-13 1h2m8 0h2m-11 1h2m6 0h2m-9 1h8"/>
<path stroke="#e51e10" d="m276.5 281v1m-4.5 0.5h8m-9 1h2m6 0h2m-11 1h2m8 0h2m-13 1h2m10 0h2m-13.5 0.5v6m13-6v2m-0.5 0.5h2m-1.5 0.5v3m-13.5 0.5h2m10 0h2m-13 1h2m8 0h2m-11 1h2m6 0h2m-9 1h8"/>
<path stroke="#000000" d="m124.5 76v1m-4.5 0.5h8m-9 1h2m6 0h2m-11 1h2m8 0h2m-11.5 0.5v1m10.5-0.5h2m-0.5 0.5v2m-0.5 0.5h2m-1.5 0.5v3m-12 0v1m10.5-0.5h2m-13 1h2m8 0h2m-11 1h2m6 0h2m-9 1h8"/>
<path stroke="#000000" d="m124.5 731v1m-4.5 0.5h8m-9 1h2m6 0h2m-11 1h2m8 0h2m-11.5 0.5v1m10.5-0.5h2m-0.5 0.5v2m-0.5 0.5h2m-1.5 0.5v3m-12 0v1m10.5-0.5h2m-13 1h2m8 0h2m-11 1h2m6 0h2m-9 1h8"/>
<path stroke="#e51e10" d="m124.5 824v1m-4.5 0.5h8m-9 1h2m6 0h2m-11 1h2m8 0h2m-11.5 0.5v1m10.5-0.5h2m-0.5 0.5v2m-0.5 0.5h2m-1.5 0.5v3m-12 0v1m10.5-0.5h2m-13 1h2m8 0h2m-11 1h2m6 0h2m-9 1h8"/>
<path stroke="#0072b2" d="m508.5 252v1m-4.5 0.5h8m-9 1h2m6 0h2m-11 1h2m8 0h2m-11.5 0.5v6m11-6v2m-0.5 0.5h2m-1.5 0.5v3m-11.5 0.5h2m8 0h2m-11 1h2m6 0h2m-9 1h8"/>
<path stroke="#e51e10" d="m278.5 539v1m-4.5 0.5h8m-9 1h2m6 0h2m-11 1h2m8 0h2m-11.5 0.5v6m11-6v2m-0.5 0.5h2m-1.5 0.5v3m-11.5 0.5h2m8 0h2m-11 1h2m6 0h2m-9 1h8"/>
<path stroke="#0072b2" d="m906.5 539v1m-4.5 0.5h8m-9 1h2m6 0h2m-11 1h2m8 0h2m-11.5 0.5v6m11-6v2m-0.5 0.5h2m-1.5 0.5v3m-11.5 0.5h2m8 0h2m-11 1h2m6 0h2m-9 1h8"/>
<path stroke="#0072b2" d="m224.5 700v1m-4.5 0.5h8m-9 1h2m6 0h2m-11 1h2m8 0h2m-11.5 0.5v6m11-6v2m-0.5 0.5h2m-1.5 0.5v3m-11.5 0.5h2m8 0h2m-11 1h2m6 0h2m-9 1h8"/>
<path stroke="#e51e10" d="m772.5 613v1m-4.5 0.5h8m-9 1h2m6 0h2m-11 1h2m8 0h2m-11.5 0.5v6m11-6v2m-0.5 0.5h2m-1.5 0.5v3m-11.5 0.5h2m8 0h2m-11 1h2m6 0h2m-9 1h8"/>
<path stroke="#e51e10" d="m924.5 578v1m-4.5 0.5h8m-9 1h2m6 0h2m-11 1h2m8 0h2m-11.5 0.5v6m11-6v2m-0.5 0.5h2m-1.5 0.5v3m-11.5 0.5h2m8 0h2m-11 1h2m6 0h2m-9 1h8"/>
<path stroke="#e51e10" d="m887.5 701v1m-4.5 0.5h8m-9 1h2m6 0h2m-11 1h2m8 0h2m-11.5 0.5v6m11-6v2m-0.5 0.5h2m-1.5 0.5v3m-11.5 0.5h2m8 0h2m-11 1h2m6 0h2m-9 1h8"/>
<path stroke="#0072b2" d="m274.5 813v1m-4.5 0.5h8m-9 1h2m6 0h2m-11 1h2m8 0h2m-11.5 0.5v6m11-6v2m-0.5 0.5h2m-1.5 0.5v3m-11.5 0.5h2m8 0h2m-11 1h2m6 0h2m-9 1h8"/>
<path stroke="#e51e10" d="m533.5 852v1m-4.5 0.5h8m-9 1h2m6 0h2m-11 1h2m8 0h2m-11.5 0.5v6m11-6v2m-0.5 0.5h2m-1.5 0.5v3m-11.5 0.5h2m8 0h2m-11 1h2m6 0h2m-9 1h8"/>
<path stroke="#e51e10" d="m659.5 852v1m-4.5 0.5h8m-9 1h2m6 0h2m-11 1h2m8 0h2m-11.5 0.5v6m11-6v2m-0.5 0.5h2m-1.5 0.5v3m-11.5 0.5h2m8 0h2m-11 1h2m6 0h2m-9 1h8"/>
<path stroke="#e51e10" d="m924.5 825v1m-4.5 0.5h8m-9 1h2m6 0h2m-11 1h2m8 0h2m-11.5 0.5v6m11-6v2m-0.5 0.5h2m-1.5 0.5v3m-11.5 0.5h2m8 0h2m-11 1h2m6 0h2m-9 1h8"/>
<path stroke="#e51e10" d="m898.5 52v1m-4.5 0.5h8m-9 1h2m6 0h2m-11 1h2m8 0h2m-11.5 0.5v6m11-6v2m-0.5 0.5h2m-1.5 0.5v3m-11.5 0.5h2m8 0h2m-11 1h2m6 0h2m-9 1h8"/>
<path stroke="#e51e10" d="m924.5 78v1m-4.5 0.5h8m-9 1h2m6 0h2m-11 1h2m8 0h2m-11.5 0.5v6m11-6v2m-0.5 0.5h2m-1.5 0.5v3m-11.5 0.5h2m8 0h2m-11 1h2m6 0h2m-9 1h8"/>
<path stroke="#0072b2" d="m444.5 225v1m-4.5 0.5h8m-9 1h2m6 0h2m-11 1h2m8 0h2m-11.5 0.5v6m11-6v2m-0.5 0.5h2m-1.5 0.5v3m-11.5 0.5h2m8 0h2m-11 1h2m6 0h2m-9 1h8"/>
<path stroke="#0072b2" d="m537.5 366v1m-4.5 0.5h8m-9 1h2m6 0h2m-11 1h2m8 0h2m-11.5 0.5v6m11-6v2m-0.5 0.5h2m-1.5 0.5v3m-11.5 0.5h2m8 0h2m-11 1h2m6 0h2m-9 1h8"/>
<path stroke="#e51e10" d="m700.5 342v1m-4.5 0.5h8m-9 1h2m6 0h2m-11 1h2m8 0h2m-11.5 0.5v6m11-6v2m-0.5 0.5h2m-1.5 0.5v3m-11.5 0.5h2m8 0h2m-11 1h2m6 0h2m-9 1h8"/>
<path stroke="#0072b2" d="m900.5 200v1m-4.5 0.5h8m-9 1h2m6 0h2m-11 1h2m8 0h2m-11.5 0.5v6m11-6v2m-0.5 0.5h2m-1.5 0.5v3m-11.5 0.5h2m8 0h2m-11 1h2m6 0h2m-9 1h8"/>
<path stroke="#0072b2" d="m559.5 751v1m-4.5 0.5h8m-9 1h2m6 0h2m-11 1h2m8 0h2m-11.5 0.5v6m11-6v2m-0.5 0.5h2m-1.5 0.5v3m-11.5 0.5h2m8 0h2m-11 1h2m6 0h2m-9 1h8"/>
<path stroke="#e51e10" d="m493.5 201v1m-4.5 0.5h8m-9 1h2m6 0h2m-11 1h2m8 0h2m-11.5 0.5v6m11-6v2m-0.5 0.5h2m-1.5 0.5v3m-11.5 0.5h2m8 0h2m-11 1h2m6 0h2m-9 1h8"/>
<path stroke="#0072b2" d="m123.5 668v1m-4.5 0.5h8m-9 1h2m6 0h2m-9.5 0.5v1m8.5-0.5h2m-0.5 0.5v2m-0.5 0.5h2m-1.5 0.5v3m-10 0v1m8.5-0.5h2m-11 1h2m6 0h2m-9 1h8"/>
<path stroke="#0072b2" d="m720.5 714v1m-4.5 0.5h8m-9 1h2m6 0h2m-11 1h2m8 0h2m-11.5 0.5v6m11-6v2m-0.5 0.5h2m-1.5 0.5v3m-11.5 0.5h2m8 0h2m-11 1h2m6 0h2m-9 1h8"/>
<path stroke="#f0e442" d="m626.5 489v1m-3.5 0.5h6m-6.5 0.5v1m7-1v1m-8 0v6m9-6v2m-0.5 0.5h2m-1.5 0.5v3m-8 0v1m7-1v1m-6.5 0.5h6"/>
<path stroke="#0072b2" d="m419.5 818v1m-3.5 0.5h6m-6.5 0.5v1m7-1v1m-8 0v6m9-6v2m-0.5 0.5h2m-1.5 0.5v3m-8 0v1m7-1v1m-6.5 0.5h6"/>
<path stroke="#f0e442" d="m631.5 541v1m-3.5 0.5h6m-6.5 0.5v1m7-1v1m-8 0v6m9-6v2m-0.5 0.5h2m-1.5 0.5v3m-8 0v1m7-1v1m-6.5 0.5h6"/>
<path stroke="#f0e442" d="m276.5 757v1m-3.5 0.5h6m-6.5 0.5v1m7-1v1m-8 0v6m9-6v2m-0.5 0.5h2m-1.5 0.5v3m-8 0v1m7-1v1m-6.5 0.5h6"/>
<path stroke="#0072b2" d="m823.5 210v1m-3.5 0.5h6m-6.5 0.5v1m7-1v1m-8 0v6m9-6v2m-0.5 0.5h2m-1.5 0.5v3m-8 0v1m7-1v1m-6.5 0.5h6"/>
<path stroke="#0072b2" d="m297.5 321v1m-3.5 0.5h6m-6.5 0.5v1m7-1v1m-8 0v6m9-6v2m-0.5 0.5h2m-1.5 0.5v3m-8 0v1m7-1v1m-6.5 0.5h6"/>
<path stroke="#f0e442" d="m259.5 472v1m-3.5 0.5h6m-6.5 0.5v1m7-1v1m-8 0v6m9-6v2m-0.5 0.5h2m-1.5 0.5v3m-8 0v1m7-1v1m-6.5 0.5h6"/>
<path stroke="#0072b2" d="m356.5 545v1m-3.5 0.5h6m-6.5 0.5v1m7-1v1m-8 0v6m9-6v2m-0.5 0.5h2m-1.5 0.5v3m-8 0v1m7-1v1m-6.5 0.5h6"/>
<path stroke="#f0e442" d="m557.5 398v1m-3.5 0.5h6m-6.5 0.5v1m7-1v1m-8 0v6m9-6v2m-0.5 0.5h2m-1.5 0.5v3m-8 0v1m7-1v1m-6.5 0.5h6"/>
<path stroke="#f0e442" d="m926.5 436v1m-3.5 0.5h6m-6.5 0.5v1m7-1v1m-8 0v6m9-6v6m-8 0v1m7-1v1m-6.5 0.5h6"/>
<path stroke="#0072b2" d="m925.5 517v1m-3.5 0.5h6m-6.5 0.5v1m7-1v1m-8 0v6m9-6v2m-0.5 0.5h2m-1.5 0.5v3m-8 0v1m7-1v1m-6.5 0.5h6"/>
<path stroke="#f0e442" d="m828.5 547v1m-3.5 0.5h6m-6.5 0.5v1m7-1v1m-8 0v6m9-6v2m-0.5 0.5h2m-1.5 0.5v3m-8 0v1m7-1v1m-6.5 0.5h6"/>
<path stroke="#0072b2" d="m142.5 692v1m-3.5 0.5h6m-6.5 0.5v1m7-1v1m-8 0v6m9-6v2m-0.5 0.5h2m-1.5 0.5v3m-8 0v1m7-1v1m-6.5 0.5h6"/>
<path stroke="#e69f00" d="m169.5 703v1m-3.5 0.5h6m-6.5 0.5v1m7-1v1m-8 0v6m9-6v2m-0.5 0.5h2m-1.5 0.5v3m-8 0v1m7-1v1m-6.5 0.5h6"/>
<path stroke="#f0e442" d="m339.5 711v1m-3.5 0.5h6m-6.5 0.5v1m7-1v1m-8 0v6m9-6v2m-0.5 0.5h2m-1.5 0.5v3m-8 0v1m7-1v1m-6.5 0.5h6"/>
<path stroke="#f0e442" d="m523.5 607v1m-3.5 0.5h6m-6.5 0.5v1m7-1v1m-8 0v6m9-6v2m-0.5 0.5h2m-1.5 0.5v3m-8 0v1m7-1v1m-6.5 0.5h6"/>
<path stroke="#f0e442" d="m506.5 632v1m-3.5 0.5h6m-6.5 0.5v1m7-1v1m-8 0v6m9-6v2m-0.5 0.5h2m-1.5 0.5v3m-8 0v1m7-1v1m-6.5 0.5h6"/>
<path stroke="#f0e442" d="m777.5 654v1m-3.5 0.5h6m-6.5 0.5v1m7-1v1m-8 0v6m9-6v2m-0.5 0.5h2m-1.5 0.5v3m-8 0v1m7-1v1m-6.5 0.5h6"/>
<path stroke="#f0e442" d="m566.5 788v1m-3.5 0.5h6m-6.5 0.5v1m7-1v1m-8 0v6m9-6v2m-0.5 0.5h2m-1.5 0.5v3m-8 0v1m7-1v1m-6.5 0.5h6"/>
<path stroke="#f0e442" d="m391 52.5h6m-6.5 0.5v1m7-1v1m-8 0v6m9-6v2m-0.5 0.5h2m-1.5 0.5v3m-8 0v1m7-1v1m-6.5 0.5h6"/>
<path stroke="#0072b2" d="m319.5 349v1m-3.5 0.5h6m-6.5 0.5v1m7-1v1m-8 0v6m9-6v2m-0.5 0.5h2m-1.5 0.5v3m-8 0v1m7-1v1m-6.5 0.5h6"/>
<path stroke="#0072b2" d="m606.5 362v1m-3.5 0.5h6m-6.5 0.5v1m7-1v1m-8 0v6m9-6v2m-0.5 0.5h2m-1.5 0.5v3m-8 0v1m7-1v1m-6.5 0.5h6"/>
<path stroke="#0072b2" d="m925.5 289v1m-3.5 0.5h6m-6.5 0.5v1m7-1v1m-8 0v6m9-6v2m-0.5 0.5h2m-1.5 0.5v3m-8 0v1m7-1v1m-6.5 0.5h6"/>
<path stroke="#0072b2" d="m678.5 465v1m-3.5 0.5h6m-6.5 0.5v1m7-1v1m-8 0v6m9-6v2m-0.5 0.5h2m-1.5 0.5v3m-8 0v1m7-1v1m-6.5 0.5h6"/>
<path stroke="#f0e442" d="m926.5 663v1m-3.5 0.5h6m-6.5 0.5v1m7-1v1m-8 0v6m9-6v6m-8 0v1m7-1v1m-6.5 0.5h6"/>
<path stroke="#f0e442" d="m926.5 740v1m-3.5 0.5h6m-6.5 0.5v1m7-1v1m-8 0v6m9-6v6m-8 0v1m7-1v1m-6.5 0.5h6"/>
<path stroke="#f0e442" d="m564 52.5h6m-6.5 0.5v1m7-1v1m-8 0v6m9-6v2m-0.5 0.5h2m-1.5 0.5v3m-8 0v1m7-1v1m-6.5 0.5h6"/>
<path stroke="#0072b2" d="m605.5 159v1m-3.5 0.5h6m-6.5 0.5v1m7-1v1m-8 0v6m9-6v2m-0.5 0.5h2m-1.5 0.5v3m-8 0v1m7-1v1m-6.5 0.5h6"/>
<path stroke="#0072b2" d="m787.5 297v1m-3.5 0.5h6m-6.5 0.5v1m7-1v1m-8 0v6m9-6v2m-0.5 0.5h2m-1.5 0.5v3m-8 0v1m7-1v1m-6.5 0.5h6"/>
<path stroke="#0072b2" d="m759.5 332v1m-3.5 0.5h6m-6.5 0.5v1m7-1v1m-8 0v6m9-6v2m-0.5 0.5h2m-1.5 0.5v3m-8 0v1m7-1v1m-6.5 0.5h6"/>
<path stroke="#0072b2" d="m664.5 364v1m-3.5 0.5h6m-6.5 0.5v1m7-1v1m-8 0v6m9-6v2m-0.5 0.5h2m-1.5 0.5v3m-8 0v1m7-1v1m-6.5 0.5h6"/>
<path stroke="#0072b2" d="m654.5 370v1m-3.5 0.5h6m-6.5 0.5v1m7-1v1m-8 0v6m9-6v2m-0.5 0.5h2m-1.5 0.5v3m-8 0v1m7-1v1m-6.5 0.5h6"/>
<path stroke="#f0e442" d="m236.5 855v1m-3.5 0.5h6m-6.5 0.5v1m7-1v1m-8 0v6m9-6v2m-0.5 0.5h2m-1.5 0.5v3m-8 0v1m7-1v1"/>
<path stroke="#f0e442" d="m237 52.5h6m-6.5 0.5v1m7-1v1m-8 0v6m9-6v2m-0.5 0.5h2m-1.5 0.5v3m-8 0v1m7-1v1m-6.5 0.5h6"/>
<path stroke="#f0e442" d="m483 52.5h6m-6.5 0.5v1m7-1v1m-8 0v6m9-6v2m-0.5 0.5h2m-1.5 0.5v3m-8 0v1m7-1v1m-6.5 0.5h6"/>
<path stroke="#f0e442" d="m725 52.5h6m-6.5 0.5v1m7-1v1m-8 0v6m9-6v2m-0.5 0.5h2m-1.5 0.5v3m-8 0v1m7-1v1m-6.5 0.5h6"/>
<path stroke="#f0e442" d="m122.5 395v1m-3.5 0.5h6m-6.5 0.5v1m7-1v1m1 0v2m-0.5 0.5h2m-1.5 0.5v3m-8 0v1m7-1v1m-6.5 0.5h6"/>
<path stroke="#f0e442" d="m122.5 471v1m-3.5 0.5h6m-6.5 0.5v1m7-1v1m1 0v2m-0.5 0.5h2m-1.5 0.5v3m-8 0v1m7-1v1m-6.5 0.5h6"/>
<path stroke="#f0e442" d="m568.5 855v1m-3.5 0.5h6m-6.5 0.5v1m7-1v1m-8 0v6m9-6v2m-0.5 0.5h2m-1.5 0.5v3m-8 0v1m7-1v1"/>
<path stroke="#f0e442" d="m739.5 855v1m-3.5 0.5h6m-6.5 0.5v1m7-1v1m-8 0v6m9-6v2m-0.5 0.5h2m-1.5 0.5v3m-8 0v1m7-1v1"/>
<path stroke="#f0e442" d="m122.5 167v1m-3.5 0.5h6m-6.5 0.5v1m7-1v1m1 0v2m-0.5 0.5h2m-1.5 0.5v3m-8 0v1m7-1v1m-6.5 0.5h6"/>
<path stroke="#f0e442" d="m805 52.5h6m-6.5 0.5v1m7-1v1m-8 0v6m9-6v2m-0.5 0.5h2m-1.5 0.5v3m-8 0v1m7-1v1m-6.5 0.5h6"/>
<path stroke="#e69f00" d="m593.5 397v1m-3.5 0.5h6m-7 1h2m4 0h2m-7.5 0.5v4m7-4v1m-0.5 0.5h2m-1.5 0.5v2m-7.5 0.5h2m4 0h2m-7 1h6"/>
<path stroke="#f0e442" d="m625.5 856v1m-3.5 0.5h6m-7 1h2m4 0h2m-7.5 0.5v4m7-4v1m-0.5 0.5h2m-1.5 0.5v2m-7.5 0.5h2m4 0h2m-7 1h6"/>
<path stroke="#e69f00" d="m885 52.5h6m-7 1h2m4 0h2m-7.5 0.5v4m7-4v1m-0.5 0.5h2m-1.5 0.5v2m-7.5 0.5h2m4 0h2m-7 1h6"/>
<path stroke="#e69f00" d="m927.5 167v1m-3.5 0.5h6m-7 1h2m4 0h2m-7.5 0.5v4m7-4v4m-7.5 0.5h2m4 0h2m-7 1h6"/>
<path stroke="#e69f00" d="m810.5 388v1m-3.5 0.5h6m-7 1h2m4 0h2m-7.5 0.5v4m7-4v1m-0.5 0.5h2m-1.5 0.5v2m-7.5 0.5h2m4 0h2m-7 1h6"/>
<path stroke="#e69f00" d="m317 52.5h6m-7 1h2m4 0h2m-7.5 0.5v4m7-4v1m-0.5 0.5h2m-1.5 0.5v2m-7.5 0.5h2m4 0h2m-7 1h6"/>
<path stroke="#e69f00" d="m644 52.5h6m-7 1h2m4 0h2m-7.5 0.5v4m7-4v1m-0.5 0.5h2m-1.5 0.5v2m-7.5 0.5h2m4 0h2m-7 1h6"/>
<path stroke="#e69f00" d="m927.5 90v1m-3.5 0.5h6m-7 1h2m4 0h2m-7.5 0.5v4m7-4v4m-7.5 0.5h2m4 0h2m-7 1h6"/>
<path stroke="#e69f00" d="m927.5 212v1m-3.5 0.5h6m-7 1h2m4 0h2m-7.5 0.5v4m7-4v4m-7.5 0.5h2m4 0h2m-7 1h6"/>
<path stroke="#e69f00" d="m784.5 319v1m-3.5 0.5h6m-7 1h2m4 0h2m-7.5 0.5v4m7-4v1m-0.5 0.5h2m-1.5 0.5v2m-7.5 0.5h2m4 0h2m-7 1h6"/>
<path stroke="#e69f00" d="m927.5 260v1m-3.5 0.5h6m-7 1h2m4 0h2m-7.5 0.5v4m7-4v4m-7.5 0.5h2m4 0h2m-7 1h6"/>
<path stroke="#e69f00" d="m168.5 508v1m-3.5 0.5h6m-7 1h2m4 0h2m-7.5 0.5v4m7-4v1m-0.5 0.5h2m-1.5 0.5v2m-7.5 0.5h2m4 0h2m-7 1h6"/>
<path stroke="#e69f00" d="m158 52.5h6m-7 1h2m4 0h2m-7.5 0.5v4m7-4v1m-0.5 0.5h2m-1.5 0.5v2m-7.5 0.5h2m4 0h2m-7 1h6"/>
<path stroke="#56b4e9" d="m419 52.5h6m-7 1h2m4 0h2m-7.5 0.5v4m7-4v1m-0.5 0.5h2m-1.5 0.5v2m-7.5 0.5h2m4 0h2m-7 1h6"/>
<path stroke="#56b4e9" d="m927.5 300v1m-3.5 0.5h6m-7 1h2m4 0h2m-7.5 0.5v4m7-4v4m-7.5 0.5h2m4 0h2m-7 1h6"/>
<path stroke="#e69f00" d="m927.5 365v1m-3.5 0.5h6m-7 1h2m4 0h2m-7.5 0.5v4m7-4v4m-7.5 0.5h2m4 0h2m-7 1h6"/>
<path stroke="#e69f00" d="m121.5 539v1m-3.5 0.5h6m-5.5 0.5v1m4.5-0.5h2m-0.5 0.5v1m-0.5 0.5h2m-1.5 0.5v2m-6 0v1m4.5-0.5h2m-7 1h6"/>
<path stroke="#56b4e9" d="m928.5 593v1m-3.5 0.5h6m-0.5 0.5v1m-6.5-0.5h2m-1.5 0.5v4m6 0v1m-6.5-0.5h2m-1 1h6"/>
<path stroke="#e69f00" d="m386.5 857v1m-3.5 0.5h6m-7 1h2m4 0h2m-7.5 0.5v4m7-4v1m-0.5 0.5h2m-1.5 0.5v2m-7.5 0.5h2m4 0h2"/>
<path stroke="#e69f00" d="m456.5 857v1m-3.5 0.5h6m-7 1h2m4 0h2m-7.5 0.5v4m7-4v1m-0.5 0.5h2m-1.5 0.5v2m-7.5 0.5h2m4 0h2"/>
<path stroke="#e69f00" d="m310.5 857v1m-3.5 0.5h6m-7 1h2m4 0h2m-7.5 0.5v4m7-4v1m-0.5 0.5h2m-1.5 0.5v2m-7.5 0.5h2m4 0h2"/>
<path stroke="#e69f00" d="m815.5 857v1m-3.5 0.5h6m-7 1h2m4 0h2m-7.5 0.5v4m7-4v1m-0.5 0.5h2m-1.5 0.5v2m-7.5 0.5h2m4 0h2"/>
<path stroke="#56b4e9" d="m928.5 818v1m-3.5 0.5h6m-0.5 0.5v1m-6.5-0.5h2m-1.5 0.5v4m6 0v1m-6.5-0.5h2m-1 1h6"/>
<path stroke="#e69f00" d="m887.5 857v1m-3.5 0.5h6m-7 1h2m4 0h2m-7.5 0.5v4m7-4v1m-0.5 0.5h2m-1.5 0.5v2m-7.5 0.5h2m4 0h2"/>
<path stroke="#e69f00" d="m121.5 245v1m-3.5 0.5h6m-5.5 0.5v1m4.5-0.5h2m-0.5 0.5v1m-0.5 0.5h2m-1.5 0.5v2m-6 0v1m4.5-0.5h2m-7 1h6"/>
<path stroke="#e69f00" d="m121.5 321v1m-3.5 0.5h6m-5.5 0.5v1m4.5-0.5h2m-0.5 0.5v1m-0.5 0.5h2m-1.5 0.5v2m-6 0v1m4.5-0.5h2m-7 1h6"/>
<path stroke="#e69f00" d="m121.5 593v1m-3.5 0.5h6m-5.5 0.5v1m4.5-0.5h2m-0.5 0.5v1m-0.5 0.5h2m-1.5 0.5v2m-6 0v1m4.5-0.5h2m-7 1h6"/>
<path stroke="#e69f00" d="m121.5 746v1m-3.5 0.5h6m-5.5 0.5v1m4.5-0.5h2m-0.5 0.5v1m-0.5 0.5h2m-1.5 0.5v2m-6 0v1m4.5-0.5h2m-7 1h6"/>
<path stroke="#56b4e9" d="m928.5 506v1m-3.5 0.5h6m-0.5 0.5v1m-6.5-0.5h2m-1.5 0.5v4m6 0v1m-6.5-0.5h2m-1 1h6"/>
<path stroke="#e69f00" d="m121.5 90v1m-3.5 0.5h6m-5.5 0.5v1m4.5-0.5h2m-0.5 0.5v1m-0.5 0.5h2m-1.5 0.5v2m-6 0v1m4.5-0.5h2m-7 1h6"/>
<path stroke="#56b4e9" d="m290 52.5h2m4 0h2m-7.5 0.5v4m7-4v1m-0.5 0.5h2m-1.5 0.5v2m-7.5 0.5h2m4 0h2m-7 1h6"/>
<path stroke="#56b4e9" d="m120.5 819v1m-2.5 0.5h5m-0.5 0.5v1m-0.5 0.5h2m-1.5 0.5v2m-4.5 0.5h5"/>
<path stroke="#56b4e9" d="m491 52.5h6m-5.5 0.5v4m5-4v1m-0.5 0.5h2m-1.5 0.5v2m-5.5 0.5h6"/>
<path stroke="#56b4e9" d="m556 52.5h6m-5.5 0.5v4m5-4v1m-0.5 0.5h2m-1.5 0.5v2m-5.5 0.5h6"/>
<path stroke="#56b4e9" d="m651 52.5h6m-5.5 0.5v4m5-4v1m-0.5 0.5h2m-1.5 0.5v2m-5.5 0.5h6"/>
<path stroke="#56b4e9" d="m120.5 502v1m-2.5 0.5h5m-0.5 0.5v1m-0.5 0.5h2m-1.5 0.5v2m-4.5 0.5h5"/>
<path stroke="#009e73" d="m929.5 449v1m-3.5 0.5h5m-4.5 0.5v4m-0.5 0.5h5"/>
<path stroke="#009e73" d="m929.5 544v1m-3.5 0.5h5m-4.5 0.5v4m-0.5 0.5h5"/>
<path stroke="#56b4e9" d="m120.5 660v1m-2.5 0.5h5m-0.5 0.5v1m-0.5 0.5h2m-1.5 0.5v2m-4.5 0.5h5"/>
<path stroke="#009e73" d="m929.5 691v1m-3.5 0.5h5m-4.5 0.5v4m-0.5 0.5h5"/>
<path stroke="#56b4e9" d="m228.5 859v1m-3.5 0.5h6m-5.5 0.5v4m5-4v1m-0.5 0.5h2m-1.5 0.5v2"/>
<path stroke="#56b4e9" d="m160.5 859v1m-3.5 0.5h6m-5.5 0.5v4m5-4v1m-0.5 0.5h2m-1.5 0.5v2"/>
<path stroke="#56b4e9" d="m524.5 859v1m-3.5 0.5h6m-5.5 0.5v4m5-4v1m-0.5 0.5h2m-1.5 0.5v2"/>
<path stroke="#56b4e9" d="m668.5 859v1m-3.5 0.5h6m-5.5 0.5v4m5-4v1m-0.5 0.5h2m-1.5 0.5v2"/>
<path stroke="#009e73" d="m929.5 836v1m-3.5 0.5h5m-4.5 0.5v4m-0.5 0.5h5"/>
<path stroke="#56b4e9" d="m120.5 161v1m-2.5 0.5h5m-0.5 0.5v1m-0.5 0.5h2m-1.5 0.5v2m-4.5 0.5h5"/>
<path stroke="#56b4e9" d="m120.5 193v1m-2.5 0.5h5m-0.5 0.5v1m-0.5 0.5h2m-1.5 0.5v2m-4.5 0.5h5"/>
<path stroke="#56b4e9" d="m455 52.5h6m-5.5 0.5v4m5-4v1m-0.5 0.5h2m-1.5 0.5v2m-5.5 0.5h6"/>
<path stroke="#56b4e9" d="m622 52.5h6m-5.5 0.5v4m5-4v1m-0.5 0.5h2m-1.5 0.5v2m-5.5 0.5h6"/>
<path stroke="#56b4e9" d="m120.5 253v1m-2.5 0.5h5m-0.5 0.5v1m-0.5 0.5h2m-1.5 0.5v2m-4.5 0.5h5"/>
<path stroke="#009e73" d="m929.5 388v1m-3.5 0.5h5m-4.5 0.5v4m-0.5 0.5h5"/>
<path stroke="#009e73" d="m929.5 414v1m-3.5 0.5h5m-4.5 0.5v4m-0.5 0.5h5"/>
<path stroke="#009e73" d="m728.5 859v1m-3.5 0.5h6m-5.5 0.5v4m5-4v1m-0.5 0.5h2m-1.5 0.5v2"/>
<path stroke="#009e73" d="m789.5 859v1m-3.5 0.5h6m-5.5 0.5v4m5-4v1m-0.5 0.5h2m-1.5 0.5v2"/>
<path stroke="#009e73" d="m929.5 749v1m-3.5 0.5h5m-4.5 0.5v4m-0.5 0.5h5"/>
<path stroke="#009e73" d="m929.5 754v1m-3.5 0.5h5m-4.5 0.5v4m-0.5 0.5h5"/>
<path stroke="#56b4e9" d="m229 52.5h6m-5.5 0.5v4m5-4v1m-0.5 0.5h2m-1.5 0.5v2m-5.5 0.5h6"/>
<path stroke="#009e73" d="m290.5 860v1m-3.5 0.5h6m-5.5 0.5v3m5-3v1m-0.5 0.5h2m-1.5 0.5v1"/>
<path stroke="#009e73" d="m167.5 52v4m5-4v1m-0.5 0.5h2m-1.5 0.5v2m-5.5 0.5h6"/>
<path stroke="#009e73" d="m783.5 52v4m5-4v1m-0.5 0.5h2m-1.5 0.5v2m-5.5 0.5h6"/>
<path stroke="#9400d3" d="m574.5 861v1m-2.5 0.5h4m-3.5 0.5v2m2.5-1.5h2m-1.5 0.5v1"/>
<path stroke="#009e73" d="m579.5 860v1m-2.5 0.5h4m-3.5 0.5v2m2.5-1.5h2m-1.5 0.5v1m-3.5 0.5h4"/>
<path stroke="#9400d3" d="m631.5 861v1m-2.5 0.5h4m-3.5 0.5v2m2.5-1.5h2m-1.5 0.5v1"/>
<path stroke="#9400d3" d="m311 52.5h4m-3.5 0.5v2m2.5-1.5h2m-1.5 0.5v1m-3.5 0.5h4"/>
<path stroke="#009e73" d="m119.5 371v1m-1.5 0.5h3m-1 1h2m-1.5 0.5v1m-2.5 0.5h3"/>
<path stroke="#009e73" d="m119.5 466v1m-1.5 0.5h3m-1 1h2m-1.5 0.5v1m-2.5 0.5h3"/>
<path stroke="#009e73" d="m119.5 575v1m-1.5 0.5h3m-1 1h2m-1.5 0.5v1m-2.5 0.5h3"/>
<path stroke="#9400d3" d="m119.5 743v1m-1.5 0.5h3m-1 1h2m-1.5 0.5v1m-2.5 0.5h3"/>
<path stroke="#9400d3" d="m219.5 861v1m-2.5 0.5h4m-3.5 0.5v2m2.5-1.5h2m-1.5 0.5v1"/>
<path stroke="#009e73" d="m119.5 815v1m-1.5 0.5h3m-1 1h2m-1.5 0.5v1m-2.5 0.5h3"/>
<path stroke="#9400d3" d="m118 52.5h3m-1 1h2m-1.5 0.5v1m-2.5 0.5h3"/>
<path stroke="#9400d3" d="m617 52.5h4m-3.5 0.5v2m2.5-1.5h2m-1.5 0.5v1m-3.5 0.5h4"/>
<path stroke="#9400d3" d="m928 52.5h3m-2.5 0.5v2m-0.5 0.5h3"/>
<path stroke="#9400d3" d="m119.5 860v1m-1.5 0.5h3m-1 1h2m-1.5 0.5v1m-2.5 0.5h3"/>
<path stroke="#9400d3" d="m930.5 860v1m-2.5 0.5h3m-2.5 0.5v2m-0.5 0.5h3"/>
<path stroke="#9400d3" d="m930.5 283v1m-2.5 0.5h3m-2.5 0.5v2m-0.5 0.5h3"/>
<path stroke="#9400d3" d="m930.5 550v1m-2.5 0.5h3m-2.5 0.5v2m-0.5 0.5h3"/>
<path stroke="#9400d3" d="m930.5 671v1m-2.5 0.5h3m-2.5 0.5v2m-0.5 0.5h3"/>
<path stroke="#9400d3" d="m930.5 759v1m-2.5 0.5h3m-2.5 0.5v2m-0.5 0.5h3"/>
</g>
<g stroke="#000" stroke-width="1" fill="none" shape-rendering="crispEdges">
<rect x="117.5" y="51.5" width="814" height="814"/>
<path d="M117.5 865.5v-9M117.5 51.5v9M117.5 865.5h9M931.5 865.5h-9M280.5 865.5v-9M280.5 51.5v9M117.5 702.5h9M931.5 702.5h-9M443.5 865.5v-9M443.5 51.5v9M117.5 539.5h9M931.5 539.5h-9M605.5 865.5v-9M605.5 51.5v9M117.5 377.5h9M931.5 377.5h-9M768.5 865.5v-9M768.5 51.5v9M117.5 214.5h9M931.5 214.5h-9M931.5 865.5v-9M931.5 51.5v9M117.5 51.5h9M931.5 51.5h-9"/>
</g>
<text x="119" y="887" text-anchor="middle">0</text>
<text x="106.3" y="870" text-anchor="end">0</text>
<text x="281.8" y="887" text-anchor="middle">200</text>
<text x="106.3" y="707.2" text-anchor="end">200</text>
<text x="444.6" y="887" text-anchor="middle">400</text>
<text x="106.3" y="544.4" text-anchor="end">400</text>
<text x="607.4" y="887" text-anchor="middle">600</text>
<text x="106.3" y="381.6" text-anchor="end">600</text>
<text x="770.2" y="887" text-anchor="middle">800</text>
<text x="106.3" y="218.8" text-anchor="end">800</text>
<text x="933" y="887" text-anchor="middle">1000</text>
<text x="106.3" y="56" text-anchor="end">1000</text>
<text x="523.7" y="31" text-anchor="middle" style="font-size:16.13px">LinearRadiusVariationForest mit B=0.89634130</text>
</svg></body></html>
